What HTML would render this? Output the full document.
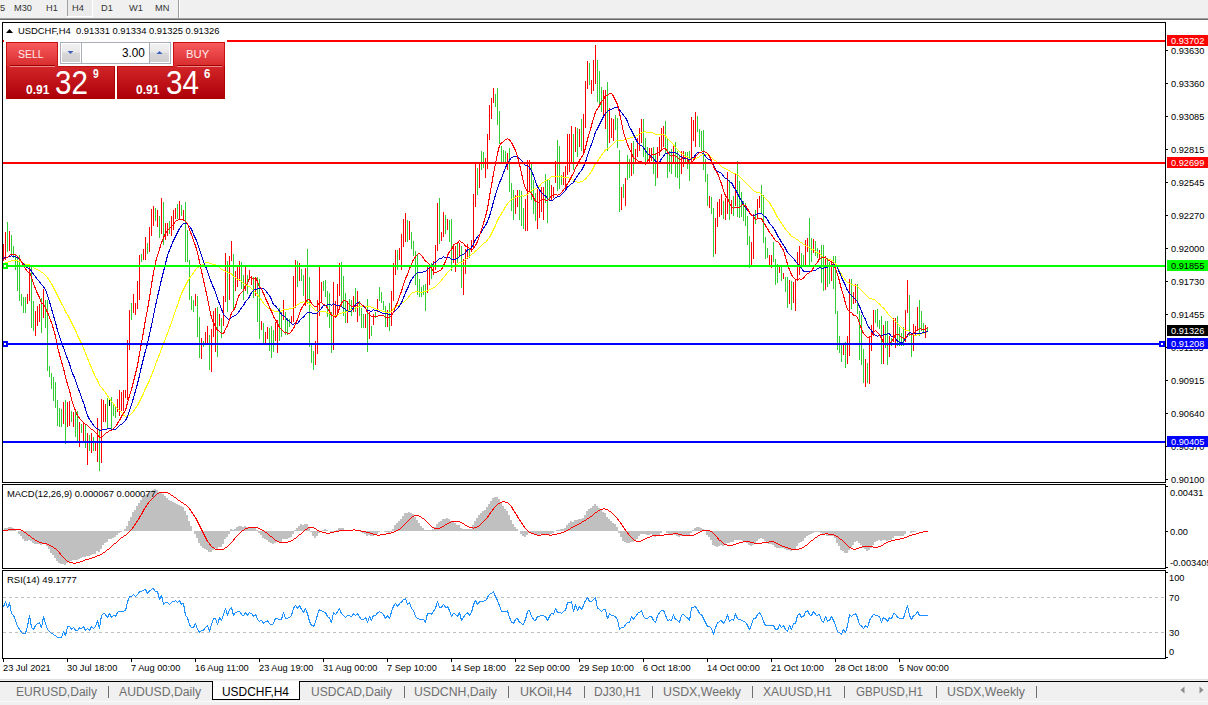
<!DOCTYPE html><html><head><meta charset="utf-8"><style>
html,body{margin:0;padding:0;width:1208px;height:705px;overflow:hidden;background:#fff;}
body{position:relative;font-family:"Liberation Sans",sans-serif;}
.a{position:absolute;white-space:nowrap;}
svg text{font-family:"Liberation Sans",sans-serif;}
</style></head><body>

<div class="a" style="left:0;top:0;width:1208px;height:18px;background:#f0f0f0"></div>
<div class="a" style="left:0;top:18px;width:1208px;height:1px;background:#a0a0a0"></div>
<div class="a" style="left:0;top:19px;width:1208px;height:1px;background:#696969"></div>
<div class="a" style="left:68px;top:0;width:24px;height:16px;background:#ebebeb"></div>
<div class="a" style="left:92px;top:0;width:1px;height:17px;background:#fff"></div>
<div class="a" style="left:67px;top:16px;width:26px;height:1px;background:#fff"></div>
<div class="a" style="left:67px;top:0;width:1px;height:16px;background:#a0a0a0"></div>
<div class="a" style="left:178px;top:0;width:1px;height:18px;background:#a0a0a0"></div>
<div class="a" style="left:179px;top:0;width:1px;height:18px;background:#fff"></div>
<svg class="a" style="left:0;top:0" width="1208" height="705">
<g transform="translate(0,11) scale(0.974,1)"><text x="0" y="0" font-size="9.5" fill="#333">5</text></g>
<g transform="translate(14,11) scale(0.974,1)"><text x="0" y="0" font-size="9.5" fill="#333">M30</text></g>
<g transform="translate(46,11) scale(0.974,1)"><text x="0" y="0" font-size="9.5" fill="#333">H1</text></g>
<g transform="translate(72,11) scale(0.974,1)"><text x="0" y="0" font-size="9.5" fill="#333">H4</text></g>
<g transform="translate(101,11) scale(0.974,1)"><text x="0" y="0" font-size="9.5" fill="#333">D1</text></g>
<g transform="translate(129,11) scale(0.974,1)"><text x="0" y="0" font-size="9.5" fill="#333">W1</text></g>
<g transform="translate(155,11) scale(0.974,1)"><text x="0" y="0" font-size="9.5" fill="#333">MN</text></g>
<g shape-rendering="crispEdges">
<rect x="3" y="244" width="1" height="17" fill="#ff0000"/>
<rect x="5" y="232" width="1" height="28" fill="#ff0000"/>
<rect x="7" y="222" width="1" height="30" fill="#32cd32"/>
<rect x="9" y="231" width="1" height="20" fill="#ff0000"/>
<rect x="11" y="235" width="1" height="21" fill="#32cd32"/>
<rect x="13" y="246" width="1" height="12" fill="#32cd32"/>
<rect x="15" y="255" width="1" height="15" fill="#32cd32"/>
<rect x="17" y="256" width="1" height="35" fill="#32cd32"/>
<rect x="19" y="255" width="1" height="46" fill="#32cd32"/>
<rect x="21" y="294" width="1" height="12" fill="#32cd32"/>
<rect x="23" y="297" width="1" height="16" fill="#32cd32"/>
<rect x="25" y="297" width="1" height="16" fill="#32cd32"/>
<rect x="27" y="294" width="1" height="10" fill="#ff0000"/>
<rect x="29" y="267" width="1" height="34" fill="#ff0000"/>
<rect x="31" y="267" width="1" height="61" fill="#32cd32"/>
<rect x="33" y="301" width="1" height="30" fill="#32cd32"/>
<rect x="35" y="311" width="1" height="25" fill="#ff0000"/>
<rect x="37" y="306" width="1" height="20" fill="#ff0000"/>
<rect x="39" y="304" width="1" height="18" fill="#ff0000"/>
<rect x="41" y="298" width="1" height="35" fill="#32cd32"/>
<rect x="43" y="289" width="1" height="29" fill="#ff0000"/>
<rect x="45" y="300" width="1" height="28" fill="#32cd32"/>
<rect x="47" y="300" width="1" height="71" fill="#32cd32"/>
<rect x="49" y="366" width="1" height="11" fill="#32cd32"/>
<rect x="51" y="373" width="1" height="16" fill="#32cd32"/>
<rect x="53" y="377" width="1" height="24" fill="#32cd32"/>
<rect x="55" y="382" width="1" height="26" fill="#32cd32"/>
<rect x="57" y="400" width="1" height="26" fill="#32cd32"/>
<rect x="59" y="408" width="1" height="19" fill="#32cd32"/>
<rect x="61" y="409" width="1" height="18" fill="#32cd32"/>
<rect x="63" y="402" width="1" height="22" fill="#ff0000"/>
<rect x="65" y="400" width="1" height="44" fill="#32cd32"/>
<rect x="67" y="402" width="1" height="25" fill="#ff0000"/>
<rect x="69" y="401" width="1" height="25" fill="#ff0000"/>
<rect x="71" y="411" width="1" height="11" fill="#32cd32"/>
<rect x="73" y="412" width="1" height="15" fill="#ff0000"/>
<rect x="75" y="411" width="1" height="26" fill="#32cd32"/>
<rect x="77" y="411" width="1" height="32" fill="#32cd32"/>
<rect x="79" y="422" width="1" height="25" fill="#ff0000"/>
<rect x="81" y="424" width="1" height="9" fill="#32cd32"/>
<rect x="83" y="422" width="1" height="19" fill="#ff0000"/>
<rect x="85" y="425" width="1" height="23" fill="#32cd32"/>
<rect x="87" y="433" width="1" height="32" fill="#ff0000"/>
<rect x="89" y="435" width="1" height="16" fill="#32cd32"/>
<rect x="91" y="433" width="1" height="20" fill="#ff0000"/>
<rect x="93" y="437" width="1" height="14" fill="#32cd32"/>
<rect x="95" y="441" width="1" height="10" fill="#ff0000"/>
<rect x="97" y="418" width="1" height="44" fill="#ff0000"/>
<rect x="99" y="429" width="1" height="42" fill="#32cd32"/>
<rect x="101" y="399" width="1" height="64" fill="#ff0000"/>
<rect x="103" y="400" width="1" height="22" fill="#ff0000"/>
<rect x="105" y="404" width="1" height="18" fill="#ff0000"/>
<rect x="107" y="398" width="1" height="31" fill="#32cd32"/>
<rect x="109" y="399" width="1" height="7" fill="#000"/>
<rect x="111" y="397" width="1" height="32" fill="#32cd32"/>
<rect x="113" y="403" width="1" height="13" fill="#32cd32"/>
<rect x="115" y="406" width="1" height="12" fill="#32cd32"/>
<rect x="117" y="399" width="1" height="13" fill="#ff0000"/>
<rect x="119" y="390" width="1" height="26" fill="#ff0000"/>
<rect x="121" y="392" width="1" height="19" fill="#ff0000"/>
<rect x="123" y="390" width="1" height="21" fill="#ff0000"/>
<rect x="125" y="390" width="1" height="8" fill="#ff0000"/>
<rect x="127" y="340" width="1" height="60" fill="#ff0000"/>
<rect x="129" y="310" width="1" height="40" fill="#ff0000"/>
<rect x="131" y="303" width="1" height="17" fill="#32cd32"/>
<rect x="133" y="294" width="1" height="19" fill="#ff0000"/>
<rect x="135" y="303" width="1" height="12" fill="#ff0000"/>
<rect x="137" y="281" width="1" height="28" fill="#ff0000"/>
<rect x="139" y="255" width="1" height="45" fill="#ff0000"/>
<rect x="141" y="254" width="1" height="8" fill="#32cd32"/>
<rect x="143" y="249" width="1" height="11" fill="#ff0000"/>
<rect x="145" y="237" width="1" height="23" fill="#ff0000"/>
<rect x="147" y="243" width="1" height="11" fill="#32cd32"/>
<rect x="149" y="227" width="1" height="25" fill="#ff0000"/>
<rect x="151" y="209" width="1" height="27" fill="#ff0000"/>
<rect x="153" y="206" width="1" height="20" fill="#ff0000"/>
<rect x="155" y="208" width="1" height="13" fill="#32cd32"/>
<rect x="157" y="210" width="1" height="17" fill="#ff0000"/>
<rect x="159" y="216" width="1" height="22" fill="#32cd32"/>
<rect x="161" y="198" width="1" height="36" fill="#ff0000"/>
<rect x="163" y="202" width="1" height="43" fill="#32cd32"/>
<rect x="165" y="223" width="1" height="17" fill="#ff0000"/>
<rect x="167" y="223" width="1" height="13" fill="#ff0000"/>
<rect x="169" y="221" width="1" height="13" fill="#32cd32"/>
<rect x="171" y="216" width="1" height="20" fill="#ff0000"/>
<rect x="173" y="210" width="1" height="20" fill="#ff0000"/>
<rect x="175" y="208" width="1" height="11" fill="#ff0000"/>
<rect x="177" y="204" width="1" height="15" fill="#32cd32"/>
<rect x="179" y="201" width="1" height="18" fill="#ff0000"/>
<rect x="181" y="205" width="1" height="11" fill="#32cd32"/>
<rect x="183" y="210" width="1" height="11" fill="#ff0000"/>
<rect x="185" y="202" width="1" height="60" fill="#32cd32"/>
<rect x="187" y="230" width="1" height="32" fill="#32cd32"/>
<rect x="189" y="260" width="1" height="40" fill="#32cd32"/>
<rect x="191" y="296" width="1" height="14" fill="#32cd32"/>
<rect x="193" y="300" width="1" height="12" fill="#32cd32"/>
<rect x="195" y="294" width="1" height="12" fill="#ff0000"/>
<rect x="197" y="296" width="1" height="41" fill="#32cd32"/>
<rect x="199" y="317" width="1" height="41" fill="#32cd32"/>
<rect x="201" y="338" width="1" height="21" fill="#ff0000"/>
<rect x="203" y="341" width="1" height="6" fill="#32cd32"/>
<rect x="205" y="332" width="1" height="13" fill="#ff0000"/>
<rect x="207" y="326" width="1" height="17" fill="#ff0000"/>
<rect x="209" y="335" width="1" height="35" fill="#32cd32"/>
<rect x="211" y="329" width="1" height="43" fill="#ff0000"/>
<rect x="213" y="311" width="1" height="26" fill="#ff0000"/>
<rect x="215" y="308" width="1" height="44" fill="#ff0000"/>
<rect x="217" y="307" width="1" height="50" fill="#32cd32"/>
<rect x="219" y="314" width="1" height="12" fill="#ff0000"/>
<rect x="221" y="318" width="1" height="20" fill="#32cd32"/>
<rect x="223" y="296" width="1" height="30" fill="#ff0000"/>
<rect x="225" y="253" width="1" height="49" fill="#ff0000"/>
<rect x="227" y="261" width="1" height="51" fill="#32cd32"/>
<rect x="229" y="256" width="1" height="44" fill="#ff0000"/>
<rect x="231" y="241" width="1" height="20" fill="#ff0000"/>
<rect x="233" y="254" width="1" height="56" fill="#32cd32"/>
<rect x="235" y="271" width="1" height="20" fill="#ff0000"/>
<rect x="237" y="265" width="1" height="22" fill="#ff0000"/>
<rect x="239" y="261" width="1" height="20" fill="#ff0000"/>
<rect x="241" y="262" width="1" height="27" fill="#32cd32"/>
<rect x="243" y="275" width="1" height="25" fill="#32cd32"/>
<rect x="245" y="266" width="1" height="25" fill="#ff0000"/>
<rect x="247" y="275" width="1" height="19" fill="#32cd32"/>
<rect x="249" y="270" width="1" height="9" fill="#ff0000"/>
<rect x="251" y="276" width="1" height="9" fill="#ff0000"/>
<rect x="253" y="277" width="1" height="21" fill="#32cd32"/>
<rect x="255" y="278" width="1" height="18" fill="#ff0000"/>
<rect x="257" y="277" width="1" height="45" fill="#32cd32"/>
<rect x="259" y="279" width="1" height="60" fill="#32cd32"/>
<rect x="261" y="321" width="1" height="9" fill="#ff0000"/>
<rect x="263" y="323" width="1" height="22" fill="#32cd32"/>
<rect x="265" y="332" width="1" height="13" fill="#ff0000"/>
<rect x="267" y="327" width="1" height="12" fill="#ff0000"/>
<rect x="269" y="328" width="1" height="23" fill="#32cd32"/>
<rect x="271" y="326" width="1" height="32" fill="#32cd32"/>
<rect x="273" y="330" width="1" height="22" fill="#32cd32"/>
<rect x="275" y="322" width="1" height="19" fill="#ff0000"/>
<rect x="277" y="320" width="1" height="33" fill="#ff0000"/>
<rect x="279" y="308" width="1" height="33" fill="#32cd32"/>
<rect x="281" y="312" width="1" height="25" fill="#32cd32"/>
<rect x="283" y="300" width="1" height="20" fill="#ff0000"/>
<rect x="285" y="312" width="1" height="23" fill="#32cd32"/>
<rect x="287" y="318" width="1" height="17" fill="#32cd32"/>
<rect x="289" y="319" width="1" height="8" fill="#32cd32"/>
<rect x="291" y="316" width="1" height="8" fill="#ff0000"/>
<rect x="293" y="276" width="1" height="46" fill="#ff0000"/>
<rect x="295" y="260" width="1" height="48" fill="#ff0000"/>
<rect x="297" y="261" width="1" height="26" fill="#32cd32"/>
<rect x="299" y="263" width="1" height="18" fill="#ff0000"/>
<rect x="301" y="269" width="1" height="12" fill="#32cd32"/>
<rect x="303" y="275" width="1" height="21" fill="#32cd32"/>
<rect x="305" y="268" width="1" height="38" fill="#ff0000"/>
<rect x="307" y="249" width="1" height="55" fill="#32cd32"/>
<rect x="309" y="277" width="1" height="70" fill="#32cd32"/>
<rect x="311" y="343" width="1" height="20" fill="#32cd32"/>
<rect x="313" y="351" width="1" height="19" fill="#32cd32"/>
<rect x="315" y="341" width="1" height="24" fill="#ff0000"/>
<rect x="317" y="300" width="1" height="54" fill="#ff0000"/>
<rect x="319" y="267" width="1" height="49" fill="#ff0000"/>
<rect x="321" y="282" width="1" height="20" fill="#ff0000"/>
<rect x="323" y="281" width="1" height="10" fill="#32cd32"/>
<rect x="325" y="280" width="1" height="17" fill="#32cd32"/>
<rect x="327" y="291" width="1" height="26" fill="#32cd32"/>
<rect x="329" y="293" width="1" height="35" fill="#32cd32"/>
<rect x="331" y="312" width="1" height="41" fill="#32cd32"/>
<rect x="333" y="282" width="1" height="68" fill="#ff0000"/>
<rect x="335" y="301" width="1" height="17" fill="#ff0000"/>
<rect x="337" y="284" width="1" height="29" fill="#ff0000"/>
<rect x="339" y="263" width="1" height="33" fill="#ff0000"/>
<rect x="341" y="262" width="1" height="44" fill="#32cd32"/>
<rect x="343" y="276" width="1" height="40" fill="#32cd32"/>
<rect x="345" y="293" width="1" height="30" fill="#32cd32"/>
<rect x="347" y="301" width="1" height="22" fill="#ff0000"/>
<rect x="349" y="299" width="1" height="13" fill="#32cd32"/>
<rect x="351" y="300" width="1" height="16" fill="#32cd32"/>
<rect x="353" y="296" width="1" height="16" fill="#ff0000"/>
<rect x="355" y="288" width="1" height="24" fill="#32cd32"/>
<rect x="357" y="291" width="1" height="31" fill="#ff0000"/>
<rect x="359" y="301" width="1" height="15" fill="#32cd32"/>
<rect x="361" y="308" width="1" height="20" fill="#32cd32"/>
<rect x="363" y="314" width="1" height="14" fill="#32cd32"/>
<rect x="365" y="314" width="1" height="14" fill="#ff0000"/>
<rect x="367" y="299" width="1" height="53" fill="#32cd32"/>
<rect x="369" y="312" width="1" height="27" fill="#ff0000"/>
<rect x="371" y="326" width="1" height="10" fill="#32cd32"/>
<rect x="373" y="314" width="1" height="11" fill="#ff0000"/>
<rect x="375" y="312" width="1" height="6" fill="#32cd32"/>
<rect x="377" y="299" width="1" height="13" fill="#ff0000"/>
<rect x="379" y="287" width="1" height="14" fill="#32cd32"/>
<rect x="381" y="292" width="1" height="11" fill="#32cd32"/>
<rect x="383" y="301" width="1" height="9" fill="#32cd32"/>
<rect x="385" y="306" width="1" height="21" fill="#32cd32"/>
<rect x="387" y="310" width="1" height="17" fill="#ff0000"/>
<rect x="389" y="303" width="1" height="28" fill="#32cd32"/>
<rect x="391" y="291" width="1" height="35" fill="#ff0000"/>
<rect x="393" y="263" width="1" height="38" fill="#ff0000"/>
<rect x="395" y="250" width="1" height="25" fill="#ff0000"/>
<rect x="397" y="250" width="1" height="20" fill="#32cd32"/>
<rect x="399" y="248" width="1" height="12" fill="#ff0000"/>
<rect x="401" y="234" width="1" height="36" fill="#ff0000"/>
<rect x="403" y="219" width="1" height="28" fill="#ff0000"/>
<rect x="405" y="213" width="1" height="29" fill="#ff0000"/>
<rect x="407" y="220" width="1" height="22" fill="#32cd32"/>
<rect x="409" y="221" width="1" height="19" fill="#ff0000"/>
<rect x="411" y="232" width="1" height="17" fill="#32cd32"/>
<rect x="413" y="241" width="1" height="15" fill="#32cd32"/>
<rect x="415" y="251" width="1" height="34" fill="#32cd32"/>
<rect x="417" y="254" width="1" height="41" fill="#32cd32"/>
<rect x="419" y="279" width="1" height="18" fill="#32cd32"/>
<rect x="421" y="287" width="1" height="10" fill="#32cd32"/>
<rect x="423" y="285" width="1" height="10" fill="#32cd32"/>
<rect x="425" y="284" width="1" height="27" fill="#32cd32"/>
<rect x="427" y="266" width="1" height="27" fill="#ff0000"/>
<rect x="429" y="267" width="1" height="18" fill="#ff0000"/>
<rect x="431" y="263" width="1" height="16" fill="#32cd32"/>
<rect x="433" y="261" width="1" height="14" fill="#ff0000"/>
<rect x="435" y="245" width="1" height="25" fill="#ff0000"/>
<rect x="437" y="203" width="1" height="48" fill="#ff0000"/>
<rect x="439" y="198" width="1" height="46" fill="#32cd32"/>
<rect x="441" y="232" width="1" height="9" fill="#ff0000"/>
<rect x="443" y="212" width="1" height="25" fill="#ff0000"/>
<rect x="445" y="215" width="1" height="19" fill="#32cd32"/>
<rect x="447" y="219" width="1" height="11" fill="#ff0000"/>
<rect x="449" y="220" width="1" height="22" fill="#32cd32"/>
<rect x="451" y="219" width="1" height="52" fill="#32cd32"/>
<rect x="453" y="244" width="1" height="19" fill="#ff0000"/>
<rect x="455" y="246" width="1" height="26" fill="#ff0000"/>
<rect x="457" y="243" width="1" height="20" fill="#32cd32"/>
<rect x="459" y="243" width="1" height="14" fill="#ff0000"/>
<rect x="461" y="246" width="1" height="42" fill="#32cd32"/>
<rect x="463" y="259" width="1" height="36" fill="#ff0000"/>
<rect x="465" y="249" width="1" height="25" fill="#ff0000"/>
<rect x="467" y="244" width="1" height="15" fill="#ff0000"/>
<rect x="469" y="248" width="1" height="10" fill="#32cd32"/>
<rect x="471" y="240" width="1" height="12" fill="#ff0000"/>
<rect x="473" y="194" width="1" height="55" fill="#ff0000"/>
<rect x="475" y="163" width="1" height="44" fill="#ff0000"/>
<rect x="477" y="168" width="1" height="27" fill="#32cd32"/>
<rect x="479" y="163" width="1" height="25" fill="#ff0000"/>
<rect x="481" y="151" width="1" height="19" fill="#32cd32"/>
<rect x="483" y="152" width="1" height="16" fill="#32cd32"/>
<rect x="485" y="158" width="1" height="20" fill="#ff0000"/>
<rect x="487" y="134" width="1" height="35" fill="#ff0000"/>
<rect x="489" y="105" width="1" height="35" fill="#ff0000"/>
<rect x="491" y="98" width="1" height="21" fill="#ff0000"/>
<rect x="493" y="88" width="1" height="15" fill="#ff0000"/>
<rect x="495" y="94" width="1" height="13" fill="#32cd32"/>
<rect x="497" y="88" width="1" height="37" fill="#32cd32"/>
<rect x="499" y="111" width="1" height="33" fill="#32cd32"/>
<rect x="501" y="146" width="1" height="16" fill="#32cd32"/>
<rect x="503" y="150" width="1" height="13" fill="#32cd32"/>
<rect x="505" y="151" width="1" height="11" fill="#32cd32"/>
<rect x="507" y="153" width="1" height="17" fill="#ff0000"/>
<rect x="509" y="148" width="1" height="44" fill="#32cd32"/>
<rect x="511" y="183" width="1" height="28" fill="#32cd32"/>
<rect x="513" y="190" width="1" height="30" fill="#32cd32"/>
<rect x="515" y="195" width="1" height="19" fill="#ff0000"/>
<rect x="517" y="190" width="1" height="17" fill="#ff0000"/>
<rect x="519" y="190" width="1" height="30" fill="#32cd32"/>
<rect x="521" y="191" width="1" height="35" fill="#32cd32"/>
<rect x="523" y="208" width="1" height="21" fill="#32cd32"/>
<rect x="525" y="199" width="1" height="32" fill="#ff0000"/>
<rect x="527" y="160" width="1" height="71" fill="#ff0000"/>
<rect x="529" y="160" width="1" height="32" fill="#ff0000"/>
<rect x="531" y="164" width="1" height="36" fill="#32cd32"/>
<rect x="533" y="180" width="1" height="34" fill="#32cd32"/>
<rect x="535" y="193" width="1" height="28" fill="#32cd32"/>
<rect x="537" y="189" width="1" height="40" fill="#ff0000"/>
<rect x="539" y="190" width="1" height="28" fill="#ff0000"/>
<rect x="541" y="187" width="1" height="25" fill="#ff0000"/>
<rect x="543" y="187" width="1" height="33" fill="#ff0000"/>
<rect x="545" y="174" width="1" height="29" fill="#32cd32"/>
<rect x="547" y="179" width="1" height="44" fill="#32cd32"/>
<rect x="549" y="180" width="1" height="21" fill="#32cd32"/>
<rect x="551" y="185" width="1" height="15" fill="#ff0000"/>
<rect x="553" y="187" width="1" height="11" fill="#ff0000"/>
<rect x="555" y="161" width="1" height="22" fill="#ff0000"/>
<rect x="557" y="140" width="1" height="51" fill="#32cd32"/>
<rect x="559" y="146" width="1" height="43" fill="#32cd32"/>
<rect x="561" y="175" width="1" height="10" fill="#32cd32"/>
<rect x="563" y="172" width="1" height="13" fill="#ff0000"/>
<rect x="565" y="166" width="1" height="25" fill="#ff0000"/>
<rect x="567" y="134" width="1" height="41" fill="#ff0000"/>
<rect x="569" y="134" width="1" height="38" fill="#ff0000"/>
<rect x="571" y="126" width="1" height="37" fill="#ff0000"/>
<rect x="573" y="134" width="1" height="36" fill="#32cd32"/>
<rect x="575" y="127" width="1" height="25" fill="#ff0000"/>
<rect x="577" y="128" width="1" height="29" fill="#32cd32"/>
<rect x="579" y="129" width="1" height="18" fill="#ff0000"/>
<rect x="581" y="119" width="1" height="32" fill="#32cd32"/>
<rect x="583" y="114" width="1" height="39" fill="#ff0000"/>
<rect x="585" y="81" width="1" height="47" fill="#ff0000"/>
<rect x="587" y="61" width="1" height="28" fill="#ff0000"/>
<rect x="589" y="63" width="1" height="22" fill="#32cd32"/>
<rect x="591" y="80" width="1" height="14" fill="#ff0000"/>
<rect x="593" y="60" width="1" height="31" fill="#ff0000"/>
<rect x="595" y="45" width="1" height="39" fill="#ff0000"/>
<rect x="597" y="60" width="1" height="42" fill="#32cd32"/>
<rect x="599" y="71" width="1" height="33" fill="#32cd32"/>
<rect x="601" y="87" width="1" height="25" fill="#32cd32"/>
<rect x="603" y="90" width="1" height="27" fill="#ff0000"/>
<rect x="605" y="90" width="1" height="39" fill="#ff0000"/>
<rect x="607" y="82" width="1" height="69" fill="#32cd32"/>
<rect x="609" y="108" width="1" height="35" fill="#ff0000"/>
<rect x="611" y="118" width="1" height="20" fill="#ff0000"/>
<rect x="613" y="119" width="1" height="22" fill="#ff0000"/>
<rect x="615" y="115" width="1" height="15" fill="#32cd32"/>
<rect x="617" y="118" width="1" height="30" fill="#32cd32"/>
<rect x="619" y="150" width="1" height="62" fill="#32cd32"/>
<rect x="621" y="187" width="1" height="23" fill="#ff0000"/>
<rect x="623" y="184" width="1" height="14" fill="#32cd32"/>
<rect x="625" y="178" width="1" height="28" fill="#ff0000"/>
<rect x="627" y="155" width="1" height="25" fill="#32cd32"/>
<rect x="629" y="159" width="1" height="19" fill="#32cd32"/>
<rect x="631" y="143" width="1" height="33" fill="#ff0000"/>
<rect x="633" y="141" width="1" height="33" fill="#32cd32"/>
<rect x="635" y="149" width="1" height="15" fill="#ff0000"/>
<rect x="637" y="138" width="1" height="19" fill="#ff0000"/>
<rect x="639" y="128" width="1" height="23" fill="#ff0000"/>
<rect x="641" y="119" width="1" height="24" fill="#ff0000"/>
<rect x="643" y="119" width="1" height="38" fill="#32cd32"/>
<rect x="645" y="138" width="1" height="25" fill="#32cd32"/>
<rect x="647" y="147" width="1" height="15" fill="#32cd32"/>
<rect x="649" y="148" width="1" height="15" fill="#ff0000"/>
<rect x="651" y="148" width="1" height="13" fill="#ff0000"/>
<rect x="653" y="147" width="1" height="27" fill="#32cd32"/>
<rect x="655" y="153" width="1" height="33" fill="#32cd32"/>
<rect x="657" y="147" width="1" height="31" fill="#ff0000"/>
<rect x="659" y="137" width="1" height="19" fill="#ff0000"/>
<rect x="661" y="128" width="1" height="21" fill="#ff0000"/>
<rect x="663" y="126" width="1" height="21" fill="#ff0000"/>
<rect x="665" y="121" width="1" height="33" fill="#32cd32"/>
<rect x="667" y="138" width="1" height="40" fill="#32cd32"/>
<rect x="669" y="151" width="1" height="21" fill="#32cd32"/>
<rect x="671" y="149" width="1" height="25" fill="#32cd32"/>
<rect x="673" y="146" width="1" height="17" fill="#ff0000"/>
<rect x="675" y="142" width="1" height="35" fill="#32cd32"/>
<rect x="677" y="151" width="1" height="27" fill="#32cd32"/>
<rect x="679" y="155" width="1" height="34" fill="#32cd32"/>
<rect x="681" y="151" width="1" height="23" fill="#ff0000"/>
<rect x="683" y="151" width="1" height="16" fill="#ff0000"/>
<rect x="685" y="152" width="1" height="10" fill="#32cd32"/>
<rect x="687" y="152" width="1" height="17" fill="#32cd32"/>
<rect x="689" y="151" width="1" height="30" fill="#32cd32"/>
<rect x="691" y="117" width="1" height="46" fill="#ff0000"/>
<rect x="693" y="120" width="1" height="21" fill="#ff0000"/>
<rect x="695" y="112" width="1" height="35" fill="#ff0000"/>
<rect x="697" y="116" width="1" height="16" fill="#32cd32"/>
<rect x="699" y="129" width="1" height="18" fill="#32cd32"/>
<rect x="701" y="131" width="1" height="20" fill="#32cd32"/>
<rect x="703" y="130" width="1" height="40" fill="#32cd32"/>
<rect x="705" y="159" width="1" height="23" fill="#32cd32"/>
<rect x="707" y="174" width="1" height="32" fill="#32cd32"/>
<rect x="709" y="196" width="1" height="12" fill="#ff0000"/>
<rect x="711" y="197" width="1" height="17" fill="#32cd32"/>
<rect x="713" y="208" width="1" height="49" fill="#32cd32"/>
<rect x="715" y="218" width="1" height="36" fill="#ff0000"/>
<rect x="717" y="202" width="1" height="25" fill="#ff0000"/>
<rect x="719" y="199" width="1" height="18" fill="#ff0000"/>
<rect x="721" y="194" width="1" height="21" fill="#ff0000"/>
<rect x="723" y="201" width="1" height="18" fill="#32cd32"/>
<rect x="725" y="198" width="1" height="22" fill="#ff0000"/>
<rect x="727" y="172" width="1" height="42" fill="#ff0000"/>
<rect x="729" y="180" width="1" height="40" fill="#32cd32"/>
<rect x="731" y="200" width="1" height="14" fill="#ff0000"/>
<rect x="733" y="196" width="1" height="20" fill="#32cd32"/>
<rect x="735" y="174" width="1" height="32" fill="#ff0000"/>
<rect x="737" y="161" width="1" height="56" fill="#32cd32"/>
<rect x="739" y="181" width="1" height="37" fill="#32cd32"/>
<rect x="741" y="192" width="1" height="25" fill="#32cd32"/>
<rect x="743" y="201" width="1" height="20" fill="#32cd32"/>
<rect x="745" y="203" width="1" height="23" fill="#32cd32"/>
<rect x="747" y="216" width="1" height="29" fill="#32cd32"/>
<rect x="749" y="236" width="1" height="32" fill="#32cd32"/>
<rect x="751" y="242" width="1" height="25" fill="#ff0000"/>
<rect x="753" y="214" width="1" height="45" fill="#ff0000"/>
<rect x="755" y="210" width="1" height="14" fill="#32cd32"/>
<rect x="757" y="199" width="1" height="20" fill="#ff0000"/>
<rect x="759" y="196" width="1" height="12" fill="#ff0000"/>
<rect x="761" y="185" width="1" height="29" fill="#32cd32"/>
<rect x="763" y="195" width="1" height="48" fill="#32cd32"/>
<rect x="765" y="237" width="1" height="22" fill="#32cd32"/>
<rect x="767" y="248" width="1" height="10" fill="#32cd32"/>
<rect x="769" y="255" width="1" height="12" fill="#ff0000"/>
<rect x="771" y="255" width="1" height="13" fill="#ff0000"/>
<rect x="773" y="242" width="1" height="20" fill="#32cd32"/>
<rect x="775" y="259" width="1" height="26" fill="#32cd32"/>
<rect x="777" y="264" width="1" height="19" fill="#32cd32"/>
<rect x="779" y="265" width="1" height="8" fill="#ff0000"/>
<rect x="781" y="267" width="1" height="14" fill="#32cd32"/>
<rect x="783" y="273" width="1" height="6" fill="#ff0000"/>
<rect x="785" y="277" width="1" height="15" fill="#32cd32"/>
<rect x="787" y="277" width="1" height="31" fill="#32cd32"/>
<rect x="789" y="280" width="1" height="24" fill="#ff0000"/>
<rect x="791" y="281" width="1" height="29" fill="#32cd32"/>
<rect x="793" y="282" width="1" height="21" fill="#ff0000"/>
<rect x="795" y="279" width="1" height="32" fill="#ff0000"/>
<rect x="797" y="252" width="1" height="29" fill="#ff0000"/>
<rect x="799" y="246" width="1" height="29" fill="#ff0000"/>
<rect x="801" y="253" width="1" height="16" fill="#32cd32"/>
<rect x="803" y="255" width="1" height="10" fill="#32cd32"/>
<rect x="805" y="240" width="1" height="25" fill="#ff0000"/>
<rect x="807" y="238" width="1" height="14" fill="#ff0000"/>
<rect x="809" y="218" width="1" height="47" fill="#32cd32"/>
<rect x="811" y="238" width="1" height="24" fill="#32cd32"/>
<rect x="813" y="239" width="1" height="14" fill="#ff0000"/>
<rect x="815" y="241" width="1" height="15" fill="#32cd32"/>
<rect x="817" y="248" width="1" height="10" fill="#32cd32"/>
<rect x="819" y="250" width="1" height="10" fill="#ff0000"/>
<rect x="821" y="245" width="1" height="38" fill="#32cd32"/>
<rect x="823" y="245" width="1" height="46" fill="#32cd32"/>
<rect x="825" y="256" width="1" height="34" fill="#ff0000"/>
<rect x="827" y="258" width="1" height="29" fill="#32cd32"/>
<rect x="829" y="262" width="1" height="22" fill="#32cd32"/>
<rect x="831" y="262" width="1" height="19" fill="#ff0000"/>
<rect x="833" y="256" width="1" height="33" fill="#32cd32"/>
<rect x="835" y="256" width="1" height="58" fill="#32cd32"/>
<rect x="837" y="311" width="1" height="39" fill="#32cd32"/>
<rect x="839" y="336" width="1" height="17" fill="#32cd32"/>
<rect x="841" y="344" width="1" height="18" fill="#32cd32"/>
<rect x="843" y="343" width="1" height="12" fill="#ff0000"/>
<rect x="845" y="342" width="1" height="26" fill="#32cd32"/>
<rect x="847" y="336" width="1" height="28" fill="#ff0000"/>
<rect x="849" y="279" width="1" height="77" fill="#ff0000"/>
<rect x="851" y="279" width="1" height="30" fill="#32cd32"/>
<rect x="853" y="292" width="1" height="12" fill="#ff0000"/>
<rect x="855" y="284" width="1" height="19" fill="#ff0000"/>
<rect x="857" y="284" width="1" height="30" fill="#32cd32"/>
<rect x="859" y="311" width="1" height="49" fill="#32cd32"/>
<rect x="861" y="315" width="1" height="50" fill="#32cd32"/>
<rect x="863" y="349" width="1" height="34" fill="#32cd32"/>
<rect x="865" y="359" width="1" height="28" fill="#ff0000"/>
<rect x="867" y="363" width="1" height="20" fill="#32cd32"/>
<rect x="869" y="336" width="1" height="48" fill="#ff0000"/>
<rect x="871" y="325" width="1" height="26" fill="#ff0000"/>
<rect x="873" y="310" width="1" height="26" fill="#ff0000"/>
<rect x="875" y="310" width="1" height="13" fill="#32cd32"/>
<rect x="877" y="309" width="1" height="18" fill="#32cd32"/>
<rect x="879" y="320" width="1" height="9" fill="#32cd32"/>
<rect x="881" y="316" width="1" height="48" fill="#32cd32"/>
<rect x="883" y="325" width="1" height="39" fill="#ff0000"/>
<rect x="885" y="321" width="1" height="27" fill="#32cd32"/>
<rect x="887" y="321" width="1" height="44" fill="#32cd32"/>
<rect x="889" y="336" width="1" height="21" fill="#ff0000"/>
<rect x="891" y="338" width="1" height="8" fill="#32cd32"/>
<rect x="893" y="318" width="1" height="24" fill="#ff0000"/>
<rect x="895" y="318" width="1" height="30" fill="#ff0000"/>
<rect x="897" y="316" width="1" height="30" fill="#32cd32"/>
<rect x="899" y="327" width="1" height="19" fill="#32cd32"/>
<rect x="901" y="333" width="1" height="13" fill="#32cd32"/>
<rect x="903" y="327" width="1" height="19" fill="#32cd32"/>
<rect x="905" y="310" width="1" height="32" fill="#ff0000"/>
<rect x="907" y="280" width="1" height="33" fill="#ff0000"/>
<rect x="909" y="295" width="1" height="41" fill="#32cd32"/>
<rect x="911" y="334" width="1" height="23" fill="#32cd32"/>
<rect x="913" y="324" width="1" height="27" fill="#ff0000"/>
<rect x="915" y="326" width="1" height="10" fill="#ff0000"/>
<rect x="917" y="307" width="1" height="24" fill="#ff0000"/>
<rect x="919" y="300" width="1" height="36" fill="#32cd32"/>
<rect x="921" y="311" width="1" height="20" fill="#32cd32"/>
<rect x="923" y="323" width="1" height="10" fill="#32cd32"/>
<rect x="925" y="325" width="1" height="13" fill="#ff0000"/>
<rect x="927" y="328" width="1" height="3" fill="#32cd32"/>
</g>
<path d="M3 263h1v1h-1zM4 263h1v1h-1zM5 262h1v1h-1zM6 262h1v1h-1zM7 262h1v1h-1zM8 261h1v1h-1zM9 261h1v1h-1zM10 261h1v1h-1zM11 260h1v1h-1zM12 260h1v1h-1zM13 260h1v1h-1zM14 260h1v1h-1zM15 260h1v1h-1zM16 260h1v1h-1zM17 260h1v1h-1zM18 261h1v1h-1zM19 261h1v1h-1zM20 261h1v1h-1zM21 262h1v1h-1zM22 262h1v1h-1zM23 263h1v1h-1zM24 263h1v1h-1zM25 264h1v1h-1zM26 264h1v1h-1zM27 264h1v1h-1zM28 264h1v1h-1zM29 264h1v1h-1zM30 265h1v1h-1zM31 266h1v1h-1zM32 266h1v1h-1zM33 267h1v1h-1zM34 268h1v1h-1zM35 268h1v1h-1zM36 269h1v1h-1zM37 269h1v1h-1zM38 270h1v1h-1zM39 270h1v1h-1zM40 271h1v1h-1zM41 272h1v1h-1zM42 272h1v1h-1zM43 273h1v1h-1zM44 274h1v1h-1zM45 275h1v1h-1zM46 276h1v1h-1zM47 277h1v2h-1zM48 278h1v2h-1zM49 280h1v2h-1zM50 281h1v2h-1zM51 283h1v2h-1zM52 284h1v3h-1zM53 286h1v3h-1zM54 288h1v3h-1zM55 290h1v3h-1zM56 292h1v3h-1zM57 294h1v3h-1zM58 296h1v3h-1zM59 298h1v3h-1zM60 300h1v3h-1zM61 302h1v3h-1zM62 304h1v2h-1zM63 306h1v2h-1zM64 308h1v3h-1zM65 310h1v3h-1zM66 312h1v2h-1zM67 314h1v2h-1zM68 315h1v3h-1zM69 317h1v3h-1zM70 319h1v3h-1zM71 321h1v3h-1zM72 323h1v3h-1zM73 325h1v3h-1zM74 327h1v3h-1zM75 329h1v3h-1zM76 331h1v3h-1zM77 334h1v3h-1zM78 336h1v3h-1zM79 338h1v3h-1zM80 340h1v3h-1zM81 342h1v3h-1zM82 344h1v3h-1zM83 347h1v3h-1zM84 349h1v3h-1zM85 352h1v3h-1zM86 354h1v3h-1zM87 357h1v3h-1zM88 359h1v3h-1zM89 362h1v3h-1zM90 364h1v3h-1zM91 366h1v3h-1zM92 369h1v3h-1zM93 371h1v3h-1zM94 373h1v3h-1zM95 376h1v2h-1zM96 378h1v2h-1zM97 379h1v3h-1zM98 381h1v3h-1zM99 384h1v2h-1zM100 386h1v1h-1zM101 387h1v1h-1zM102 388h1v2h-1zM103 389h1v2h-1zM104 391h1v1h-1zM105 392h1v2h-1zM106 393h1v2h-1zM107 395h1v2h-1zM108 396h1v2h-1zM109 398h1v2h-1zM110 399h1v2h-1zM111 401h1v1h-1zM112 402h1v1h-1zM113 403h1v2h-1zM114 404h1v2h-1zM115 406h1v1h-1zM116 407h1v1h-1zM117 408h1v1h-1zM118 409h1v1h-1zM119 410h1v1h-1zM120 411h1v1h-1zM121 412h1v1h-1zM122 413h1v2h-1zM123 414h1v2h-1zM124 415h1v1h-1zM125 416h1v1h-1zM126 416h1v1h-1zM127 416h1v1h-1zM128 415h1v1h-1zM129 415h1v1h-1zM130 414h1v1h-1zM131 413h1v1h-1zM132 412h1v1h-1zM133 410h1v2h-1zM134 409h1v2h-1zM135 407h1v2h-1zM136 406h1v2h-1zM137 404h1v2h-1zM138 402h1v3h-1zM139 400h1v3h-1zM140 398h1v3h-1zM141 396h1v3h-1zM142 394h1v3h-1zM143 392h1v3h-1zM144 389h1v3h-1zM145 387h1v3h-1zM146 385h1v3h-1zM147 383h1v3h-1zM148 381h1v3h-1zM149 379h1v3h-1zM150 376h1v3h-1zM151 374h1v3h-1zM152 371h1v3h-1zM153 369h1v3h-1zM154 366h1v3h-1zM155 363h1v3h-1zM156 360h1v3h-1zM157 358h1v3h-1zM158 355h1v3h-1zM159 353h1v3h-1zM160 350h1v3h-1zM161 347h1v3h-1zM162 345h1v3h-1zM163 342h1v3h-1zM164 340h1v3h-1zM165 337h1v3h-1zM166 334h1v3h-1zM167 332h1v3h-1zM168 329h1v3h-1zM169 326h1v3h-1zM170 324h1v3h-1zM171 321h1v3h-1zM172 318h1v3h-1zM173 315h1v3h-1zM174 312h1v3h-1zM175 309h1v3h-1zM176 306h1v3h-1zM177 304h1v3h-1zM178 300h1v4h-1zM179 297h1v4h-1zM180 295h1v3h-1zM181 292h1v3h-1zM182 290h1v3h-1zM183 288h1v3h-1zM184 286h1v3h-1zM185 284h1v3h-1zM186 282h1v3h-1zM187 280h1v3h-1zM188 279h1v2h-1zM189 277h1v2h-1zM190 276h1v2h-1zM191 275h1v1h-1zM192 273h1v2h-1zM193 272h1v2h-1zM194 270h1v2h-1zM195 269h1v2h-1zM196 268h1v1h-1zM197 267h1v1h-1zM198 267h1v1h-1zM199 266h1v1h-1zM200 266h1v1h-1zM201 265h1v1h-1zM202 264h1v1h-1zM203 264h1v1h-1zM204 263h1v1h-1zM205 262h1v1h-1zM206 262h1v1h-1zM207 262h1v1h-1zM208 262h1v1h-1zM209 263h1v1h-1zM210 263h1v1h-1zM211 263h1v1h-1zM212 264h1v1h-1zM213 264h1v1h-1zM214 264h1v1h-1zM215 264h1v1h-1zM216 265h1v1h-1zM217 266h1v1h-1zM218 266h1v1h-1zM219 267h1v1h-1zM220 268h1v1h-1zM221 269h1v1h-1zM222 269h1v1h-1zM223 270h1v1h-1zM224 270h1v1h-1zM225 271h1v1h-1zM226 271h1v1h-1zM227 272h1v1h-1zM228 272h1v1h-1zM229 273h1v1h-1zM230 273h1v1h-1zM231 273h1v2h-1zM232 274h1v2h-1zM233 276h1v1h-1zM234 276h1v1h-1zM235 277h1v1h-1zM236 278h1v1h-1zM237 279h1v1h-1zM238 279h1v1h-1zM239 279h1v1h-1zM240 280h1v1h-1zM241 281h1v1h-1zM242 282h1v1h-1zM243 283h1v1h-1zM244 283h1v1h-1zM245 284h1v1h-1zM246 285h1v1h-1zM247 285h1v1h-1zM248 286h1v1h-1zM249 286h1v1h-1zM250 287h1v1h-1zM251 288h1v1h-1zM252 289h1v1h-1zM253 290h1v1h-1zM254 291h1v1h-1zM255 292h1v1h-1zM256 293h1v1h-1zM257 294h1v2h-1zM258 295h1v2h-1zM259 297h1v1h-1zM260 298h1v2h-1zM261 299h1v2h-1zM262 301h1v2h-1zM263 302h1v2h-1zM264 304h1v1h-1zM265 305h1v1h-1zM266 306h1v1h-1zM267 307h1v1h-1zM268 308h1v1h-1zM269 308h1v1h-1zM270 309h1v1h-1zM271 309h1v1h-1zM272 310h1v1h-1zM273 310h1v1h-1zM274 311h1v1h-1zM275 311h1v1h-1zM276 311h1v1h-1zM277 311h1v1h-1zM278 311h1v1h-1zM279 311h1v1h-1zM280 311h1v1h-1zM281 310h1v1h-1zM282 310h1v1h-1zM283 309h1v1h-1zM284 309h1v1h-1zM285 309h1v1h-1zM286 309h1v1h-1zM287 309h1v1h-1zM288 309h1v1h-1zM289 308h1v1h-1zM290 308h1v1h-1zM291 308h1v1h-1zM292 308h1v1h-1zM293 307h1v1h-1zM294 307h1v1h-1zM295 306h1v1h-1zM296 305h1v1h-1zM297 304h1v1h-1zM298 304h1v1h-1zM299 303h1v1h-1zM300 302h1v1h-1zM301 302h1v1h-1zM302 302h1v1h-1zM303 301h1v1h-1zM304 302h1v1h-1zM305 302h1v1h-1zM306 302h1v1h-1zM307 302h1v1h-1zM308 302h1v1h-1zM309 303h1v2h-1zM310 304h1v2h-1zM311 306h1v1h-1zM312 307h1v1h-1zM313 308h1v1h-1zM314 309h1v1h-1zM315 310h1v1h-1zM316 310h1v1h-1zM317 311h1v1h-1zM318 311h1v1h-1zM319 311h1v1h-1zM320 311h1v1h-1zM321 311h1v1h-1zM322 311h1v1h-1zM323 311h1v1h-1zM324 311h1v1h-1zM325 311h1v1h-1zM326 312h1v1h-1zM327 312h1v1h-1zM328 313h1v1h-1zM329 313h1v1h-1zM330 314h1v1h-1zM331 315h1v1h-1zM332 315h1v1h-1zM333 315h1v1h-1zM334 315h1v1h-1zM335 315h1v1h-1zM336 315h1v1h-1zM337 315h1v1h-1zM338 314h1v1h-1zM339 313h1v1h-1zM340 313h1v1h-1zM341 313h1v1h-1zM342 312h1v1h-1zM343 312h1v1h-1zM344 312h1v1h-1zM345 312h1v1h-1zM346 311h1v1h-1zM347 311h1v1h-1zM348 310h1v1h-1zM349 310h1v1h-1zM350 309h1v1h-1zM351 309h1v1h-1zM352 308h1v1h-1zM353 308h1v1h-1zM354 308h1v1h-1zM355 307h1v1h-1zM356 307h1v1h-1zM357 307h1v1h-1zM358 306h1v1h-1zM359 306h1v1h-1zM360 306h1v1h-1zM361 306h1v1h-1zM362 306h1v1h-1zM363 306h1v1h-1zM364 306h1v1h-1zM365 306h1v1h-1zM366 306h1v1h-1zM367 306h1v1h-1zM368 306h1v1h-1zM369 306h1v1h-1zM370 306h1v1h-1zM371 307h1v1h-1zM372 307h1v1h-1zM373 307h1v1h-1zM374 308h1v1h-1zM375 308h1v1h-1zM376 309h1v1h-1zM377 309h1v1h-1zM378 309h1v1h-1zM379 310h1v1h-1zM380 310h1v1h-1zM381 310h1v1h-1zM382 311h1v1h-1zM383 311h1v1h-1zM384 311h1v1h-1zM385 312h1v1h-1zM386 312h1v1h-1zM387 312h1v1h-1zM388 312h1v1h-1zM389 312h1v1h-1zM390 311h1v1h-1zM391 311h1v1h-1zM392 309h1v2h-1zM393 308h1v2h-1zM394 307h1v1h-1zM395 306h1v1h-1zM396 306h1v1h-1zM397 305h1v1h-1zM398 305h1v1h-1zM399 304h1v1h-1zM400 304h1v1h-1zM401 303h1v1h-1zM402 302h1v1h-1zM403 302h1v1h-1zM404 301h1v1h-1zM405 300h1v1h-1zM406 299h1v1h-1zM407 298h1v1h-1zM408 296h1v2h-1zM409 295h1v2h-1zM410 294h1v1h-1zM411 293h1v1h-1zM412 292h1v1h-1zM413 292h1v1h-1zM414 292h1v1h-1zM415 291h1v1h-1zM416 291h1v1h-1zM417 291h1v1h-1zM418 291h1v1h-1zM419 292h1v1h-1zM420 292h1v1h-1zM421 292h1v1h-1zM422 292h1v1h-1zM423 291h1v1h-1zM424 291h1v1h-1zM425 291h1v1h-1zM426 291h1v1h-1zM427 290h1v1h-1zM428 290h1v1h-1zM429 289h1v1h-1zM430 289h1v1h-1zM431 288h1v1h-1zM432 288h1v1h-1zM433 287h1v1h-1zM434 287h1v1h-1zM435 286h1v1h-1zM436 285h1v1h-1zM437 284h1v1h-1zM438 283h1v1h-1zM439 282h1v1h-1zM440 281h1v1h-1zM441 279h1v2h-1zM442 278h1v2h-1zM443 277h1v1h-1zM444 276h1v1h-1zM445 274h1v2h-1zM446 273h1v2h-1zM447 272h1v1h-1zM448 271h1v1h-1zM449 270h1v1h-1zM450 269h1v1h-1zM451 268h1v1h-1zM452 267h1v1h-1zM453 266h1v1h-1zM454 265h1v1h-1zM455 265h1v1h-1zM456 264h1v1h-1zM457 264h1v1h-1zM458 263h1v1h-1zM459 262h1v1h-1zM460 262h1v1h-1zM461 262h1v1h-1zM462 261h1v1h-1zM463 261h1v1h-1zM464 260h1v1h-1zM465 259h1v1h-1zM466 258h1v1h-1zM467 257h1v1h-1zM468 256h1v1h-1zM469 256h1v1h-1zM470 255h1v1h-1zM471 254h1v1h-1zM472 253h1v1h-1zM473 253h1v1h-1zM474 251h1v2h-1zM475 250h1v2h-1zM476 250h1v1h-1zM477 249h1v1h-1zM478 248h1v1h-1zM479 247h1v1h-1zM480 246h1v1h-1zM481 245h1v1h-1zM482 244h1v1h-1zM483 243h1v1h-1zM484 242h1v1h-1zM485 242h1v1h-1zM486 240h1v2h-1zM487 239h1v2h-1zM488 238h1v1h-1zM489 236h1v2h-1zM490 234h1v3h-1zM491 232h1v3h-1zM492 230h1v3h-1zM493 228h1v3h-1zM494 226h1v3h-1zM495 224h1v3h-1zM496 221h1v3h-1zM497 219h1v3h-1zM498 217h1v3h-1zM499 216h1v2h-1zM500 214h1v2h-1zM501 212h1v3h-1zM502 211h1v2h-1zM503 209h1v2h-1zM504 207h1v3h-1zM505 206h1v2h-1zM506 204h1v2h-1zM507 203h1v2h-1zM508 202h1v1h-1zM509 201h1v1h-1zM510 200h1v1h-1zM511 199h1v1h-1zM512 199h1v1h-1zM513 198h1v1h-1zM514 197h1v1h-1zM515 197h1v1h-1zM516 196h1v1h-1zM517 196h1v1h-1zM518 196h1v1h-1zM519 196h1v1h-1zM520 196h1v1h-1zM521 195h1v1h-1zM522 195h1v1h-1zM523 196h1v1h-1zM524 195h1v1h-1zM525 195h1v1h-1zM526 194h1v1h-1zM527 194h1v1h-1zM528 193h1v1h-1zM529 192h1v1h-1zM530 191h1v1h-1zM531 190h1v1h-1zM532 190h1v1h-1zM533 189h1v1h-1zM534 189h1v1h-1zM535 188h1v1h-1zM536 188h1v1h-1zM537 187h1v1h-1zM538 186h1v1h-1zM539 185h1v2h-1zM540 184h1v2h-1zM541 183h1v1h-1zM542 182h1v1h-1zM543 182h1v1h-1zM544 181h1v1h-1zM545 180h1v1h-1zM546 180h1v1h-1zM547 179h1v1h-1zM548 179h1v1h-1zM549 178h1v1h-1zM550 177h1v1h-1zM551 176h1v1h-1zM552 176h1v1h-1zM553 176h1v1h-1zM554 176h1v1h-1zM555 176h1v1h-1zM556 176h1v1h-1zM557 176h1v1h-1zM558 176h1v1h-1zM559 176h1v1h-1zM560 176h1v1h-1zM561 176h1v1h-1zM562 176h1v1h-1zM563 177h1v1h-1zM564 177h1v1h-1zM565 177h1v1h-1zM566 177h1v1h-1zM567 177h1v1h-1zM568 177h1v1h-1zM569 178h1v1h-1zM570 178h1v1h-1zM571 178h1v1h-1zM572 179h1v1h-1zM573 180h1v1h-1zM574 181h1v1h-1zM575 181h1v1h-1zM576 181h1v1h-1zM577 182h1v1h-1zM578 182h1v1h-1zM579 182h1v1h-1zM580 181h1v1h-1zM581 181h1v1h-1zM582 181h1v1h-1zM583 180h1v1h-1zM584 179h1v1h-1zM585 178h1v2h-1zM586 177h1v2h-1zM587 176h1v1h-1zM588 175h1v1h-1zM589 173h1v2h-1zM590 172h1v2h-1zM591 170h1v2h-1zM592 168h1v3h-1zM593 166h1v3h-1zM594 164h1v3h-1zM595 163h1v2h-1zM596 162h1v1h-1zM597 160h1v2h-1zM598 159h1v2h-1zM599 157h1v2h-1zM600 156h1v2h-1zM601 154h1v2h-1zM602 153h1v2h-1zM603 152h1v1h-1zM604 150h1v2h-1zM605 149h1v2h-1zM606 149h1v1h-1zM607 148h1v1h-1zM608 148h1v1h-1zM609 147h1v1h-1zM610 146h1v1h-1zM611 145h1v1h-1zM612 144h1v1h-1zM613 143h1v1h-1zM614 142h1v1h-1zM615 141h1v1h-1zM616 140h1v1h-1zM617 140h1v1h-1zM618 140h1v1h-1zM619 140h1v1h-1zM620 140h1v1h-1zM621 140h1v1h-1zM622 140h1v1h-1zM623 140h1v1h-1zM624 139h1v1h-1zM625 139h1v1h-1zM626 139h1v1h-1zM627 138h1v1h-1zM628 138h1v1h-1zM629 138h1v1h-1zM630 137h1v1h-1zM631 137h1v1h-1zM632 137h1v1h-1zM633 136h1v1h-1zM634 136h1v1h-1zM635 136h1v1h-1zM636 135h1v1h-1zM637 135h1v1h-1zM638 134h1v1h-1zM639 134h1v1h-1zM640 133h1v1h-1zM641 132h1v1h-1zM642 132h1v1h-1zM643 132h1v1h-1zM644 131h1v1h-1zM645 131h1v1h-1zM646 132h1v1h-1zM647 132h1v1h-1zM648 132h1v1h-1zM649 132h1v1h-1zM650 132h1v1h-1zM651 132h1v1h-1zM652 132h1v1h-1zM653 133h1v1h-1zM654 133h1v1h-1zM655 134h1v1h-1zM656 134h1v1h-1zM657 134h1v1h-1zM658 134h1v1h-1zM659 134h1v1h-1zM660 134h1v1h-1zM661 134h1v1h-1zM662 134h1v1h-1zM663 134h1v1h-1zM664 135h1v1h-1zM665 135h1v2h-1zM666 136h1v2h-1zM667 138h1v1h-1zM668 139h1v1h-1zM669 140h1v1h-1zM670 141h1v1h-1zM671 142h1v1h-1zM672 143h1v1h-1zM673 144h1v2h-1zM674 145h1v2h-1zM675 147h1v1h-1zM676 148h1v1h-1zM677 149h1v1h-1zM678 150h1v1h-1zM679 151h1v1h-1zM680 152h1v1h-1zM681 153h1v1h-1zM682 153h1v1h-1zM683 154h1v1h-1zM684 155h1v1h-1zM685 156h1v1h-1zM686 156h1v1h-1zM687 156h1v1h-1zM688 157h1v1h-1zM689 158h1v1h-1zM690 158h1v1h-1zM691 158h1v1h-1zM692 158h1v1h-1zM693 158h1v1h-1zM694 158h1v1h-1zM695 158h1v1h-1zM696 158h1v1h-1zM697 157h1v1h-1zM698 157h1v1h-1zM699 156h1v1h-1zM700 155h1v1h-1zM701 155h1v1h-1zM702 154h1v1h-1zM703 154h1v1h-1zM704 154h1v1h-1zM705 154h1v1h-1zM706 154h1v1h-1zM707 154h1v1h-1zM708 155h1v1h-1zM709 155h1v1h-1zM710 156h1v1h-1zM711 157h1v1h-1zM712 158h1v1h-1zM713 159h1v1h-1zM714 160h1v1h-1zM715 160h1v1h-1zM716 161h1v1h-1zM717 162h1v1h-1zM718 163h1v1h-1zM719 164h1v1h-1zM720 165h1v1h-1zM721 166h1v1h-1zM722 167h1v1h-1zM723 167h1v1h-1zM724 168h1v1h-1zM725 168h1v1h-1zM726 169h1v1h-1zM727 169h1v1h-1zM728 170h1v1h-1zM729 170h1v1h-1zM730 171h1v1h-1zM731 172h1v1h-1zM732 172h1v1h-1zM733 173h1v1h-1zM734 173h1v1h-1zM735 173h1v1h-1zM736 174h1v1h-1zM737 174h1v1h-1zM738 175h1v1h-1zM739 176h1v1h-1zM740 177h1v1h-1zM741 178h1v1h-1zM742 179h1v1h-1zM743 180h1v1h-1zM744 181h1v1h-1zM745 182h1v1h-1zM746 183h1v1h-1zM747 184h1v1h-1zM748 185h1v1h-1zM749 186h1v1h-1zM750 187h1v1h-1zM751 188h1v1h-1zM752 189h1v1h-1zM753 190h1v1h-1zM754 191h1v1h-1zM755 191h1v1h-1zM756 192h1v1h-1zM757 192h1v1h-1zM758 192h1v1h-1zM759 192h1v1h-1zM760 193h1v1h-1zM761 194h1v1h-1zM762 195h1v1h-1zM763 196h1v1h-1zM764 197h1v1h-1zM765 198h1v1h-1zM766 199h1v1h-1zM767 200h1v1h-1zM768 201h1v1h-1zM769 202h1v2h-1zM770 203h1v3h-1zM771 205h1v2h-1zM772 207h1v2h-1zM773 208h1v3h-1zM774 210h1v3h-1zM775 212h1v3h-1zM776 214h1v3h-1zM777 216h1v2h-1zM778 218h1v2h-1zM779 219h1v2h-1zM780 221h1v2h-1zM781 222h1v2h-1zM782 224h1v2h-1zM783 225h1v2h-1zM784 227h1v2h-1zM785 228h1v2h-1zM786 230h1v1h-1zM787 231h1v1h-1zM788 232h1v1h-1zM789 233h1v2h-1zM790 234h1v2h-1zM791 236h1v1h-1zM792 236h1v1h-1zM793 237h1v1h-1zM794 237h1v1h-1zM795 238h1v1h-1zM796 239h1v1h-1zM797 239h1v1h-1zM798 240h1v1h-1zM799 241h1v1h-1zM800 242h1v1h-1zM801 242h1v1h-1zM802 243h1v1h-1zM803 244h1v1h-1zM804 244h1v1h-1zM805 245h1v1h-1zM806 245h1v1h-1zM807 246h1v1h-1zM808 247h1v1h-1zM809 247h1v1h-1zM810 248h1v1h-1zM811 249h1v1h-1zM812 249h1v1h-1zM813 249h1v1h-1zM814 250h1v1h-1zM815 251h1v1h-1zM816 252h1v1h-1zM817 252h1v1h-1zM818 253h1v1h-1zM819 253h1v1h-1zM820 254h1v1h-1zM821 255h1v1h-1zM822 256h1v1h-1zM823 257h1v1h-1zM824 257h1v1h-1zM825 258h1v1h-1zM826 258h1v1h-1zM827 259h1v1h-1zM828 259h1v1h-1zM829 259h1v1h-1zM830 259h1v1h-1zM831 260h1v1h-1zM832 260h1v1h-1zM833 261h1v1h-1zM834 262h1v1h-1zM835 263h1v2h-1zM836 264h1v3h-1zM837 266h1v3h-1zM838 268h1v3h-1zM839 270h1v2h-1zM840 272h1v2h-1zM841 273h1v3h-1zM842 275h1v2h-1zM843 277h1v1h-1zM844 278h1v2h-1zM845 279h1v2h-1zM846 281h1v1h-1zM847 282h1v1h-1zM848 282h1v1h-1zM849 283h1v1h-1zM850 283h1v1h-1zM851 284h1v1h-1zM852 284h1v1h-1zM853 285h1v1h-1zM854 285h1v1h-1zM855 285h1v1h-1zM856 285h1v1h-1zM857 286h1v1h-1zM858 287h1v1h-1zM859 288h1v1h-1zM860 289h1v1h-1zM861 290h1v1h-1zM862 291h1v1h-1zM863 292h1v1h-1zM864 293h1v1h-1zM865 294h1v1h-1zM866 295h1v1h-1zM867 296h1v1h-1zM868 297h1v1h-1zM869 298h1v1h-1zM870 298h1v1h-1zM871 298h1v1h-1zM872 299h1v1h-1zM873 299h1v1h-1zM874 299h1v1h-1zM875 300h1v1h-1zM876 301h1v1h-1zM877 302h1v1h-1zM878 303h1v1h-1zM879 303h1v2h-1zM880 304h1v2h-1zM881 306h1v1h-1zM882 307h1v1h-1zM883 307h1v2h-1zM884 308h1v2h-1zM885 310h1v1h-1zM886 311h1v2h-1zM887 312h1v2h-1zM888 314h1v1h-1zM889 315h1v1h-1zM890 316h1v1h-1zM891 317h1v1h-1zM892 318h1v1h-1zM893 319h1v1h-1zM894 320h1v1h-1zM895 321h1v1h-1zM896 322h1v1h-1zM897 323h1v1h-1zM898 324h1v1h-1zM899 325h1v1h-1zM900 326h1v1h-1zM901 327h1v1h-1zM902 328h1v1h-1zM903 328h1v1h-1zM904 329h1v1h-1zM905 330h1v1h-1zM906 330h1v1h-1zM907 330h1v1h-1zM908 330h1v1h-1zM909 331h1v1h-1zM910 332h1v1h-1zM911 333h1v1h-1zM912 334h1v1h-1zM913 334h1v1h-1zM914 335h1v1h-1zM915 335h1v1h-1zM916 335h1v1h-1zM917 334h1v1h-1zM918 334h1v1h-1zM919 334h1v1h-1zM920 333h1v1h-1zM921 333h1v1h-1zM922 333h1v1h-1zM923 333h1v1h-1zM924 332h1v1h-1zM925 332h1v1h-1zM926 332h1v1h-1zM927 331h1v1h-1z" fill="#ffff00" shape-rendering="crispEdges"/>
<path d="M3 258h1v1h-1zM4 257h1v1h-1zM5 257h1v1h-1zM6 257h1v1h-1zM7 257h1v1h-1zM8 256h1v1h-1zM9 256h1v1h-1zM10 256h1v1h-1zM11 255h1v1h-1zM12 256h1v1h-1zM13 256h1v1h-1zM14 256h1v1h-1zM15 256h1v1h-1zM16 257h1v1h-1zM17 257h1v1h-1zM18 258h1v1h-1zM19 259h1v1h-1zM20 260h1v1h-1zM21 261h1v1h-1zM22 262h1v1h-1zM23 263h1v1h-1zM24 264h1v2h-1zM25 265h1v2h-1zM26 267h1v1h-1zM27 267h1v1h-1zM28 268h1v1h-1zM29 268h1v1h-1zM30 269h1v2h-1zM31 270h1v2h-1zM32 272h1v2h-1zM33 273h1v2h-1zM34 275h1v1h-1zM35 276h1v2h-1zM36 277h1v2h-1zM37 279h1v1h-1zM38 280h1v1h-1zM39 281h1v2h-1zM40 282h1v2h-1zM41 284h1v1h-1zM42 285h1v1h-1zM43 286h1v2h-1zM44 287h1v2h-1zM45 289h1v2h-1zM46 291h1v3h-1zM47 294h1v3h-1zM48 297h1v3h-1zM49 300h1v4h-1zM50 303h1v4h-1zM51 307h1v4h-1zM52 310h1v4h-1zM53 314h1v4h-1zM54 317h1v4h-1zM55 321h1v4h-1zM56 324h1v5h-1zM57 328h1v4h-1zM58 332h1v3h-1zM59 335h1v3h-1zM60 338h1v3h-1zM61 341h1v3h-1zM62 344h1v3h-1zM63 346h1v3h-1zM64 349h1v3h-1zM65 352h1v3h-1zM66 355h1v3h-1zM67 357h1v3h-1zM68 360h1v3h-1zM69 362h1v4h-1zM70 365h1v4h-1zM71 369h1v3h-1zM72 372h1v3h-1zM73 374h1v3h-1zM74 376h1v3h-1zM75 379h1v3h-1zM76 382h1v3h-1zM77 385h1v3h-1zM78 388h1v3h-1zM79 390h1v3h-1zM80 393h1v3h-1zM81 396h1v3h-1zM82 399h1v3h-1zM83 401h1v3h-1zM84 404h1v4h-1zM85 407h1v4h-1zM86 411h1v3h-1zM87 414h1v3h-1zM88 416h1v3h-1zM89 418h1v2h-1zM90 420h1v2h-1zM91 421h1v2h-1zM92 423h1v2h-1zM93 424h1v2h-1zM94 426h1v1h-1zM95 427h1v1h-1zM96 428h1v1h-1zM97 428h1v1h-1zM98 429h1v1h-1zM99 430h1v1h-1zM100 430h1v1h-1zM101 430h1v1h-1zM102 429h1v1h-1zM103 429h1v1h-1zM104 429h1v1h-1zM105 429h1v1h-1zM106 429h1v1h-1zM107 428h1v1h-1zM108 428h1v1h-1zM109 428h1v1h-1zM110 428h1v1h-1zM111 429h1v1h-1zM112 429h1v1h-1zM113 429h1v1h-1zM114 429h1v1h-1zM115 429h1v1h-1zM116 428h1v1h-1zM117 427h1v1h-1zM118 426h1v1h-1zM119 425h1v1h-1zM120 424h1v1h-1zM121 424h1v1h-1zM122 423h1v1h-1zM123 422h1v1h-1zM124 421h1v1h-1zM125 419h1v2h-1zM126 417h1v3h-1zM127 415h1v3h-1zM128 412h1v3h-1zM129 409h1v3h-1zM130 406h1v3h-1zM131 403h1v3h-1zM132 399h1v4h-1zM133 396h1v4h-1zM134 392h1v4h-1zM135 389h1v4h-1zM136 385h1v4h-1zM137 381h1v5h-1zM138 377h1v5h-1zM139 373h1v5h-1zM140 368h1v5h-1zM141 364h1v5h-1zM142 360h1v5h-1zM143 356h1v5h-1zM144 352h1v5h-1zM145 349h1v4h-1zM146 345h1v4h-1zM147 341h1v5h-1zM148 336h1v5h-1zM149 332h1v5h-1zM150 327h1v5h-1zM151 323h1v5h-1zM152 318h1v5h-1zM153 313h1v5h-1zM154 308h1v5h-1zM155 303h1v5h-1zM156 299h1v5h-1zM157 294h1v5h-1zM158 290h1v5h-1zM159 286h1v5h-1zM160 281h1v5h-1zM161 277h1v5h-1zM162 273h1v5h-1zM163 269h1v5h-1zM164 265h1v5h-1zM165 261h1v5h-1zM166 257h1v5h-1zM167 254h1v4h-1zM168 251h1v3h-1zM169 249h1v3h-1zM170 246h1v3h-1zM171 244h1v3h-1zM172 241h1v3h-1zM173 239h1v3h-1zM174 237h1v3h-1zM175 235h1v3h-1zM176 233h1v3h-1zM177 231h1v3h-1zM178 229h1v3h-1zM179 228h1v2h-1zM180 226h1v2h-1zM181 225h1v2h-1zM182 224h1v1h-1zM183 223h1v1h-1zM184 223h1v1h-1zM185 223h1v1h-1zM186 223h1v1h-1zM187 224h1v1h-1zM188 225h1v1h-1zM189 226h1v1h-1zM190 227h1v2h-1zM191 228h1v3h-1zM192 230h1v3h-1zM193 233h1v3h-1zM194 235h1v3h-1zM195 237h1v3h-1zM196 239h1v3h-1zM197 242h1v3h-1zM198 245h1v3h-1zM199 248h1v3h-1zM200 251h1v3h-1zM201 254h1v3h-1zM202 257h1v3h-1zM203 260h1v3h-1zM204 263h1v3h-1zM205 265h1v3h-1zM206 267h1v3h-1zM207 270h1v3h-1zM208 273h1v3h-1zM209 276h1v3h-1zM210 279h1v3h-1zM211 281h1v3h-1zM212 284h1v3h-1zM213 286h1v3h-1zM214 288h1v3h-1zM215 291h1v3h-1zM216 294h1v3h-1zM217 297h1v3h-1zM218 300h1v3h-1zM219 302h1v3h-1zM220 305h1v3h-1zM221 308h1v3h-1zM222 310h1v3h-1zM223 313h1v2h-1zM224 315h1v1h-1zM225 316h1v1h-1zM226 317h1v1h-1zM227 318h1v1h-1zM228 319h1v1h-1zM229 319h1v1h-1zM230 318h1v1h-1zM231 317h1v1h-1zM232 316h1v1h-1zM233 316h1v1h-1zM234 315h1v1h-1zM235 315h1v1h-1zM236 314h1v1h-1zM237 313h1v1h-1zM238 311h1v2h-1zM239 310h1v2h-1zM240 308h1v2h-1zM241 307h1v2h-1zM242 306h1v1h-1zM243 304h1v2h-1zM244 302h1v3h-1zM245 301h1v2h-1zM246 300h1v1h-1zM247 299h1v1h-1zM248 297h1v2h-1zM249 295h1v3h-1zM250 293h1v3h-1zM251 292h1v2h-1zM252 291h1v1h-1zM253 290h1v1h-1zM254 289h1v1h-1zM255 289h1v1h-1zM256 289h1v1h-1zM257 288h1v1h-1zM258 288h1v1h-1zM259 288h1v1h-1zM260 288h1v1h-1zM261 288h1v1h-1zM262 288h1v1h-1zM263 288h1v1h-1zM264 289h1v1h-1zM265 290h1v1h-1zM266 291h1v2h-1zM267 292h1v2h-1zM268 294h1v1h-1zM269 295h1v2h-1zM270 296h1v3h-1zM271 298h1v3h-1zM272 301h1v3h-1zM273 303h1v2h-1zM274 305h1v1h-1zM275 305h1v2h-1zM276 306h1v2h-1zM277 308h1v1h-1zM278 309h1v2h-1zM279 310h1v2h-1zM280 312h1v2h-1zM281 313h1v2h-1zM282 315h1v1h-1zM283 315h1v1h-1zM284 316h1v1h-1zM285 317h1v1h-1zM286 318h1v2h-1zM287 319h1v2h-1zM288 320h1v1h-1zM289 321h1v1h-1zM290 322h1v1h-1zM291 323h1v1h-1zM292 324h1v1h-1zM293 324h1v1h-1zM294 323h1v1h-1zM295 323h1v1h-1zM296 323h1v1h-1zM297 323h1v1h-1zM298 321h1v2h-1zM299 320h1v2h-1zM300 319h1v1h-1zM301 318h1v1h-1zM302 317h1v1h-1zM303 316h1v2h-1zM304 315h1v2h-1zM305 314h1v1h-1zM306 313h1v1h-1zM307 312h1v1h-1zM308 312h1v1h-1zM309 312h1v1h-1zM310 312h1v1h-1zM311 312h1v1h-1zM312 313h1v1h-1zM313 313h1v1h-1zM314 313h1v1h-1zM315 313h1v1h-1zM316 313h1v1h-1zM317 312h1v1h-1zM318 311h1v1h-1zM319 310h1v1h-1zM320 309h1v1h-1zM321 307h1v2h-1zM322 306h1v2h-1zM323 305h1v1h-1zM324 305h1v1h-1zM325 305h1v1h-1zM326 305h1v1h-1zM327 304h1v1h-1zM328 304h1v1h-1zM329 304h1v1h-1zM330 304h1v1h-1zM331 305h1v1h-1zM332 304h1v1h-1zM333 303h1v1h-1zM334 304h1v1h-1zM335 304h1v1h-1zM336 305h1v1h-1zM337 305h1v1h-1zM338 305h1v1h-1zM339 305h1v1h-1zM340 306h1v1h-1zM341 306h1v1h-1zM342 307h1v1h-1zM343 308h1v1h-1zM344 308h1v1h-1zM345 309h1v1h-1zM346 310h1v1h-1zM347 310h1v1h-1zM348 311h1v1h-1zM349 311h1v1h-1zM350 311h1v1h-1zM351 310h1v1h-1zM352 308h1v2h-1zM353 307h1v2h-1zM354 305h1v2h-1zM355 304h1v2h-1zM356 303h1v1h-1zM357 302h1v1h-1zM358 302h1v1h-1zM359 302h1v1h-1zM360 303h1v1h-1zM361 304h1v1h-1zM362 305h1v1h-1zM363 306h1v1h-1zM364 307h1v1h-1zM365 308h1v1h-1zM366 309h1v1h-1zM367 310h1v1h-1zM368 310h1v1h-1zM369 310h1v1h-1zM370 311h1v1h-1zM371 311h1v1h-1zM372 310h1v1h-1zM373 309h1v1h-1zM374 310h1v1h-1zM375 310h1v1h-1zM376 310h1v1h-1zM377 310h1v1h-1zM378 311h1v1h-1zM379 311h1v1h-1zM380 312h1v1h-1zM381 312h1v1h-1zM382 313h1v1h-1zM383 313h1v1h-1zM384 313h1v1h-1zM385 313h1v1h-1zM386 313h1v1h-1zM387 313h1v1h-1zM388 314h1v1h-1zM389 314h1v1h-1zM390 314h1v1h-1zM391 314h1v1h-1zM392 313h1v1h-1zM393 312h1v1h-1zM394 311h1v1h-1zM395 310h1v1h-1zM396 309h1v1h-1zM397 308h1v1h-1zM398 306h1v2h-1zM399 305h1v2h-1zM400 303h1v2h-1zM401 301h1v3h-1zM402 299h1v3h-1zM403 296h1v3h-1zM404 294h1v3h-1zM405 291h1v3h-1zM406 289h1v3h-1zM407 287h1v3h-1zM408 285h1v3h-1zM409 282h1v3h-1zM410 280h1v3h-1zM411 279h1v2h-1zM412 277h1v2h-1zM413 276h1v2h-1zM414 275h1v1h-1zM415 274h1v1h-1zM416 273h1v1h-1zM417 272h1v1h-1zM418 272h1v1h-1zM419 272h1v1h-1zM420 272h1v1h-1zM421 272h1v1h-1zM422 272h1v1h-1zM423 271h1v1h-1zM424 271h1v1h-1zM425 271h1v1h-1zM426 270h1v1h-1zM427 269h1v1h-1zM428 268h1v1h-1zM429 267h1v1h-1zM430 266h1v1h-1zM431 265h1v1h-1zM432 264h1v1h-1zM433 263h1v1h-1zM434 262h1v1h-1zM435 262h1v1h-1zM436 261h1v1h-1zM437 260h1v1h-1zM438 259h1v1h-1zM439 258h1v1h-1zM440 258h1v1h-1zM441 258h1v1h-1zM442 257h1v1h-1zM443 256h1v1h-1zM444 257h1v1h-1zM445 257h1v1h-1zM446 257h1v1h-1zM447 257h1v1h-1zM448 257h1v1h-1zM449 257h1v1h-1zM450 258h1v1h-1zM451 259h1v1h-1zM452 259h1v1h-1zM453 259h1v1h-1zM454 259h1v1h-1zM455 259h1v1h-1zM456 258h1v1h-1zM457 258h1v1h-1zM458 257h1v1h-1zM459 256h1v1h-1zM460 255h1v1h-1zM461 255h1v1h-1zM462 254h1v1h-1zM463 254h1v1h-1zM464 253h1v1h-1zM465 252h1v1h-1zM466 250h1v2h-1zM467 249h1v2h-1zM468 249h1v1h-1zM469 248h1v1h-1zM470 248h1v1h-1zM471 246h1v2h-1zM472 245h1v2h-1zM473 243h1v2h-1zM474 240h1v3h-1zM475 239h1v2h-1zM476 237h1v2h-1zM477 236h1v2h-1zM478 235h1v1h-1zM479 234h1v1h-1zM480 232h1v2h-1zM481 230h1v3h-1zM482 229h1v2h-1zM483 227h1v2h-1zM484 226h1v2h-1zM485 224h1v2h-1zM486 222h1v3h-1zM487 220h1v3h-1zM488 217h1v3h-1zM489 214h1v4h-1zM490 211h1v4h-1zM491 207h1v4h-1zM492 203h1v5h-1zM493 200h1v4h-1zM494 196h1v4h-1zM495 193h1v4h-1zM496 190h1v3h-1zM497 187h1v3h-1zM498 184h1v3h-1zM499 181h1v3h-1zM500 179h1v3h-1zM501 177h1v3h-1zM502 174h1v3h-1zM503 171h1v3h-1zM504 169h1v3h-1zM505 166h1v3h-1zM506 164h1v3h-1zM507 162h1v3h-1zM508 161h1v2h-1zM509 159h1v2h-1zM510 158h1v2h-1zM511 157h1v1h-1zM512 157h1v1h-1zM513 156h1v1h-1zM514 156h1v1h-1zM515 156h1v1h-1zM516 156h1v1h-1zM517 157h1v1h-1zM518 157h1v1h-1zM519 158h1v1h-1zM520 159h1v1h-1zM521 160h1v1h-1zM522 161h1v2h-1zM523 162h1v2h-1zM524 164h1v1h-1zM525 165h1v1h-1zM526 165h1v1h-1zM527 165h1v1h-1zM528 166h1v1h-1zM529 167h1v2h-1zM530 168h1v2h-1zM531 170h1v2h-1zM532 172h1v3h-1zM533 174h1v3h-1zM534 177h1v3h-1zM535 180h1v3h-1zM536 183h1v3h-1zM537 185h1v3h-1zM538 187h1v2h-1zM539 189h1v2h-1zM540 190h1v2h-1zM541 192h1v1h-1zM542 193h1v1h-1zM543 194h1v1h-1zM544 195h1v1h-1zM545 195h1v2h-1zM546 196h1v2h-1zM547 198h1v1h-1zM548 199h1v1h-1zM549 200h1v1h-1zM550 200h1v1h-1zM551 200h1v1h-1zM552 200h1v1h-1zM553 199h1v1h-1zM554 198h1v1h-1zM555 197h1v1h-1zM556 197h1v1h-1zM557 196h1v1h-1zM558 196h1v1h-1zM559 196h1v1h-1zM560 195h1v1h-1zM561 194h1v1h-1zM562 193h1v1h-1zM563 192h1v1h-1zM564 191h1v1h-1zM565 189h1v2h-1zM566 187h1v3h-1zM567 186h1v2h-1zM568 186h1v1h-1zM569 185h1v1h-1zM570 184h1v1h-1zM571 183h1v1h-1zM572 183h1v1h-1zM573 181h1v2h-1zM574 179h1v3h-1zM575 178h1v2h-1zM576 176h1v2h-1zM577 175h1v2h-1zM578 173h1v2h-1zM579 172h1v2h-1zM580 171h1v1h-1zM581 169h1v2h-1zM582 167h1v3h-1zM583 165h1v3h-1zM584 163h1v3h-1zM585 160h1v4h-1zM586 157h1v4h-1zM587 154h1v3h-1zM588 151h1v3h-1zM589 148h1v3h-1zM590 145h1v3h-1zM591 143h1v3h-1zM592 140h1v3h-1zM593 137h1v3h-1zM594 133h1v4h-1zM595 131h1v3h-1zM596 129h1v2h-1zM597 127h1v3h-1zM598 125h1v3h-1zM599 123h1v3h-1zM600 121h1v3h-1zM601 119h1v3h-1zM602 117h1v3h-1zM603 115h1v3h-1zM604 114h1v2h-1zM605 113h1v1h-1zM606 112h1v1h-1zM607 111h1v1h-1zM608 110h1v1h-1zM609 110h1v1h-1zM610 109h1v1h-1zM611 109h1v1h-1zM612 108h1v1h-1zM613 108h1v1h-1zM614 107h1v1h-1zM615 107h1v1h-1zM616 107h1v1h-1zM617 107h1v1h-1zM618 108h1v1h-1zM619 109h1v2h-1zM620 110h1v2h-1zM621 112h1v1h-1zM622 113h1v2h-1zM623 114h1v2h-1zM624 116h1v1h-1zM625 117h1v2h-1zM626 118h1v3h-1zM627 120h1v3h-1zM628 123h1v3h-1zM629 126h1v2h-1zM630 128h1v2h-1zM631 129h1v3h-1zM632 131h1v3h-1zM633 133h1v3h-1zM634 135h1v3h-1zM635 137h1v3h-1zM636 139h1v3h-1zM637 141h1v2h-1zM638 143h1v1h-1zM639 144h1v1h-1zM640 145h1v1h-1zM641 145h1v1h-1zM642 146h1v1h-1zM643 147h1v2h-1zM644 148h1v2h-1zM645 150h1v2h-1zM646 151h1v2h-1zM647 153h1v1h-1zM648 154h1v1h-1zM649 154h1v1h-1zM650 155h1v1h-1zM651 156h1v1h-1zM652 157h1v1h-1zM653 158h1v1h-1zM654 159h1v2h-1zM655 160h1v2h-1zM656 161h1v1h-1zM657 162h1v1h-1zM658 162h1v1h-1zM659 161h1v2h-1zM660 159h1v3h-1zM661 158h1v2h-1zM662 157h1v1h-1zM663 155h1v2h-1zM664 154h1v2h-1zM665 153h1v1h-1zM666 153h1v1h-1zM667 153h1v1h-1zM668 152h1v1h-1zM669 152h1v1h-1zM670 152h1v1h-1zM671 152h1v1h-1zM672 152h1v1h-1zM673 152h1v1h-1zM674 152h1v1h-1zM675 152h1v1h-1zM676 153h1v1h-1zM677 153h1v1h-1zM678 154h1v1h-1zM679 155h1v1h-1zM680 156h1v1h-1zM681 156h1v1h-1zM682 157h1v1h-1zM683 158h1v1h-1zM684 158h1v1h-1zM685 158h1v1h-1zM686 158h1v1h-1zM687 158h1v1h-1zM688 159h1v1h-1zM689 159h1v1h-1zM690 159h1v1h-1zM691 158h1v1h-1zM692 157h1v1h-1zM693 157h1v1h-1zM694 155h1v2h-1zM695 154h1v2h-1zM696 153h1v1h-1zM697 152h1v1h-1zM698 152h1v1h-1zM699 152h1v1h-1zM700 152h1v1h-1zM701 152h1v1h-1zM702 153h1v1h-1zM703 153h1v1h-1zM704 154h1v2h-1zM705 155h1v2h-1zM706 157h1v1h-1zM707 158h1v1h-1zM708 159h1v1h-1zM709 159h1v1h-1zM710 160h1v1h-1zM711 161h1v2h-1zM712 162h1v3h-1zM713 164h1v3h-1zM714 166h1v3h-1zM715 168h1v2h-1zM716 170h1v1h-1zM717 171h1v1h-1zM718 171h1v1h-1zM719 172h1v1h-1zM720 172h1v1h-1zM721 173h1v1h-1zM722 174h1v2h-1zM723 175h1v2h-1zM724 177h1v1h-1zM725 178h1v1h-1zM726 178h1v1h-1zM727 179h1v1h-1zM728 180h1v1h-1zM729 181h1v1h-1zM730 182h1v1h-1zM731 182h1v2h-1zM732 183h1v3h-1zM733 185h1v3h-1zM734 187h1v2h-1zM735 189h1v2h-1zM736 190h1v3h-1zM737 192h1v3h-1zM738 194h1v3h-1zM739 196h1v3h-1zM740 198h1v2h-1zM741 200h1v2h-1zM742 201h1v3h-1zM743 203h1v2h-1zM744 205h1v2h-1zM745 206h1v2h-1zM746 208h1v2h-1zM747 209h1v2h-1zM748 211h1v1h-1zM749 212h1v2h-1zM750 213h1v2h-1zM751 215h1v1h-1zM752 215h1v1h-1zM753 215h1v1h-1zM754 215h1v1h-1zM755 214h1v1h-1zM756 214h1v1h-1zM757 213h1v1h-1zM758 213h1v1h-1zM759 213h1v1h-1zM760 213h1v1h-1zM761 213h1v1h-1zM762 214h1v1h-1zM763 215h1v1h-1zM764 216h1v1h-1zM765 216h1v2h-1zM766 217h1v2h-1zM767 219h1v2h-1zM768 220h1v3h-1zM769 222h1v2h-1zM770 224h1v1h-1zM771 225h1v1h-1zM772 226h1v2h-1zM773 227h1v2h-1zM774 229h1v2h-1zM775 230h1v3h-1zM776 232h1v3h-1zM777 234h1v3h-1zM778 236h1v2h-1zM779 238h1v2h-1zM780 239h1v3h-1zM781 241h1v2h-1zM782 243h1v2h-1zM783 244h1v2h-1zM784 246h1v2h-1zM785 247h1v3h-1zM786 249h1v3h-1zM787 251h1v2h-1zM788 253h1v1h-1zM789 254h1v1h-1zM790 255h1v1h-1zM791 256h1v1h-1zM792 257h1v1h-1zM793 258h1v1h-1zM794 259h1v2h-1zM795 260h1v2h-1zM796 262h1v1h-1zM797 263h1v1h-1zM798 264h1v1h-1zM799 265h1v2h-1zM800 266h1v2h-1zM801 268h1v1h-1zM802 269h1v2h-1zM803 270h1v2h-1zM804 271h1v1h-1zM805 271h1v1h-1zM806 271h1v1h-1zM807 271h1v1h-1zM808 271h1v1h-1zM809 271h1v1h-1zM810 271h1v1h-1zM811 271h1v1h-1zM812 270h1v1h-1zM813 270h1v1h-1zM814 270h1v1h-1zM815 270h1v1h-1zM816 269h1v1h-1zM817 268h1v1h-1zM818 268h1v1h-1zM819 267h1v1h-1zM820 267h1v1h-1zM821 268h1v1h-1zM822 268h1v1h-1zM823 268h1v1h-1zM824 267h1v1h-1zM825 267h1v1h-1zM826 267h1v1h-1zM827 267h1v1h-1zM828 266h1v1h-1zM829 266h1v1h-1zM830 265h1v1h-1zM831 265h1v1h-1zM832 264h1v1h-1zM833 264h1v1h-1zM834 264h1v1h-1zM835 265h1v1h-1zM836 266h1v1h-1zM837 267h1v2h-1zM838 269h1v3h-1zM839 271h1v3h-1zM840 273h1v3h-1zM841 276h1v3h-1zM842 278h1v3h-1zM843 280h1v3h-1zM844 282h1v3h-1zM845 284h1v3h-1zM846 287h1v3h-1zM847 289h1v2h-1zM848 291h1v2h-1zM849 292h1v2h-1zM850 294h1v1h-1zM851 295h1v1h-1zM852 296h1v1h-1zM853 297h1v1h-1zM854 298h1v1h-1zM855 299h1v1h-1zM856 300h1v1h-1zM857 301h1v2h-1zM858 303h1v3h-1zM859 305h1v3h-1zM860 307h1v3h-1zM861 310h1v3h-1zM862 312h1v3h-1zM863 315h1v2h-1zM864 317h1v2h-1zM865 318h1v3h-1zM866 321h1v3h-1zM867 324h1v2h-1zM868 326h1v2h-1zM869 327h1v2h-1zM870 329h1v1h-1zM871 330h1v2h-1zM872 331h1v2h-1zM873 333h1v1h-1zM874 334h1v1h-1zM875 335h1v1h-1zM876 335h1v1h-1zM877 336h1v1h-1zM878 335h1v1h-1zM879 335h1v1h-1zM880 335h1v1h-1zM881 335h1v1h-1zM882 335h1v1h-1zM883 334h1v1h-1zM884 334h1v1h-1zM885 334h1v1h-1zM886 334h1v1h-1zM887 333h1v1h-1zM888 333h1v1h-1zM889 333h1v2h-1zM890 334h1v2h-1zM891 336h1v1h-1zM892 336h1v1h-1zM893 337h1v1h-1zM894 337h1v1h-1zM895 338h1v1h-1zM896 339h1v2h-1zM897 340h1v2h-1zM898 341h1v1h-1zM899 342h1v1h-1zM900 342h1v1h-1zM901 342h1v1h-1zM902 342h1v1h-1zM903 341h1v1h-1zM904 339h1v2h-1zM905 338h1v2h-1zM906 336h1v2h-1zM907 334h1v3h-1zM908 333h1v2h-1zM909 332h1v1h-1zM910 332h1v1h-1zM911 333h1v1h-1zM912 333h1v1h-1zM913 333h1v1h-1zM914 333h1v1h-1zM915 333h1v1h-1zM916 333h1v1h-1zM917 333h1v1h-1zM918 333h1v1h-1zM919 333h1v1h-1zM920 333h1v1h-1zM921 333h1v1h-1zM922 332h1v1h-1zM923 332h1v1h-1zM924 332h1v1h-1zM925 332h1v1h-1zM926 331h1v1h-1zM927 331h1v1h-1z" fill="#0000cd" shape-rendering="crispEdges"/>
<path d="M3 259h1v1h-1zM4 258h1v1h-1zM5 258h1v1h-1zM6 257h1v1h-1zM7 257h1v1h-1zM8 256h1v1h-1zM9 255h1v1h-1zM10 254h1v1h-1zM11 254h1v1h-1zM12 254h1v1h-1zM13 254h1v1h-1zM14 254h1v1h-1zM15 254h1v1h-1zM16 255h1v1h-1zM17 256h1v1h-1zM18 257h1v1h-1zM19 258h1v2h-1zM20 259h1v2h-1zM21 261h1v2h-1zM22 262h1v3h-1zM23 264h1v3h-1zM24 266h1v2h-1zM25 268h1v2h-1zM26 269h1v2h-1zM27 271h1v1h-1zM28 272h1v1h-1zM29 272h1v2h-1zM30 273h1v3h-1zM31 276h1v3h-1zM32 279h1v3h-1zM33 282h1v3h-1zM34 285h1v3h-1zM35 287h1v3h-1zM36 290h1v3h-1zM37 292h1v3h-1zM38 294h1v3h-1zM39 296h1v3h-1zM40 299h1v3h-1zM41 302h1v2h-1zM42 303h1v1h-1zM43 304h1v2h-1zM44 305h1v2h-1zM45 307h1v2h-1zM46 309h1v3h-1zM47 311h1v3h-1zM48 313h1v3h-1zM49 316h1v3h-1zM50 319h1v3h-1zM51 321h1v3h-1zM52 324h1v4h-1zM53 327h1v4h-1zM54 331h1v4h-1zM55 334h1v5h-1zM56 339h1v6h-1zM57 344h1v5h-1zM58 349h1v4h-1zM59 352h1v5h-1zM60 356h1v4h-1zM61 360h1v4h-1zM62 363h1v4h-1zM63 367h1v4h-1zM64 370h1v5h-1zM65 375h1v4h-1zM66 379h1v4h-1zM67 382h1v4h-1zM68 386h1v3h-1zM69 389h1v4h-1zM70 392h1v5h-1zM71 397h1v4h-1zM72 401h1v3h-1zM73 404h1v3h-1zM74 407h1v3h-1zM75 409h1v3h-1zM76 412h1v3h-1zM77 414h1v2h-1zM78 416h1v2h-1zM79 417h1v2h-1zM80 419h1v1h-1zM81 420h1v1h-1zM82 421h1v1h-1zM83 422h1v1h-1zM84 423h1v1h-1zM85 424h1v1h-1zM86 424h1v1h-1zM87 425h1v1h-1zM88 426h1v1h-1zM89 427h1v1h-1zM90 428h1v1h-1zM91 429h1v1h-1zM92 429h1v1h-1zM93 430h1v1h-1zM94 431h1v1h-1zM95 432h1v1h-1zM96 433h1v1h-1zM97 434h1v1h-1zM98 435h1v2h-1zM99 436h1v2h-1zM100 437h1v1h-1zM101 437h1v1h-1zM102 436h1v1h-1zM103 435h1v1h-1zM104 434h1v1h-1zM105 433h1v1h-1zM106 432h1v1h-1zM107 432h1v1h-1zM108 431h1v1h-1zM109 430h1v1h-1zM110 430h1v1h-1zM111 430h1v1h-1zM112 429h1v1h-1zM113 428h1v1h-1zM114 427h1v1h-1zM115 426h1v1h-1zM116 424h1v2h-1zM117 422h1v3h-1zM118 421h1v2h-1zM119 419h1v2h-1zM120 417h1v3h-1zM121 415h1v3h-1zM122 414h1v2h-1zM123 412h1v2h-1zM124 411h1v2h-1zM125 408h1v3h-1zM126 404h1v5h-1zM127 401h1v4h-1zM128 397h1v4h-1zM129 394h1v4h-1zM130 391h1v3h-1zM131 387h1v4h-1zM132 383h1v5h-1zM133 379h1v5h-1zM134 375h1v5h-1zM135 371h1v5h-1zM136 367h1v5h-1zM137 362h1v6h-1zM138 356h1v7h-1zM139 351h1v6h-1zM140 345h1v6h-1zM141 340h1v6h-1zM142 334h1v6h-1zM143 328h1v7h-1zM144 322h1v7h-1zM145 317h1v6h-1zM146 312h1v5h-1zM147 306h1v6h-1zM148 300h1v7h-1zM149 294h1v7h-1zM150 288h1v7h-1zM151 281h1v7h-1zM152 275h1v7h-1zM153 270h1v6h-1zM154 265h1v5h-1zM155 260h1v5h-1zM156 257h1v4h-1zM157 254h1v3h-1zM158 251h1v3h-1zM159 247h1v4h-1zM160 244h1v4h-1zM161 241h1v3h-1zM162 239h1v3h-1zM163 236h1v3h-1zM164 234h1v3h-1zM165 233h1v2h-1zM166 231h1v2h-1zM167 230h1v2h-1zM168 229h1v1h-1zM169 228h1v1h-1zM170 227h1v1h-1zM171 226h1v1h-1zM172 225h1v1h-1zM173 223h1v2h-1zM174 222h1v2h-1zM175 221h1v1h-1zM176 220h1v1h-1zM177 220h1v1h-1zM178 219h1v1h-1zM179 219h1v1h-1zM180 219h1v1h-1zM181 219h1v1h-1zM182 219h1v1h-1zM183 219h1v1h-1zM184 220h1v1h-1zM185 221h1v1h-1zM186 222h1v1h-1zM187 223h1v2h-1zM188 225h1v3h-1zM189 228h1v3h-1zM190 231h1v3h-1zM191 233h1v3h-1zM192 236h1v3h-1zM193 239h1v3h-1zM194 242h1v3h-1zM195 244h1v4h-1zM196 247h1v4h-1zM197 251h1v4h-1zM198 255h1v5h-1zM199 259h1v5h-1zM200 264h1v5h-1zM201 269h1v5h-1zM202 273h1v5h-1zM203 278h1v5h-1zM204 282h1v5h-1zM205 287h1v5h-1zM206 291h1v5h-1zM207 296h1v5h-1zM208 301h1v5h-1zM209 306h1v5h-1zM210 311h1v5h-1zM211 315h1v4h-1zM212 319h1v3h-1zM213 321h1v3h-1zM214 323h1v3h-1zM215 325h1v3h-1zM216 327h1v3h-1zM217 329h1v2h-1zM218 330h1v1h-1zM219 331h1v1h-1zM220 332h1v1h-1zM221 333h1v1h-1zM222 333h1v1h-1zM223 332h1v2h-1zM224 330h1v3h-1zM225 328h1v2h-1zM226 326h1v2h-1zM227 324h1v3h-1zM228 321h1v3h-1zM229 318h1v3h-1zM230 314h1v4h-1zM231 312h1v3h-1zM232 311h1v1h-1zM233 309h1v2h-1zM234 307h1v3h-1zM235 304h1v4h-1zM236 301h1v4h-1zM237 298h1v3h-1zM238 295h1v3h-1zM239 294h1v2h-1zM240 293h1v1h-1zM241 292h1v1h-1zM242 291h1v1h-1zM243 289h1v2h-1zM244 286h1v3h-1zM245 285h1v2h-1zM246 284h1v1h-1zM247 282h1v2h-1zM248 279h1v3h-1zM249 278h1v2h-1zM250 277h1v1h-1zM251 277h1v1h-1zM252 278h1v1h-1zM253 279h1v1h-1zM254 278h1v1h-1zM255 277h1v2h-1zM256 278h1v3h-1zM257 280h1v3h-1zM258 283h1v3h-1zM259 286h1v2h-1zM260 287h1v1h-1zM261 288h1v2h-1zM262 290h1v3h-1zM263 292h1v3h-1zM264 294h1v3h-1zM265 297h1v3h-1zM266 299h1v3h-1zM267 301h1v3h-1zM268 303h1v3h-1zM269 306h1v3h-1zM270 308h1v3h-1zM271 310h1v3h-1zM272 312h1v3h-1zM273 315h1v3h-1zM274 317h1v2h-1zM275 319h1v2h-1zM276 320h1v3h-1zM277 322h1v3h-1zM278 324h1v3h-1zM279 326h1v2h-1zM280 328h1v1h-1zM281 329h1v1h-1zM282 330h1v1h-1zM283 331h1v1h-1zM284 332h1v1h-1zM285 332h1v1h-1zM286 332h1v1h-1zM287 333h1v1h-1zM288 333h1v1h-1zM289 333h1v1h-1zM290 332h1v1h-1zM291 330h1v2h-1zM292 329h1v2h-1zM293 327h1v2h-1zM294 325h1v3h-1zM295 322h1v3h-1zM296 320h1v3h-1zM297 318h1v3h-1zM298 315h1v3h-1zM299 312h1v3h-1zM300 309h1v3h-1zM301 307h1v3h-1zM302 306h1v2h-1zM303 304h1v2h-1zM304 303h1v2h-1zM305 301h1v2h-1zM306 300h1v2h-1zM307 299h1v1h-1zM308 299h1v1h-1zM309 299h1v2h-1zM310 300h1v3h-1zM311 302h1v2h-1zM312 304h1v1h-1zM313 305h1v1h-1zM314 306h1v1h-1zM315 306h1v1h-1zM316 306h1v1h-1zM317 305h1v1h-1zM318 303h1v2h-1zM319 302h1v2h-1zM320 302h1v1h-1zM321 302h1v1h-1zM322 303h1v1h-1zM323 304h1v1h-1zM324 304h1v1h-1zM325 305h1v1h-1zM326 306h1v2h-1zM327 307h1v2h-1zM328 309h1v2h-1zM329 310h1v3h-1zM330 312h1v3h-1zM331 314h1v2h-1zM332 315h1v1h-1zM333 316h1v1h-1zM334 316h1v1h-1zM335 316h1v2h-1zM336 315h1v2h-1zM337 313h1v2h-1zM338 309h1v4h-1zM339 306h1v4h-1zM340 304h1v3h-1zM341 302h1v3h-1zM342 301h1v2h-1zM343 300h1v1h-1zM344 300h1v1h-1zM345 300h1v1h-1zM346 301h1v1h-1zM347 302h1v1h-1zM348 303h1v1h-1zM349 304h1v1h-1zM350 305h1v1h-1zM351 306h1v1h-1zM352 306h1v1h-1zM353 306h1v1h-1zM354 306h1v1h-1zM355 306h1v1h-1zM356 305h1v1h-1zM357 304h1v1h-1zM358 303h1v1h-1zM359 302h1v1h-1zM360 303h1v1h-1zM361 304h1v1h-1zM362 305h1v1h-1zM363 305h1v1h-1zM364 306h1v1h-1zM365 307h1v2h-1zM366 309h1v3h-1zM367 311h1v2h-1zM368 313h1v1h-1zM369 314h1v1h-1zM370 315h1v1h-1zM371 316h1v1h-1zM372 316h1v1h-1zM373 316h1v1h-1zM374 316h1v1h-1zM375 316h1v1h-1zM376 316h1v1h-1zM377 316h1v1h-1zM378 315h1v1h-1zM379 315h1v1h-1zM380 315h1v1h-1zM381 315h1v1h-1zM382 315h1v1h-1zM383 315h1v1h-1zM384 316h1v1h-1zM385 317h1v1h-1zM386 317h1v1h-1zM387 317h1v1h-1zM388 317h1v1h-1zM389 317h1v1h-1zM390 316h1v1h-1zM391 314h1v2h-1zM392 313h1v2h-1zM393 311h1v2h-1zM394 308h1v3h-1zM395 305h1v3h-1zM396 303h1v3h-1zM397 301h1v3h-1zM398 298h1v3h-1zM399 295h1v3h-1zM400 292h1v3h-1zM401 289h1v4h-1zM402 286h1v4h-1zM403 283h1v3h-1zM404 280h1v3h-1zM405 277h1v3h-1zM406 275h1v3h-1zM407 273h1v3h-1zM408 270h1v3h-1zM409 267h1v3h-1zM410 265h1v3h-1zM411 263h1v3h-1zM412 260h1v3h-1zM413 259h1v2h-1zM414 257h1v2h-1zM415 256h1v2h-1zM416 255h1v1h-1zM417 254h1v1h-1zM418 253h1v1h-1zM419 253h1v1h-1zM420 254h1v1h-1zM421 255h1v1h-1zM422 256h1v2h-1zM423 257h1v2h-1zM424 259h1v2h-1zM425 260h1v2h-1zM426 261h1v1h-1zM427 262h1v1h-1zM428 263h1v1h-1zM429 264h1v2h-1zM430 265h1v3h-1zM431 267h1v2h-1zM432 269h1v2h-1zM433 270h1v2h-1zM434 272h1v1h-1zM435 272h1v1h-1zM436 272h1v1h-1zM437 271h1v1h-1zM438 271h1v1h-1zM439 270h1v1h-1zM440 270h1v1h-1zM441 268h1v2h-1zM442 266h1v3h-1zM443 264h1v3h-1zM444 262h1v3h-1zM445 260h1v3h-1zM446 257h1v3h-1zM447 254h1v3h-1zM448 252h1v3h-1zM449 251h1v2h-1zM450 250h1v1h-1zM451 248h1v2h-1zM452 246h1v3h-1zM453 245h1v2h-1zM454 244h1v1h-1zM455 243h1v1h-1zM456 243h1v1h-1zM457 242h1v2h-1zM458 241h1v2h-1zM459 240h1v1h-1zM460 241h1v1h-1zM461 242h1v1h-1zM462 242h1v1h-1zM463 243h1v1h-1zM464 244h1v2h-1zM465 245h1v2h-1zM466 246h1v1h-1zM467 247h1v1h-1zM468 247h1v1h-1zM469 248h1v1h-1zM470 249h1v1h-1zM471 250h1v1h-1zM472 249h1v1h-1zM473 247h1v2h-1zM474 246h1v2h-1zM475 244h1v2h-1zM476 242h1v3h-1zM477 240h1v3h-1zM478 237h1v3h-1zM479 234h1v3h-1zM480 231h1v3h-1zM481 228h1v3h-1zM482 225h1v3h-1zM483 221h1v4h-1zM484 218h1v4h-1zM485 214h1v4h-1zM486 210h1v5h-1zM487 205h1v6h-1zM488 199h1v7h-1zM489 193h1v7h-1zM490 188h1v6h-1zM491 182h1v6h-1zM492 176h1v7h-1zM493 171h1v6h-1zM494 166h1v5h-1zM495 161h1v5h-1zM496 156h1v5h-1zM497 151h1v5h-1zM498 147h1v5h-1zM499 145h1v3h-1zM500 143h1v2h-1zM501 142h1v2h-1zM502 142h1v1h-1zM503 141h1v1h-1zM504 140h1v1h-1zM505 139h1v1h-1zM506 139h1v1h-1zM507 138h1v1h-1zM508 139h1v1h-1zM509 139h1v2h-1zM510 140h1v2h-1zM511 142h1v2h-1zM512 143h1v3h-1zM513 145h1v3h-1zM514 147h1v3h-1zM515 149h1v3h-1zM516 152h1v3h-1zM517 155h1v4h-1zM518 158h1v5h-1zM519 162h1v5h-1zM520 166h1v5h-1zM521 171h1v5h-1zM522 175h1v5h-1zM523 180h1v4h-1zM524 184h1v3h-1zM525 187h1v2h-1zM526 189h1v2h-1zM527 190h1v2h-1zM528 191h1v1h-1zM529 191h1v1h-1zM530 192h1v1h-1zM531 193h1v2h-1zM532 194h1v3h-1zM533 196h1v3h-1zM534 198h1v3h-1zM535 200h1v2h-1zM536 201h1v1h-1zM537 202h1v1h-1zM538 202h1v1h-1zM539 201h1v1h-1zM540 200h1v1h-1zM541 200h1v1h-1zM542 199h1v1h-1zM543 199h1v1h-1zM544 199h1v1h-1zM545 200h1v1h-1zM546 200h1v1h-1zM547 200h1v1h-1zM548 199h1v1h-1zM549 198h1v1h-1zM550 196h1v2h-1zM551 195h1v2h-1zM552 195h1v1h-1zM553 194h1v1h-1zM554 194h1v1h-1zM555 194h1v1h-1zM556 194h1v1h-1zM557 195h1v1h-1zM558 194h1v1h-1zM559 194h1v1h-1zM560 193h1v1h-1zM561 192h1v1h-1zM562 190h1v2h-1zM563 189h1v2h-1zM564 188h1v1h-1zM565 186h1v2h-1zM566 184h1v3h-1zM567 183h1v2h-1zM568 181h1v2h-1zM569 179h1v3h-1zM570 177h1v3h-1zM571 175h1v3h-1zM572 174h1v2h-1zM573 172h1v2h-1zM574 169h1v3h-1zM575 167h1v2h-1zM576 165h1v2h-1zM577 163h1v3h-1zM578 161h1v3h-1zM579 159h1v3h-1zM580 158h1v2h-1zM581 156h1v2h-1zM582 155h1v2h-1zM583 153h1v2h-1zM584 149h1v4h-1zM585 145h1v5h-1zM586 141h1v5h-1zM587 137h1v5h-1zM588 134h1v4h-1zM589 131h1v3h-1zM590 127h1v4h-1zM591 123h1v5h-1zM592 120h1v4h-1zM593 117h1v3h-1zM594 113h1v4h-1zM595 111h1v3h-1zM596 109h1v2h-1zM597 108h1v2h-1zM598 106h1v2h-1zM599 104h1v3h-1zM600 102h1v3h-1zM601 101h1v2h-1zM602 100h1v1h-1zM603 98h1v2h-1zM604 96h1v3h-1zM605 95h1v2h-1zM606 95h1v1h-1zM607 95h1v1h-1zM608 94h1v1h-1zM609 93h1v1h-1zM610 93h1v1h-1zM611 93h1v1h-1zM612 94h1v2h-1zM613 95h1v3h-1zM614 97h1v3h-1zM615 99h1v3h-1zM616 101h1v3h-1zM617 103h1v4h-1zM618 106h1v5h-1zM619 111h1v5h-1zM620 115h1v5h-1zM621 120h1v5h-1zM622 125h1v5h-1zM623 130h1v4h-1zM624 134h1v3h-1zM625 137h1v3h-1zM626 140h1v3h-1zM627 143h1v3h-1zM628 145h1v3h-1zM629 148h1v2h-1zM630 150h1v2h-1zM631 151h1v3h-1zM632 154h1v3h-1zM633 156h1v2h-1zM634 158h1v1h-1zM635 158h1v1h-1zM636 159h1v1h-1zM637 160h1v1h-1zM638 161h1v1h-1zM639 161h1v1h-1zM640 161h1v1h-1zM641 161h1v1h-1zM642 162h1v1h-1zM643 163h1v1h-1zM644 163h1v1h-1zM645 163h1v2h-1zM646 162h1v2h-1zM647 160h1v2h-1zM648 159h1v2h-1zM649 157h1v2h-1zM650 156h1v2h-1zM651 155h1v1h-1zM652 154h1v1h-1zM653 154h1v1h-1zM654 154h1v1h-1zM655 154h1v1h-1zM656 153h1v1h-1zM657 153h1v1h-1zM658 152h1v1h-1zM659 152h1v1h-1zM660 150h1v2h-1zM661 149h1v2h-1zM662 149h1v1h-1zM663 148h1v1h-1zM664 148h1v1h-1zM665 148h1v2h-1zM666 149h1v2h-1zM667 151h1v2h-1zM668 152h1v2h-1zM669 154h1v1h-1zM670 155h1v1h-1zM671 156h1v1h-1zM672 155h1v1h-1zM673 155h1v1h-1zM674 155h1v1h-1zM675 156h1v1h-1zM676 156h1v1h-1zM677 157h1v1h-1zM678 158h1v1h-1zM679 159h1v1h-1zM680 159h1v1h-1zM681 159h1v1h-1zM682 158h1v1h-1zM683 157h1v1h-1zM684 157h1v1h-1zM685 157h1v1h-1zM686 158h1v1h-1zM687 159h1v2h-1zM688 160h1v2h-1zM689 162h1v1h-1zM690 162h1v1h-1zM691 162h1v1h-1zM692 161h1v1h-1zM693 159h1v2h-1zM694 157h1v3h-1zM695 156h1v2h-1zM696 155h1v1h-1zM697 154h1v1h-1zM698 153h1v1h-1zM699 152h1v1h-1zM700 152h1v1h-1zM701 152h1v1h-1zM702 151h1v1h-1zM703 151h1v1h-1zM704 151h1v1h-1zM705 152h1v1h-1zM706 152h1v1h-1zM707 153h1v1h-1zM708 154h1v2h-1zM709 155h1v3h-1zM710 157h1v3h-1zM711 159h1v3h-1zM712 162h1v3h-1zM713 165h1v3h-1zM714 167h1v3h-1zM715 169h1v2h-1zM716 171h1v2h-1zM717 172h1v3h-1zM718 174h1v3h-1zM719 177h1v3h-1zM720 180h1v3h-1zM721 182h1v4h-1zM722 185h1v4h-1zM723 189h1v3h-1zM724 192h1v3h-1zM725 194h1v3h-1zM726 196h1v2h-1zM727 198h1v2h-1zM728 199h1v3h-1zM729 202h1v2h-1zM730 204h1v2h-1zM731 205h1v2h-1zM732 207h1v1h-1zM733 208h1v1h-1zM734 207h1v1h-1zM735 207h1v1h-1zM736 207h1v1h-1zM737 207h1v1h-1zM738 207h1v1h-1zM739 207h1v1h-1zM740 206h1v1h-1zM741 205h1v1h-1zM742 204h1v1h-1zM743 204h1v1h-1zM744 205h1v1h-1zM745 205h1v2h-1zM746 206h1v2h-1zM747 208h1v2h-1zM748 209h1v3h-1zM749 211h1v2h-1zM750 213h1v2h-1zM751 214h1v2h-1zM752 215h1v1h-1zM753 216h1v2h-1zM754 217h1v2h-1zM755 219h1v1h-1zM756 219h1v1h-1zM757 218h1v1h-1zM758 218h1v1h-1zM759 218h1v1h-1zM760 218h1v1h-1zM761 218h1v2h-1zM762 219h1v3h-1zM763 221h1v2h-1zM764 223h1v2h-1zM765 224h1v3h-1zM766 226h1v2h-1zM767 228h1v2h-1zM768 229h1v3h-1zM769 231h1v2h-1zM770 233h1v1h-1zM771 234h1v2h-1zM772 235h1v2h-1zM773 237h1v2h-1zM774 238h1v2h-1zM775 240h1v1h-1zM776 241h1v1h-1zM777 241h1v1h-1zM778 242h1v1h-1zM779 243h1v2h-1zM780 244h1v3h-1zM781 246h1v2h-1zM782 248h1v2h-1zM783 249h1v3h-1zM784 252h1v4h-1zM785 255h1v4h-1zM786 259h1v4h-1zM787 262h1v4h-1zM788 266h1v3h-1zM789 268h1v3h-1zM790 271h1v3h-1zM791 273h1v3h-1zM792 275h1v2h-1zM793 277h1v1h-1zM794 278h1v1h-1zM795 279h1v1h-1zM796 279h1v1h-1zM797 279h1v1h-1zM798 279h1v1h-1zM799 278h1v1h-1zM800 279h1v1h-1zM801 279h1v1h-1zM802 278h1v1h-1zM803 277h1v2h-1zM804 276h1v2h-1zM805 275h1v1h-1zM806 274h1v1h-1zM807 273h1v1h-1zM808 273h1v1h-1zM809 272h1v1h-1zM810 271h1v1h-1zM811 270h1v2h-1zM812 268h1v3h-1zM813 266h1v3h-1zM814 265h1v2h-1zM815 264h1v1h-1zM816 263h1v1h-1zM817 261h1v2h-1zM818 259h1v3h-1zM819 258h1v2h-1zM820 258h1v1h-1zM821 257h1v1h-1zM822 257h1v1h-1zM823 257h1v1h-1zM824 257h1v1h-1zM825 257h1v1h-1zM826 258h1v1h-1zM827 259h1v1h-1zM828 260h1v1h-1zM829 260h1v1h-1zM830 261h1v1h-1zM831 261h1v1h-1zM832 262h1v1h-1zM833 263h1v2h-1zM834 265h1v3h-1zM835 267h1v3h-1zM836 270h1v3h-1zM837 273h1v3h-1zM838 276h1v4h-1zM839 279h1v5h-1zM840 283h1v5h-1zM841 287h1v4h-1zM842 291h1v3h-1zM843 294h1v4h-1zM844 297h1v5h-1zM845 301h1v4h-1zM846 305h1v3h-1zM847 308h1v2h-1zM848 310h1v1h-1zM849 311h1v1h-1zM850 312h1v1h-1zM851 312h1v1h-1zM852 313h1v2h-1zM853 314h1v2h-1zM854 315h1v1h-1zM855 315h1v1h-1zM856 316h1v1h-1zM857 317h1v2h-1zM858 319h1v3h-1zM859 322h1v3h-1zM860 325h1v3h-1zM861 327h1v3h-1zM862 330h1v3h-1zM863 332h1v2h-1zM864 334h1v1h-1zM865 335h1v1h-1zM866 336h1v1h-1zM867 337h1v1h-1zM868 337h1v1h-1zM869 336h1v1h-1zM870 336h1v1h-1zM871 334h1v2h-1zM872 333h1v2h-1zM873 332h1v1h-1zM874 331h1v1h-1zM875 330h1v1h-1zM876 331h1v1h-1zM877 332h1v1h-1zM878 333h1v1h-1zM879 334h1v2h-1zM880 335h1v3h-1zM881 337h1v3h-1zM882 339h1v3h-1zM883 341h1v2h-1zM884 343h1v1h-1zM885 344h1v1h-1zM886 344h1v1h-1zM887 345h1v1h-1zM888 344h1v1h-1zM889 343h1v1h-1zM890 342h1v1h-1zM891 341h1v1h-1zM892 339h1v2h-1zM893 337h1v3h-1zM894 335h1v3h-1zM895 334h1v2h-1zM896 334h1v1h-1zM897 334h1v1h-1zM898 334h1v1h-1zM899 335h1v1h-1zM900 336h1v1h-1zM901 337h1v1h-1zM902 337h1v1h-1zM903 338h1v1h-1zM904 338h1v1h-1zM905 337h1v2h-1zM906 336h1v2h-1zM907 335h1v1h-1zM908 334h1v1h-1zM909 333h1v1h-1zM910 334h1v1h-1zM911 334h1v1h-1zM912 334h1v1h-1zM913 333h1v1h-1zM914 332h1v1h-1zM915 331h1v1h-1zM916 330h1v1h-1zM917 329h1v1h-1zM918 329h1v1h-1zM919 328h1v1h-1zM920 328h1v1h-1zM921 329h1v1h-1zM922 329h1v1h-1zM923 329h1v1h-1zM924 329h1v1h-1zM925 328h1v1h-1zM926 328h1v1h-1zM927 327h1v1h-1z" fill="#ff0000" shape-rendering="crispEdges"/>
<g shape-rendering="crispEdges">
<rect x="2" y="530" width="2" height="1" fill="#c0c0c0"/>
<rect x="4" y="528" width="2" height="3" fill="#c0c0c0"/>
<rect x="6" y="528" width="2" height="3" fill="#c0c0c0"/>
<rect x="8" y="527" width="2" height="4" fill="#c0c0c0"/>
<rect x="10" y="527" width="2" height="4" fill="#c0c0c0"/>
<rect x="12" y="528" width="2" height="3" fill="#c0c0c0"/>
<rect x="14" y="529" width="2" height="2" fill="#c0c0c0"/>
<rect x="16" y="531" width="2" height="0" fill="#c0c0c0"/>
<rect x="18" y="531" width="2" height="3" fill="#c0c0c0"/>
<rect x="20" y="531" width="2" height="5" fill="#c0c0c0"/>
<rect x="22" y="531" width="2" height="8" fill="#c0c0c0"/>
<rect x="24" y="531" width="2" height="10" fill="#c0c0c0"/>
<rect x="26" y="531" width="2" height="10" fill="#c0c0c0"/>
<rect x="28" y="531" width="2" height="9" fill="#c0c0c0"/>
<rect x="30" y="531" width="2" height="10" fill="#c0c0c0"/>
<rect x="32" y="531" width="2" height="12" fill="#c0c0c0"/>
<rect x="34" y="531" width="2" height="13" fill="#c0c0c0"/>
<rect x="36" y="531" width="2" height="13" fill="#c0c0c0"/>
<rect x="38" y="531" width="2" height="13" fill="#c0c0c0"/>
<rect x="40" y="531" width="2" height="14" fill="#c0c0c0"/>
<rect x="42" y="531" width="2" height="12" fill="#c0c0c0"/>
<rect x="44" y="531" width="2" height="13" fill="#c0c0c0"/>
<rect x="46" y="531" width="2" height="15" fill="#c0c0c0"/>
<rect x="48" y="531" width="2" height="18" fill="#c0c0c0"/>
<rect x="50" y="531" width="2" height="22" fill="#c0c0c0"/>
<rect x="52" y="531" width="2" height="24" fill="#c0c0c0"/>
<rect x="54" y="531" width="2" height="27" fill="#c0c0c0"/>
<rect x="56" y="531" width="2" height="30" fill="#c0c0c0"/>
<rect x="58" y="531" width="2" height="32" fill="#c0c0c0"/>
<rect x="60" y="531" width="2" height="33" fill="#c0c0c0"/>
<rect x="62" y="531" width="2" height="33" fill="#c0c0c0"/>
<rect x="64" y="531" width="2" height="34" fill="#c0c0c0"/>
<rect x="66" y="531" width="2" height="32" fill="#c0c0c0"/>
<rect x="68" y="531" width="2" height="31" fill="#c0c0c0"/>
<rect x="70" y="531" width="2" height="30" fill="#c0c0c0"/>
<rect x="72" y="531" width="2" height="29" fill="#c0c0c0"/>
<rect x="74" y="531" width="2" height="29" fill="#c0c0c0"/>
<rect x="76" y="531" width="2" height="29" fill="#c0c0c0"/>
<rect x="78" y="531" width="2" height="28" fill="#c0c0c0"/>
<rect x="80" y="531" width="2" height="27" fill="#c0c0c0"/>
<rect x="82" y="531" width="2" height="26" fill="#c0c0c0"/>
<rect x="84" y="531" width="2" height="26" fill="#c0c0c0"/>
<rect x="86" y="531" width="2" height="25" fill="#c0c0c0"/>
<rect x="88" y="531" width="2" height="25" fill="#c0c0c0"/>
<rect x="90" y="531" width="2" height="24" fill="#c0c0c0"/>
<rect x="92" y="531" width="2" height="23" fill="#c0c0c0"/>
<rect x="94" y="531" width="2" height="23" fill="#c0c0c0"/>
<rect x="96" y="531" width="2" height="20" fill="#c0c0c0"/>
<rect x="98" y="531" width="2" height="21" fill="#c0c0c0"/>
<rect x="100" y="531" width="2" height="18" fill="#c0c0c0"/>
<rect x="102" y="531" width="2" height="14" fill="#c0c0c0"/>
<rect x="104" y="531" width="2" height="12" fill="#c0c0c0"/>
<rect x="106" y="531" width="2" height="11" fill="#c0c0c0"/>
<rect x="108" y="531" width="2" height="8" fill="#c0c0c0"/>
<rect x="110" y="531" width="2" height="8" fill="#c0c0c0"/>
<rect x="112" y="531" width="2" height="7" fill="#c0c0c0"/>
<rect x="114" y="531" width="2" height="6" fill="#c0c0c0"/>
<rect x="116" y="531" width="2" height="4" fill="#c0c0c0"/>
<rect x="118" y="531" width="2" height="2" fill="#c0c0c0"/>
<rect x="120" y="531" width="2" height="1" fill="#c0c0c0"/>
<rect x="122" y="531" width="2" height="0" fill="#c0c0c0"/>
<rect x="124" y="529" width="2" height="2" fill="#c0c0c0"/>
<rect x="126" y="526" width="2" height="5" fill="#c0c0c0"/>
<rect x="128" y="521" width="2" height="10" fill="#c0c0c0"/>
<rect x="130" y="517" width="2" height="14" fill="#c0c0c0"/>
<rect x="132" y="512" width="2" height="19" fill="#c0c0c0"/>
<rect x="134" y="510" width="2" height="21" fill="#c0c0c0"/>
<rect x="136" y="506" width="2" height="25" fill="#c0c0c0"/>
<rect x="138" y="503" width="2" height="28" fill="#c0c0c0"/>
<rect x="140" y="500" width="2" height="31" fill="#c0c0c0"/>
<rect x="142" y="497" width="2" height="34" fill="#c0c0c0"/>
<rect x="144" y="495" width="2" height="36" fill="#c0c0c0"/>
<rect x="146" y="494" width="2" height="37" fill="#c0c0c0"/>
<rect x="148" y="493" width="2" height="38" fill="#c0c0c0"/>
<rect x="150" y="491" width="2" height="40" fill="#c0c0c0"/>
<rect x="152" y="490" width="2" height="41" fill="#c0c0c0"/>
<rect x="154" y="489" width="2" height="42" fill="#c0c0c0"/>
<rect x="156" y="490" width="2" height="41" fill="#c0c0c0"/>
<rect x="158" y="492" width="2" height="39" fill="#c0c0c0"/>
<rect x="160" y="492" width="2" height="39" fill="#c0c0c0"/>
<rect x="162" y="494" width="2" height="37" fill="#c0c0c0"/>
<rect x="164" y="496" width="2" height="35" fill="#c0c0c0"/>
<rect x="166" y="498" width="2" height="33" fill="#c0c0c0"/>
<rect x="168" y="500" width="2" height="31" fill="#c0c0c0"/>
<rect x="170" y="501" width="2" height="30" fill="#c0c0c0"/>
<rect x="172" y="502" width="2" height="29" fill="#c0c0c0"/>
<rect x="174" y="503" width="2" height="28" fill="#c0c0c0"/>
<rect x="176" y="504" width="2" height="27" fill="#c0c0c0"/>
<rect x="178" y="505" width="2" height="26" fill="#c0c0c0"/>
<rect x="180" y="506" width="2" height="25" fill="#c0c0c0"/>
<rect x="182" y="507" width="2" height="24" fill="#c0c0c0"/>
<rect x="184" y="511" width="2" height="20" fill="#c0c0c0"/>
<rect x="186" y="515" width="2" height="16" fill="#c0c0c0"/>
<rect x="188" y="521" width="2" height="10" fill="#c0c0c0"/>
<rect x="190" y="526" width="2" height="5" fill="#c0c0c0"/>
<rect x="192" y="531" width="2" height="0" fill="#c0c0c0"/>
<rect x="194" y="531" width="2" height="3" fill="#c0c0c0"/>
<rect x="196" y="531" width="2" height="7" fill="#c0c0c0"/>
<rect x="198" y="531" width="2" height="12" fill="#c0c0c0"/>
<rect x="200" y="531" width="2" height="15" fill="#c0c0c0"/>
<rect x="202" y="531" width="2" height="17" fill="#c0c0c0"/>
<rect x="204" y="531" width="2" height="18" fill="#c0c0c0"/>
<rect x="206" y="531" width="2" height="19" fill="#c0c0c0"/>
<rect x="208" y="531" width="2" height="21" fill="#c0c0c0"/>
<rect x="210" y="531" width="2" height="21" fill="#c0c0c0"/>
<rect x="212" y="531" width="2" height="19" fill="#c0c0c0"/>
<rect x="214" y="531" width="2" height="17" fill="#c0c0c0"/>
<rect x="216" y="531" width="2" height="18" fill="#c0c0c0"/>
<rect x="218" y="531" width="2" height="16" fill="#c0c0c0"/>
<rect x="220" y="531" width="2" height="16" fill="#c0c0c0"/>
<rect x="222" y="531" width="2" height="13" fill="#c0c0c0"/>
<rect x="224" y="531" width="2" height="8" fill="#c0c0c0"/>
<rect x="226" y="531" width="2" height="6" fill="#c0c0c0"/>
<rect x="228" y="531" width="2" height="3" fill="#c0c0c0"/>
<rect x="230" y="529" width="2" height="2" fill="#c0c0c0"/>
<rect x="232" y="530" width="2" height="1" fill="#c0c0c0"/>
<rect x="234" y="529" width="2" height="2" fill="#c0c0c0"/>
<rect x="236" y="527" width="2" height="4" fill="#c0c0c0"/>
<rect x="238" y="526" width="2" height="5" fill="#c0c0c0"/>
<rect x="240" y="526" width="2" height="5" fill="#c0c0c0"/>
<rect x="242" y="527" width="2" height="4" fill="#c0c0c0"/>
<rect x="244" y="526" width="2" height="5" fill="#c0c0c0"/>
<rect x="246" y="527" width="2" height="4" fill="#c0c0c0"/>
<rect x="248" y="527" width="2" height="4" fill="#c0c0c0"/>
<rect x="250" y="527" width="2" height="4" fill="#c0c0c0"/>
<rect x="252" y="528" width="2" height="3" fill="#c0c0c0"/>
<rect x="254" y="528" width="2" height="3" fill="#c0c0c0"/>
<rect x="256" y="530" width="2" height="1" fill="#c0c0c0"/>
<rect x="258" y="531" width="2" height="2" fill="#c0c0c0"/>
<rect x="260" y="531" width="2" height="4" fill="#c0c0c0"/>
<rect x="262" y="531" width="2" height="7" fill="#c0c0c0"/>
<rect x="264" y="531" width="2" height="8" fill="#c0c0c0"/>
<rect x="266" y="531" width="2" height="9" fill="#c0c0c0"/>
<rect x="268" y="531" width="2" height="11" fill="#c0c0c0"/>
<rect x="270" y="531" width="2" height="12" fill="#c0c0c0"/>
<rect x="272" y="531" width="2" height="13" fill="#c0c0c0"/>
<rect x="274" y="531" width="2" height="12" fill="#c0c0c0"/>
<rect x="276" y="531" width="2" height="11" fill="#c0c0c0"/>
<rect x="278" y="531" width="2" height="11" fill="#c0c0c0"/>
<rect x="280" y="531" width="2" height="11" fill="#c0c0c0"/>
<rect x="282" y="531" width="2" height="8" fill="#c0c0c0"/>
<rect x="284" y="531" width="2" height="8" fill="#c0c0c0"/>
<rect x="286" y="531" width="2" height="8" fill="#c0c0c0"/>
<rect x="288" y="531" width="2" height="7" fill="#c0c0c0"/>
<rect x="290" y="531" width="2" height="6" fill="#c0c0c0"/>
<rect x="292" y="531" width="2" height="3" fill="#c0c0c0"/>
<rect x="294" y="530" width="2" height="1" fill="#c0c0c0"/>
<rect x="296" y="528" width="2" height="3" fill="#c0c0c0"/>
<rect x="298" y="526" width="2" height="5" fill="#c0c0c0"/>
<rect x="300" y="524" width="2" height="7" fill="#c0c0c0"/>
<rect x="302" y="525" width="2" height="6" fill="#c0c0c0"/>
<rect x="304" y="524" width="2" height="7" fill="#c0c0c0"/>
<rect x="306" y="524" width="2" height="7" fill="#c0c0c0"/>
<rect x="308" y="527" width="2" height="4" fill="#c0c0c0"/>
<rect x="310" y="531" width="2" height="1" fill="#c0c0c0"/>
<rect x="312" y="531" width="2" height="5" fill="#c0c0c0"/>
<rect x="314" y="531" width="2" height="7" fill="#c0c0c0"/>
<rect x="316" y="531" width="2" height="5" fill="#c0c0c0"/>
<rect x="318" y="531" width="2" height="2" fill="#c0c0c0"/>
<rect x="320" y="531" width="2" height="0" fill="#c0c0c0"/>
<rect x="322" y="530" width="2" height="1" fill="#c0c0c0"/>
<rect x="324" y="529" width="2" height="2" fill="#c0c0c0"/>
<rect x="326" y="530" width="2" height="1" fill="#c0c0c0"/>
<rect x="328" y="531" width="2" height="0" fill="#c0c0c0"/>
<rect x="330" y="531" width="2" height="2" fill="#c0c0c0"/>
<rect x="332" y="531" width="2" height="1" fill="#c0c0c0"/>
<rect x="334" y="531" width="2" height="1" fill="#c0c0c0"/>
<rect x="336" y="530" width="2" height="1" fill="#c0c0c0"/>
<rect x="338" y="528" width="2" height="3" fill="#c0c0c0"/>
<rect x="340" y="528" width="2" height="3" fill="#c0c0c0"/>
<rect x="342" y="528" width="2" height="3" fill="#c0c0c0"/>
<rect x="344" y="530" width="2" height="1" fill="#c0c0c0"/>
<rect x="346" y="530" width="2" height="1" fill="#c0c0c0"/>
<rect x="348" y="530" width="2" height="1" fill="#c0c0c0"/>
<rect x="350" y="531" width="2" height="0" fill="#c0c0c0"/>
<rect x="352" y="531" width="2" height="0" fill="#c0c0c0"/>
<rect x="354" y="531" width="2" height="0" fill="#c0c0c0"/>
<rect x="356" y="530" width="2" height="1" fill="#c0c0c0"/>
<rect x="358" y="531" width="2" height="0" fill="#c0c0c0"/>
<rect x="360" y="531" width="2" height="1" fill="#c0c0c0"/>
<rect x="362" y="531" width="2" height="2" fill="#c0c0c0"/>
<rect x="364" y="531" width="2" height="3" fill="#c0c0c0"/>
<rect x="366" y="531" width="2" height="5" fill="#c0c0c0"/>
<rect x="368" y="531" width="2" height="4" fill="#c0c0c0"/>
<rect x="370" y="531" width="2" height="5" fill="#c0c0c0"/>
<rect x="372" y="531" width="2" height="5" fill="#c0c0c0"/>
<rect x="374" y="531" width="2" height="4" fill="#c0c0c0"/>
<rect x="376" y="531" width="2" height="3" fill="#c0c0c0"/>
<rect x="378" y="531" width="2" height="1" fill="#c0c0c0"/>
<rect x="380" y="531" width="2" height="0" fill="#c0c0c0"/>
<rect x="382" y="531" width="2" height="0" fill="#c0c0c0"/>
<rect x="384" y="531" width="2" height="1" fill="#c0c0c0"/>
<rect x="386" y="531" width="2" height="1" fill="#c0c0c0"/>
<rect x="388" y="531" width="2" height="2" fill="#c0c0c0"/>
<rect x="390" y="531" width="2" height="1" fill="#c0c0c0"/>
<rect x="392" y="529" width="2" height="2" fill="#c0c0c0"/>
<rect x="394" y="525" width="2" height="6" fill="#c0c0c0"/>
<rect x="396" y="523" width="2" height="8" fill="#c0c0c0"/>
<rect x="398" y="521" width="2" height="10" fill="#c0c0c0"/>
<rect x="400" y="519" width="2" height="12" fill="#c0c0c0"/>
<rect x="402" y="516" width="2" height="15" fill="#c0c0c0"/>
<rect x="404" y="513" width="2" height="18" fill="#c0c0c0"/>
<rect x="406" y="513" width="2" height="18" fill="#c0c0c0"/>
<rect x="408" y="512" width="2" height="19" fill="#c0c0c0"/>
<rect x="410" y="513" width="2" height="18" fill="#c0c0c0"/>
<rect x="412" y="514" width="2" height="17" fill="#c0c0c0"/>
<rect x="414" y="517" width="2" height="14" fill="#c0c0c0"/>
<rect x="416" y="520" width="2" height="11" fill="#c0c0c0"/>
<rect x="418" y="523" width="2" height="8" fill="#c0c0c0"/>
<rect x="420" y="526" width="2" height="5" fill="#c0c0c0"/>
<rect x="422" y="528" width="2" height="3" fill="#c0c0c0"/>
<rect x="424" y="530" width="2" height="1" fill="#c0c0c0"/>
<rect x="426" y="530" width="2" height="1" fill="#c0c0c0"/>
<rect x="428" y="530" width="2" height="1" fill="#c0c0c0"/>
<rect x="430" y="530" width="2" height="1" fill="#c0c0c0"/>
<rect x="432" y="529" width="2" height="2" fill="#c0c0c0"/>
<rect x="434" y="527" width="2" height="4" fill="#c0c0c0"/>
<rect x="436" y="524" width="2" height="7" fill="#c0c0c0"/>
<rect x="438" y="522" width="2" height="9" fill="#c0c0c0"/>
<rect x="440" y="521" width="2" height="10" fill="#c0c0c0"/>
<rect x="442" y="519" width="2" height="12" fill="#c0c0c0"/>
<rect x="444" y="519" width="2" height="12" fill="#c0c0c0"/>
<rect x="446" y="518" width="2" height="13" fill="#c0c0c0"/>
<rect x="448" y="519" width="2" height="12" fill="#c0c0c0"/>
<rect x="450" y="521" width="2" height="10" fill="#c0c0c0"/>
<rect x="452" y="522" width="2" height="9" fill="#c0c0c0"/>
<rect x="454" y="523" width="2" height="8" fill="#c0c0c0"/>
<rect x="456" y="525" width="2" height="6" fill="#c0c0c0"/>
<rect x="458" y="525" width="2" height="6" fill="#c0c0c0"/>
<rect x="460" y="528" width="2" height="3" fill="#c0c0c0"/>
<rect x="462" y="529" width="2" height="2" fill="#c0c0c0"/>
<rect x="464" y="529" width="2" height="2" fill="#c0c0c0"/>
<rect x="466" y="529" width="2" height="2" fill="#c0c0c0"/>
<rect x="468" y="529" width="2" height="2" fill="#c0c0c0"/>
<rect x="470" y="529" width="2" height="2" fill="#c0c0c0"/>
<rect x="472" y="525" width="2" height="6" fill="#c0c0c0"/>
<rect x="474" y="521" width="2" height="10" fill="#c0c0c0"/>
<rect x="476" y="518" width="2" height="13" fill="#c0c0c0"/>
<rect x="478" y="515" width="2" height="16" fill="#c0c0c0"/>
<rect x="480" y="513" width="2" height="18" fill="#c0c0c0"/>
<rect x="482" y="511" width="2" height="20" fill="#c0c0c0"/>
<rect x="484" y="510" width="2" height="21" fill="#c0c0c0"/>
<rect x="486" y="507" width="2" height="24" fill="#c0c0c0"/>
<rect x="488" y="504" width="2" height="27" fill="#c0c0c0"/>
<rect x="490" y="501" width="2" height="30" fill="#c0c0c0"/>
<rect x="492" y="498" width="2" height="33" fill="#c0c0c0"/>
<rect x="494" y="497" width="2" height="34" fill="#c0c0c0"/>
<rect x="496" y="497" width="2" height="34" fill="#c0c0c0"/>
<rect x="498" y="499" width="2" height="32" fill="#c0c0c0"/>
<rect x="500" y="503" width="2" height="28" fill="#c0c0c0"/>
<rect x="502" y="506" width="2" height="25" fill="#c0c0c0"/>
<rect x="504" y="509" width="2" height="22" fill="#c0c0c0"/>
<rect x="506" y="511" width="2" height="20" fill="#c0c0c0"/>
<rect x="508" y="515" width="2" height="16" fill="#c0c0c0"/>
<rect x="510" y="520" width="2" height="11" fill="#c0c0c0"/>
<rect x="512" y="524" width="2" height="7" fill="#c0c0c0"/>
<rect x="514" y="527" width="2" height="4" fill="#c0c0c0"/>
<rect x="516" y="529" width="2" height="2" fill="#c0c0c0"/>
<rect x="518" y="531" width="2" height="0" fill="#c0c0c0"/>
<rect x="520" y="531" width="2" height="3" fill="#c0c0c0"/>
<rect x="522" y="531" width="2" height="5" fill="#c0c0c0"/>
<rect x="524" y="531" width="2" height="6" fill="#c0c0c0"/>
<rect x="526" y="531" width="2" height="4" fill="#c0c0c0"/>
<rect x="528" y="531" width="2" height="2" fill="#c0c0c0"/>
<rect x="530" y="531" width="2" height="2" fill="#c0c0c0"/>
<rect x="532" y="531" width="2" height="3" fill="#c0c0c0"/>
<rect x="534" y="531" width="2" height="4" fill="#c0c0c0"/>
<rect x="536" y="531" width="2" height="4" fill="#c0c0c0"/>
<rect x="538" y="531" width="2" height="4" fill="#c0c0c0"/>
<rect x="540" y="531" width="2" height="3" fill="#c0c0c0"/>
<rect x="542" y="531" width="2" height="3" fill="#c0c0c0"/>
<rect x="544" y="531" width="2" height="3" fill="#c0c0c0"/>
<rect x="546" y="531" width="2" height="4" fill="#c0c0c0"/>
<rect x="548" y="531" width="2" height="4" fill="#c0c0c0"/>
<rect x="550" y="531" width="2" height="3" fill="#c0c0c0"/>
<rect x="552" y="531" width="2" height="2" fill="#c0c0c0"/>
<rect x="554" y="531" width="2" height="0" fill="#c0c0c0"/>
<rect x="556" y="530" width="2" height="1" fill="#c0c0c0"/>
<rect x="558" y="530" width="2" height="1" fill="#c0c0c0"/>
<rect x="560" y="529" width="2" height="2" fill="#c0c0c0"/>
<rect x="562" y="529" width="2" height="2" fill="#c0c0c0"/>
<rect x="564" y="528" width="2" height="3" fill="#c0c0c0"/>
<rect x="566" y="525" width="2" height="6" fill="#c0c0c0"/>
<rect x="568" y="523" width="2" height="8" fill="#c0c0c0"/>
<rect x="570" y="521" width="2" height="10" fill="#c0c0c0"/>
<rect x="572" y="522" width="2" height="9" fill="#c0c0c0"/>
<rect x="574" y="520" width="2" height="11" fill="#c0c0c0"/>
<rect x="576" y="520" width="2" height="11" fill="#c0c0c0"/>
<rect x="578" y="519" width="2" height="12" fill="#c0c0c0"/>
<rect x="580" y="519" width="2" height="12" fill="#c0c0c0"/>
<rect x="582" y="518" width="2" height="13" fill="#c0c0c0"/>
<rect x="584" y="515" width="2" height="16" fill="#c0c0c0"/>
<rect x="586" y="511" width="2" height="20" fill="#c0c0c0"/>
<rect x="588" y="509" width="2" height="22" fill="#c0c0c0"/>
<rect x="590" y="508" width="2" height="23" fill="#c0c0c0"/>
<rect x="592" y="506" width="2" height="25" fill="#c0c0c0"/>
<rect x="594" y="504" width="2" height="27" fill="#c0c0c0"/>
<rect x="596" y="506" width="2" height="25" fill="#c0c0c0"/>
<rect x="598" y="508" width="2" height="23" fill="#c0c0c0"/>
<rect x="600" y="510" width="2" height="21" fill="#c0c0c0"/>
<rect x="602" y="512" width="2" height="19" fill="#c0c0c0"/>
<rect x="604" y="513" width="2" height="18" fill="#c0c0c0"/>
<rect x="606" y="517" width="2" height="14" fill="#c0c0c0"/>
<rect x="608" y="519" width="2" height="12" fill="#c0c0c0"/>
<rect x="610" y="521" width="2" height="10" fill="#c0c0c0"/>
<rect x="612" y="523" width="2" height="8" fill="#c0c0c0"/>
<rect x="614" y="524" width="2" height="7" fill="#c0c0c0"/>
<rect x="616" y="527" width="2" height="4" fill="#c0c0c0"/>
<rect x="618" y="531" width="2" height="2" fill="#c0c0c0"/>
<rect x="620" y="531" width="2" height="6" fill="#c0c0c0"/>
<rect x="622" y="531" width="2" height="10" fill="#c0c0c0"/>
<rect x="624" y="531" width="2" height="11" fill="#c0c0c0"/>
<rect x="626" y="531" width="2" height="12" fill="#c0c0c0"/>
<rect x="628" y="531" width="2" height="12" fill="#c0c0c0"/>
<rect x="630" y="531" width="2" height="11" fill="#c0c0c0"/>
<rect x="632" y="531" width="2" height="11" fill="#c0c0c0"/>
<rect x="634" y="531" width="2" height="9" fill="#c0c0c0"/>
<rect x="636" y="531" width="2" height="8" fill="#c0c0c0"/>
<rect x="638" y="531" width="2" height="5" fill="#c0c0c0"/>
<rect x="640" y="531" width="2" height="3" fill="#c0c0c0"/>
<rect x="642" y="531" width="2" height="3" fill="#c0c0c0"/>
<rect x="644" y="531" width="2" height="3" fill="#c0c0c0"/>
<rect x="646" y="531" width="2" height="4" fill="#c0c0c0"/>
<rect x="648" y="531" width="2" height="4" fill="#c0c0c0"/>
<rect x="650" y="531" width="2" height="3" fill="#c0c0c0"/>
<rect x="652" y="531" width="2" height="4" fill="#c0c0c0"/>
<rect x="654" y="531" width="2" height="6" fill="#c0c0c0"/>
<rect x="656" y="531" width="2" height="5" fill="#c0c0c0"/>
<rect x="658" y="531" width="2" height="4" fill="#c0c0c0"/>
<rect x="660" y="531" width="2" height="2" fill="#c0c0c0"/>
<rect x="662" y="531" width="2" height="0" fill="#c0c0c0"/>
<rect x="664" y="531" width="2" height="0" fill="#c0c0c0"/>
<rect x="666" y="531" width="2" height="2" fill="#c0c0c0"/>
<rect x="668" y="531" width="2" height="3" fill="#c0c0c0"/>
<rect x="670" y="531" width="2" height="4" fill="#c0c0c0"/>
<rect x="672" y="531" width="2" height="3" fill="#c0c0c0"/>
<rect x="674" y="531" width="2" height="4" fill="#c0c0c0"/>
<rect x="676" y="531" width="2" height="5" fill="#c0c0c0"/>
<rect x="678" y="531" width="2" height="6" fill="#c0c0c0"/>
<rect x="680" y="531" width="2" height="5" fill="#c0c0c0"/>
<rect x="682" y="531" width="2" height="4" fill="#c0c0c0"/>
<rect x="684" y="531" width="2" height="4" fill="#c0c0c0"/>
<rect x="686" y="531" width="2" height="4" fill="#c0c0c0"/>
<rect x="688" y="531" width="2" height="5" fill="#c0c0c0"/>
<rect x="690" y="531" width="2" height="2" fill="#c0c0c0"/>
<rect x="692" y="530" width="2" height="1" fill="#c0c0c0"/>
<rect x="694" y="528" width="2" height="3" fill="#c0c0c0"/>
<rect x="696" y="527" width="2" height="4" fill="#c0c0c0"/>
<rect x="698" y="527" width="2" height="4" fill="#c0c0c0"/>
<rect x="700" y="528" width="2" height="3" fill="#c0c0c0"/>
<rect x="702" y="529" width="2" height="2" fill="#c0c0c0"/>
<rect x="704" y="531" width="2" height="0" fill="#c0c0c0"/>
<rect x="706" y="531" width="2" height="4" fill="#c0c0c0"/>
<rect x="708" y="531" width="2" height="6" fill="#c0c0c0"/>
<rect x="710" y="531" width="2" height="9" fill="#c0c0c0"/>
<rect x="712" y="531" width="2" height="14" fill="#c0c0c0"/>
<rect x="714" y="531" width="2" height="15" fill="#c0c0c0"/>
<rect x="716" y="531" width="2" height="16" fill="#c0c0c0"/>
<rect x="718" y="531" width="2" height="15" fill="#c0c0c0"/>
<rect x="720" y="531" width="2" height="14" fill="#c0c0c0"/>
<rect x="722" y="531" width="2" height="15" fill="#c0c0c0"/>
<rect x="724" y="531" width="2" height="14" fill="#c0c0c0"/>
<rect x="726" y="531" width="2" height="12" fill="#c0c0c0"/>
<rect x="728" y="531" width="2" height="12" fill="#c0c0c0"/>
<rect x="730" y="531" width="2" height="11" fill="#c0c0c0"/>
<rect x="732" y="531" width="2" height="11" fill="#c0c0c0"/>
<rect x="734" y="531" width="2" height="9" fill="#c0c0c0"/>
<rect x="736" y="531" width="2" height="9" fill="#c0c0c0"/>
<rect x="738" y="531" width="2" height="9" fill="#c0c0c0"/>
<rect x="740" y="531" width="2" height="9" fill="#c0c0c0"/>
<rect x="742" y="531" width="2" height="10" fill="#c0c0c0"/>
<rect x="744" y="531" width="2" height="10" fill="#c0c0c0"/>
<rect x="746" y="531" width="2" height="12" fill="#c0c0c0"/>
<rect x="748" y="531" width="2" height="14" fill="#c0c0c0"/>
<rect x="750" y="531" width="2" height="15" fill="#c0c0c0"/>
<rect x="752" y="531" width="2" height="14" fill="#c0c0c0"/>
<rect x="754" y="531" width="2" height="13" fill="#c0c0c0"/>
<rect x="756" y="531" width="2" height="10" fill="#c0c0c0"/>
<rect x="758" y="531" width="2" height="8" fill="#c0c0c0"/>
<rect x="760" y="531" width="2" height="7" fill="#c0c0c0"/>
<rect x="762" y="531" width="2" height="8" fill="#c0c0c0"/>
<rect x="764" y="531" width="2" height="10" fill="#c0c0c0"/>
<rect x="766" y="531" width="2" height="11" fill="#c0c0c0"/>
<rect x="768" y="531" width="2" height="13" fill="#c0c0c0"/>
<rect x="770" y="531" width="2" height="13" fill="#c0c0c0"/>
<rect x="772" y="531" width="2" height="14" fill="#c0c0c0"/>
<rect x="774" y="531" width="2" height="16" fill="#c0c0c0"/>
<rect x="776" y="531" width="2" height="17" fill="#c0c0c0"/>
<rect x="778" y="531" width="2" height="17" fill="#c0c0c0"/>
<rect x="780" y="531" width="2" height="17" fill="#c0c0c0"/>
<rect x="782" y="531" width="2" height="17" fill="#c0c0c0"/>
<rect x="784" y="531" width="2" height="18" fill="#c0c0c0"/>
<rect x="786" y="531" width="2" height="19" fill="#c0c0c0"/>
<rect x="788" y="531" width="2" height="19" fill="#c0c0c0"/>
<rect x="790" y="531" width="2" height="20" fill="#c0c0c0"/>
<rect x="792" y="531" width="2" height="19" fill="#c0c0c0"/>
<rect x="794" y="531" width="2" height="18" fill="#c0c0c0"/>
<rect x="796" y="531" width="2" height="15" fill="#c0c0c0"/>
<rect x="798" y="531" width="2" height="12" fill="#c0c0c0"/>
<rect x="800" y="531" width="2" height="11" fill="#c0c0c0"/>
<rect x="802" y="531" width="2" height="10" fill="#c0c0c0"/>
<rect x="804" y="531" width="2" height="7" fill="#c0c0c0"/>
<rect x="806" y="531" width="2" height="5" fill="#c0c0c0"/>
<rect x="808" y="531" width="2" height="4" fill="#c0c0c0"/>
<rect x="810" y="531" width="2" height="3" fill="#c0c0c0"/>
<rect x="812" y="531" width="2" height="2" fill="#c0c0c0"/>
<rect x="814" y="531" width="2" height="1" fill="#c0c0c0"/>
<rect x="816" y="531" width="2" height="1" fill="#c0c0c0"/>
<rect x="818" y="531" width="2" height="1" fill="#c0c0c0"/>
<rect x="820" y="531" width="2" height="2" fill="#c0c0c0"/>
<rect x="822" y="531" width="2" height="4" fill="#c0c0c0"/>
<rect x="824" y="531" width="2" height="3" fill="#c0c0c0"/>
<rect x="826" y="531" width="2" height="5" fill="#c0c0c0"/>
<rect x="828" y="531" width="2" height="5" fill="#c0c0c0"/>
<rect x="830" y="531" width="2" height="5" fill="#c0c0c0"/>
<rect x="832" y="531" width="2" height="5" fill="#c0c0c0"/>
<rect x="834" y="531" width="2" height="7" fill="#c0c0c0"/>
<rect x="836" y="531" width="2" height="12" fill="#c0c0c0"/>
<rect x="838" y="531" width="2" height="15" fill="#c0c0c0"/>
<rect x="840" y="531" width="2" height="19" fill="#c0c0c0"/>
<rect x="842" y="531" width="2" height="20" fill="#c0c0c0"/>
<rect x="844" y="531" width="2" height="22" fill="#c0c0c0"/>
<rect x="846" y="531" width="2" height="22" fill="#c0c0c0"/>
<rect x="848" y="531" width="2" height="19" fill="#c0c0c0"/>
<rect x="850" y="531" width="2" height="16" fill="#c0c0c0"/>
<rect x="852" y="531" width="2" height="14" fill="#c0c0c0"/>
<rect x="854" y="531" width="2" height="11" fill="#c0c0c0"/>
<rect x="856" y="531" width="2" height="10" fill="#c0c0c0"/>
<rect x="858" y="531" width="2" height="12" fill="#c0c0c0"/>
<rect x="860" y="531" width="2" height="14" fill="#c0c0c0"/>
<rect x="862" y="531" width="2" height="17" fill="#c0c0c0"/>
<rect x="864" y="531" width="2" height="18" fill="#c0c0c0"/>
<rect x="866" y="531" width="2" height="20" fill="#c0c0c0"/>
<rect x="868" y="531" width="2" height="19" fill="#c0c0c0"/>
<rect x="870" y="531" width="2" height="17" fill="#c0c0c0"/>
<rect x="872" y="531" width="2" height="14" fill="#c0c0c0"/>
<rect x="874" y="531" width="2" height="11" fill="#c0c0c0"/>
<rect x="876" y="531" width="2" height="10" fill="#c0c0c0"/>
<rect x="878" y="531" width="2" height="9" fill="#c0c0c0"/>
<rect x="880" y="531" width="2" height="10" fill="#c0c0c0"/>
<rect x="882" y="531" width="2" height="9" fill="#c0c0c0"/>
<rect x="884" y="531" width="2" height="9" fill="#c0c0c0"/>
<rect x="886" y="531" width="2" height="10" fill="#c0c0c0"/>
<rect x="888" y="531" width="2" height="9" fill="#c0c0c0"/>
<rect x="890" y="531" width="2" height="9" fill="#c0c0c0"/>
<rect x="892" y="531" width="2" height="7" fill="#c0c0c0"/>
<rect x="894" y="531" width="2" height="5" fill="#c0c0c0"/>
<rect x="896" y="531" width="2" height="5" fill="#c0c0c0"/>
<rect x="898" y="531" width="2" height="5" fill="#c0c0c0"/>
<rect x="900" y="531" width="2" height="5" fill="#c0c0c0"/>
<rect x="902" y="531" width="2" height="5" fill="#c0c0c0"/>
<rect x="904" y="531" width="2" height="3" fill="#c0c0c0"/>
<rect x="906" y="531" width="2" height="0" fill="#c0c0c0"/>
<rect x="908" y="531" width="2" height="0" fill="#c0c0c0"/>
<rect x="910" y="531" width="2" height="2" fill="#c0c0c0"/>
<rect x="912" y="531" width="2" height="1" fill="#c0c0c0"/>
<rect x="914" y="531" width="2" height="1" fill="#c0c0c0"/>
<rect x="916" y="531" width="2" height="0" fill="#c0c0c0"/>
<rect x="918" y="531" width="2" height="0" fill="#c0c0c0"/>
<rect x="920" y="531" width="2" height="0" fill="#c0c0c0"/>
<rect x="922" y="531" width="2" height="0" fill="#c0c0c0"/>
<rect x="924" y="531" width="2" height="0" fill="#c0c0c0"/>
<rect x="926" y="531" width="2" height="0" fill="#c0c0c0"/>
</g>
<path d="M3 530h1v1h-1zM4 530h1v1h-1zM5 530h1v1h-1zM6 530h1v1h-1zM7 530h1v1h-1zM8 529h1v1h-1zM9 529h1v1h-1zM10 529h1v1h-1zM11 529h1v1h-1zM12 529h1v1h-1zM13 529h1v1h-1zM14 529h1v1h-1zM15 529h1v1h-1zM16 529h1v1h-1zM17 529h1v1h-1zM18 529h1v1h-1zM19 529h1v1h-1zM20 529h1v1h-1zM21 530h1v1h-1zM22 530h1v1h-1zM23 531h1v1h-1zM24 532h1v1h-1zM25 532h1v1h-1zM26 533h1v1h-1zM27 534h1v1h-1zM28 535h1v1h-1zM29 535h1v1h-1zM30 536h1v1h-1zM31 537h1v1h-1zM32 538h1v1h-1zM33 538h1v1h-1zM34 539h1v1h-1zM35 540h1v1h-1zM36 540h1v1h-1zM37 541h1v1h-1zM38 541h1v1h-1zM39 542h1v1h-1zM40 542h1v1h-1zM41 542h1v1h-1zM42 543h1v1h-1zM43 543h1v1h-1zM44 543h1v1h-1zM45 543h1v1h-1zM46 543h1v1h-1zM47 544h1v1h-1zM48 544h1v1h-1zM49 545h1v1h-1zM50 545h1v1h-1zM51 546h1v1h-1zM52 546h1v1h-1zM53 547h1v1h-1zM54 548h1v1h-1zM55 548h1v1h-1zM56 549h1v1h-1zM57 550h1v1h-1zM58 551h1v1h-1zM59 552h1v2h-1zM60 553h1v2h-1zM61 555h1v1h-1zM62 556h1v1h-1zM63 557h1v1h-1zM64 558h1v1h-1zM65 559h1v1h-1zM66 560h1v1h-1zM67 561h1v1h-1zM68 561h1v1h-1zM69 562h1v1h-1zM70 562h1v1h-1zM71 562h1v1h-1zM72 562h1v1h-1zM73 563h1v1h-1zM74 563h1v1h-1zM75 563h1v1h-1zM76 562h1v1h-1zM77 562h1v1h-1zM78 562h1v1h-1zM79 562h1v1h-1zM80 561h1v1h-1zM81 561h1v1h-1zM82 561h1v1h-1zM83 560h1v1h-1zM84 560h1v1h-1zM85 559h1v1h-1zM86 559h1v1h-1zM87 559h1v1h-1zM88 559h1v1h-1zM89 558h1v1h-1zM90 558h1v1h-1zM91 558h1v1h-1zM92 557h1v1h-1zM93 557h1v1h-1zM94 557h1v1h-1zM95 556h1v1h-1zM96 556h1v1h-1zM97 555h1v1h-1zM98 555h1v1h-1zM99 555h1v1h-1zM100 554h1v1h-1zM101 554h1v1h-1zM102 553h1v1h-1zM103 552h1v1h-1zM104 552h1v1h-1zM105 551h1v1h-1zM106 550h1v1h-1zM107 549h1v1h-1zM108 549h1v1h-1zM109 548h1v1h-1zM110 547h1v1h-1zM111 546h1v1h-1zM112 545h1v1h-1zM113 544h1v1h-1zM114 543h1v1h-1zM115 543h1v1h-1zM116 542h1v1h-1zM117 541h1v1h-1zM118 540h1v1h-1zM119 539h1v1h-1zM120 538h1v1h-1zM121 537h1v1h-1zM122 537h1v1h-1zM123 536h1v1h-1zM124 535h1v1h-1zM125 535h1v1h-1zM126 534h1v1h-1zM127 533h1v1h-1zM128 532h1v1h-1zM129 531h1v1h-1zM130 530h1v1h-1zM131 529h1v1h-1zM132 527h1v2h-1zM133 526h1v2h-1zM134 524h1v2h-1zM135 523h1v2h-1zM136 521h1v2h-1zM137 520h1v2h-1zM138 518h1v2h-1zM139 516h1v3h-1zM140 515h1v2h-1zM141 513h1v2h-1zM142 511h1v3h-1zM143 509h1v3h-1zM144 508h1v2h-1zM145 506h1v2h-1zM146 505h1v2h-1zM147 503h1v2h-1zM148 502h1v2h-1zM149 501h1v1h-1zM150 500h1v1h-1zM151 499h1v1h-1zM152 498h1v1h-1zM153 497h1v1h-1zM154 496h1v1h-1zM155 495h1v1h-1zM156 494h1v1h-1zM157 493h1v1h-1zM158 493h1v1h-1zM159 492h1v1h-1zM160 492h1v1h-1zM161 492h1v1h-1zM162 492h1v1h-1zM163 492h1v1h-1zM164 492h1v1h-1zM165 492h1v1h-1zM166 492h1v1h-1zM167 492h1v1h-1zM168 493h1v1h-1zM169 493h1v1h-1zM170 494h1v1h-1zM171 495h1v1h-1zM172 495h1v1h-1zM173 496h1v1h-1zM174 497h1v1h-1zM175 497h1v1h-1zM176 498h1v1h-1zM177 499h1v1h-1zM178 500h1v1h-1zM179 500h1v1h-1zM180 501h1v1h-1zM181 502h1v1h-1zM182 502h1v1h-1zM183 503h1v1h-1zM184 504h1v1h-1zM185 504h1v1h-1zM186 505h1v1h-1zM187 506h1v1h-1zM188 507h1v1h-1zM189 508h1v2h-1zM190 509h1v2h-1zM191 511h1v2h-1zM192 512h1v2h-1zM193 514h1v2h-1zM194 515h1v2h-1zM195 517h1v2h-1zM196 518h1v3h-1zM197 520h1v3h-1zM198 522h1v3h-1zM199 524h1v3h-1zM200 526h1v3h-1zM201 528h1v3h-1zM202 530h1v3h-1zM203 532h1v3h-1zM204 534h1v3h-1zM205 536h1v3h-1zM206 538h1v3h-1zM207 540h1v2h-1zM208 542h1v1h-1zM209 543h1v2h-1zM210 544h1v2h-1zM211 546h1v1h-1zM212 547h1v1h-1zM213 547h1v1h-1zM214 548h1v1h-1zM215 549h1v1h-1zM216 549h1v1h-1zM217 549h1v1h-1zM218 549h1v1h-1zM219 549h1v1h-1zM220 549h1v1h-1zM221 549h1v1h-1zM222 549h1v1h-1zM223 549h1v1h-1zM224 548h1v1h-1zM225 547h1v1h-1zM226 547h1v1h-1zM227 546h1v1h-1zM228 545h1v1h-1zM229 544h1v1h-1zM230 543h1v1h-1zM231 542h1v1h-1zM232 541h1v1h-1zM233 539h1v2h-1zM234 538h1v2h-1zM235 537h1v1h-1zM236 536h1v1h-1zM237 535h1v1h-1zM238 534h1v1h-1zM239 533h1v1h-1zM240 532h1v1h-1zM241 531h1v1h-1zM242 530h1v1h-1zM243 530h1v1h-1zM244 529h1v1h-1zM245 528h1v1h-1zM246 528h1v1h-1zM247 528h1v1h-1zM248 527h1v1h-1zM249 527h1v1h-1zM250 527h1v1h-1zM251 527h1v1h-1zM252 527h1v1h-1zM253 527h1v1h-1zM254 527h1v1h-1zM255 527h1v1h-1zM256 527h1v1h-1zM257 527h1v1h-1zM258 528h1v1h-1zM259 528h1v1h-1zM260 529h1v1h-1zM261 529h1v1h-1zM262 530h1v1h-1zM263 530h1v1h-1zM264 531h1v1h-1zM265 532h1v1h-1zM266 532h1v1h-1zM267 533h1v1h-1zM268 534h1v1h-1zM269 535h1v1h-1zM270 536h1v1h-1zM271 536h1v1h-1zM272 537h1v1h-1zM273 538h1v1h-1zM274 539h1v1h-1zM275 540h1v1h-1zM276 540h1v1h-1zM277 541h1v1h-1zM278 541h1v1h-1zM279 542h1v1h-1zM280 542h1v1h-1zM281 542h1v1h-1zM282 542h1v1h-1zM283 542h1v1h-1zM284 542h1v1h-1zM285 542h1v1h-1zM286 542h1v1h-1zM287 542h1v1h-1zM288 541h1v1h-1zM289 541h1v1h-1zM290 541h1v1h-1zM291 540h1v1h-1zM292 540h1v1h-1zM293 539h1v1h-1zM294 538h1v1h-1zM295 538h1v1h-1zM296 537h1v1h-1zM297 536h1v1h-1zM298 535h1v1h-1zM299 534h1v1h-1zM300 534h1v1h-1zM301 533h1v1h-1zM302 532h1v1h-1zM303 531h1v1h-1zM304 530h1v1h-1zM305 529h1v1h-1zM306 529h1v1h-1zM307 528h1v1h-1zM308 527h1v1h-1zM309 527h1v1h-1zM310 527h1v1h-1zM311 527h1v1h-1zM312 527h1v1h-1zM313 527h1v1h-1zM314 528h1v1h-1zM315 528h1v1h-1zM316 529h1v1h-1zM317 530h1v1h-1zM318 530h1v1h-1zM319 531h1v1h-1zM320 531h1v1h-1zM321 531h1v1h-1zM322 532h1v1h-1zM323 532h1v1h-1zM324 532h1v1h-1zM325 532h1v1h-1zM326 533h1v1h-1zM327 533h1v1h-1zM328 533h1v1h-1zM329 533h1v1h-1zM330 532h1v1h-1zM331 532h1v1h-1zM332 532h1v1h-1zM333 532h1v1h-1zM334 531h1v1h-1zM335 531h1v1h-1zM336 531h1v1h-1zM337 531h1v1h-1zM338 531h1v1h-1zM339 530h1v1h-1zM340 530h1v1h-1zM341 530h1v1h-1zM342 530h1v1h-1zM343 530h1v1h-1zM344 530h1v1h-1zM345 530h1v1h-1zM346 530h1v1h-1zM347 530h1v1h-1zM348 530h1v1h-1zM349 530h1v1h-1zM350 530h1v1h-1zM351 530h1v1h-1zM352 530h1v1h-1zM353 529h1v1h-1zM354 529h1v1h-1zM355 530h1v1h-1zM356 530h1v1h-1zM357 530h1v1h-1zM358 530h1v1h-1zM359 530h1v1h-1zM360 530h1v1h-1zM361 531h1v1h-1zM362 531h1v1h-1zM363 531h1v1h-1zM364 531h1v1h-1zM365 531h1v1h-1zM366 532h1v1h-1zM367 532h1v1h-1zM368 532h1v1h-1zM369 532h1v1h-1zM370 533h1v1h-1zM371 533h1v1h-1zM372 533h1v1h-1zM373 534h1v1h-1zM374 534h1v1h-1zM375 534h1v1h-1zM376 534h1v1h-1zM377 535h1v1h-1zM378 535h1v1h-1zM379 535h1v1h-1zM380 534h1v1h-1zM381 534h1v1h-1zM382 534h1v1h-1zM383 534h1v1h-1zM384 534h1v1h-1zM385 534h1v1h-1zM386 533h1v1h-1zM387 533h1v1h-1zM388 533h1v1h-1zM389 533h1v1h-1zM390 533h1v1h-1zM391 532h1v1h-1zM392 532h1v1h-1zM393 532h1v1h-1zM394 531h1v1h-1zM395 531h1v1h-1zM396 530h1v1h-1zM397 530h1v1h-1zM398 529h1v1h-1zM399 529h1v1h-1zM400 528h1v1h-1zM401 527h1v1h-1zM402 526h1v1h-1zM403 525h1v1h-1zM404 524h1v1h-1zM405 523h1v1h-1zM406 522h1v1h-1zM407 521h1v1h-1zM408 520h1v1h-1zM409 519h1v1h-1zM410 518h1v1h-1zM411 517h1v1h-1zM412 516h1v1h-1zM413 516h1v1h-1zM414 515h1v1h-1zM415 515h1v1h-1zM416 515h1v1h-1zM417 515h1v1h-1zM418 515h1v1h-1zM419 516h1v1h-1zM420 516h1v1h-1zM421 517h1v1h-1zM422 518h1v1h-1zM423 518h1v1h-1zM424 519h1v1h-1zM425 520h1v1h-1zM426 521h1v1h-1zM427 522h1v1h-1zM428 523h1v1h-1zM429 524h1v1h-1zM430 525h1v1h-1zM431 526h1v1h-1zM432 527h1v1h-1zM433 527h1v1h-1zM434 528h1v1h-1zM435 528h1v1h-1zM436 528h1v1h-1zM437 528h1v1h-1zM438 528h1v1h-1zM439 528h1v1h-1zM440 527h1v1h-1zM441 527h1v1h-1zM442 526h1v1h-1zM443 526h1v1h-1zM444 525h1v1h-1zM445 524h1v1h-1zM446 524h1v1h-1zM447 523h1v1h-1zM448 523h1v1h-1zM449 522h1v1h-1zM450 522h1v1h-1zM451 521h1v1h-1zM452 521h1v1h-1zM453 521h1v1h-1zM454 521h1v1h-1zM455 521h1v1h-1zM456 521h1v1h-1zM457 521h1v1h-1zM458 521h1v1h-1zM459 521h1v1h-1zM460 522h1v1h-1zM461 522h1v1h-1zM462 523h1v1h-1zM463 523h1v1h-1zM464 524h1v1h-1zM465 525h1v1h-1zM466 525h1v1h-1zM467 526h1v1h-1zM468 526h1v1h-1zM469 527h1v1h-1zM470 527h1v1h-1zM471 527h1v1h-1zM472 527h1v1h-1zM473 528h1v1h-1zM474 527h1v1h-1zM475 527h1v1h-1zM476 527h1v1h-1zM477 526h1v1h-1zM478 526h1v1h-1zM479 525h1v1h-1zM480 524h1v1h-1zM481 523h1v1h-1zM482 522h1v1h-1zM483 521h1v1h-1zM484 520h1v1h-1zM485 519h1v1h-1zM486 518h1v1h-1zM487 516h1v2h-1zM488 515h1v2h-1zM489 513h1v2h-1zM490 512h1v2h-1zM491 511h1v1h-1zM492 509h1v2h-1zM493 508h1v2h-1zM494 507h1v1h-1zM495 506h1v1h-1zM496 505h1v1h-1zM497 504h1v1h-1zM498 503h1v1h-1zM499 503h1v1h-1zM500 502h1v1h-1zM501 502h1v1h-1zM502 501h1v1h-1zM503 501h1v1h-1zM504 501h1v1h-1zM505 502h1v1h-1zM506 502h1v1h-1zM507 502h1v1h-1zM508 503h1v1h-1zM509 504h1v1h-1zM510 505h1v1h-1zM511 506h1v2h-1zM512 507h1v3h-1zM513 509h1v2h-1zM514 511h1v2h-1zM515 512h1v2h-1zM516 514h1v2h-1zM517 515h1v3h-1zM518 517h1v2h-1zM519 519h1v2h-1zM520 520h1v2h-1zM521 522h1v2h-1zM522 523h1v2h-1zM523 525h1v2h-1zM524 526h1v2h-1zM525 528h1v1h-1zM526 529h1v1h-1zM527 530h1v1h-1zM528 531h1v1h-1zM529 532h1v1h-1zM530 532h1v1h-1zM531 533h1v1h-1zM532 533h1v1h-1zM533 533h1v1h-1zM534 534h1v1h-1zM535 534h1v1h-1zM536 534h1v1h-1zM537 535h1v1h-1zM538 535h1v1h-1zM539 535h1v1h-1zM540 535h1v1h-1zM541 534h1v1h-1zM542 534h1v1h-1zM543 534h1v1h-1zM544 534h1v1h-1zM545 534h1v1h-1zM546 534h1v1h-1zM547 534h1v1h-1zM548 534h1v1h-1zM549 535h1v1h-1zM550 535h1v1h-1zM551 535h1v1h-1zM552 534h1v1h-1zM553 534h1v1h-1zM554 534h1v1h-1zM555 534h1v1h-1zM556 534h1v1h-1zM557 533h1v1h-1zM558 533h1v1h-1zM559 533h1v1h-1zM560 533h1v1h-1zM561 532h1v1h-1zM562 532h1v1h-1zM563 532h1v1h-1zM564 531h1v1h-1zM565 531h1v1h-1zM566 530h1v1h-1zM567 530h1v1h-1zM568 529h1v1h-1zM569 529h1v1h-1zM570 528h1v1h-1zM571 527h1v1h-1zM572 527h1v1h-1zM573 526h1v1h-1zM574 526h1v1h-1zM575 525h1v1h-1zM576 525h1v1h-1zM577 524h1v1h-1zM578 524h1v1h-1zM579 523h1v1h-1zM580 523h1v1h-1zM581 522h1v1h-1zM582 521h1v1h-1zM583 521h1v1h-1zM584 520h1v1h-1zM585 520h1v1h-1zM586 519h1v1h-1zM587 518h1v1h-1zM588 518h1v1h-1zM589 517h1v1h-1zM590 516h1v1h-1zM591 516h1v1h-1zM592 515h1v1h-1zM593 514h1v1h-1zM594 513h1v1h-1zM595 512h1v1h-1zM596 512h1v1h-1zM597 511h1v1h-1zM598 510h1v1h-1zM599 510h1v1h-1zM600 509h1v1h-1zM601 509h1v1h-1zM602 509h1v1h-1zM603 508h1v1h-1zM604 508h1v1h-1zM605 509h1v1h-1zM606 509h1v1h-1zM607 509h1v1h-1zM608 510h1v1h-1zM609 511h1v1h-1zM610 511h1v1h-1zM611 512h1v1h-1zM612 513h1v1h-1zM613 514h1v1h-1zM614 515h1v1h-1zM615 516h1v1h-1zM616 517h1v1h-1zM617 518h1v2h-1zM618 519h1v2h-1zM619 521h1v1h-1zM620 522h1v2h-1zM621 523h1v2h-1zM622 525h1v2h-1zM623 526h1v2h-1zM624 528h1v2h-1zM625 529h1v2h-1zM626 531h1v1h-1zM627 532h1v2h-1zM628 533h1v2h-1zM629 535h1v1h-1zM630 536h1v1h-1zM631 537h1v1h-1zM632 538h1v1h-1zM633 539h1v1h-1zM634 540h1v1h-1zM635 540h1v1h-1zM636 541h1v1h-1zM637 541h1v1h-1zM638 541h1v1h-1zM639 541h1v1h-1zM640 541h1v1h-1zM641 540h1v1h-1zM642 540h1v1h-1zM643 539h1v1h-1zM644 539h1v1h-1zM645 538h1v1h-1zM646 538h1v1h-1zM647 537h1v1h-1zM648 537h1v1h-1zM649 537h1v1h-1zM650 536h1v1h-1zM651 536h1v1h-1zM652 535h1v1h-1zM653 535h1v1h-1zM654 535h1v1h-1zM655 535h1v1h-1zM656 535h1v1h-1zM657 535h1v1h-1zM658 535h1v1h-1zM659 535h1v1h-1zM660 535h1v1h-1zM661 535h1v1h-1zM662 535h1v1h-1zM663 535h1v1h-1zM664 534h1v1h-1zM665 534h1v1h-1zM666 534h1v1h-1zM667 534h1v1h-1zM668 534h1v1h-1zM669 534h1v1h-1zM670 534h1v1h-1zM671 534h1v1h-1zM672 534h1v1h-1zM673 533h1v1h-1zM674 533h1v1h-1zM675 533h1v1h-1zM676 533h1v1h-1zM677 533h1v1h-1zM678 534h1v1h-1zM679 534h1v1h-1zM680 534h1v1h-1zM681 534h1v1h-1zM682 535h1v1h-1zM683 535h1v1h-1zM684 535h1v1h-1zM685 535h1v1h-1zM686 535h1v1h-1zM687 535h1v1h-1zM688 535h1v1h-1zM689 535h1v1h-1zM690 535h1v1h-1zM691 535h1v1h-1zM692 535h1v1h-1zM693 535h1v1h-1zM694 534h1v1h-1zM695 534h1v1h-1zM696 533h1v1h-1zM697 533h1v1h-1zM698 532h1v1h-1zM699 532h1v1h-1zM700 531h1v1h-1zM701 531h1v1h-1zM702 530h1v1h-1zM703 530h1v1h-1zM704 530h1v1h-1zM705 530h1v1h-1zM706 530h1v1h-1zM707 530h1v1h-1zM708 530h1v1h-1zM709 530h1v1h-1zM710 531h1v1h-1zM711 531h1v1h-1zM712 532h1v1h-1zM713 533h1v1h-1zM714 534h1v1h-1zM715 535h1v1h-1zM716 536h1v1h-1zM717 537h1v2h-1zM718 538h1v2h-1zM719 540h1v1h-1zM720 540h1v1h-1zM721 541h1v1h-1zM722 542h1v1h-1zM723 543h1v1h-1zM724 544h1v1h-1zM725 544h1v1h-1zM726 544h1v1h-1zM727 545h1v1h-1zM728 545h1v1h-1zM729 545h1v1h-1zM730 545h1v1h-1zM731 545h1v1h-1zM732 545h1v1h-1zM733 544h1v1h-1zM734 544h1v1h-1zM735 544h1v1h-1zM736 543h1v1h-1zM737 543h1v1h-1zM738 543h1v1h-1zM739 542h1v1h-1zM740 542h1v1h-1zM741 542h1v1h-1zM742 542h1v1h-1zM743 541h1v1h-1zM744 541h1v1h-1zM745 541h1v1h-1zM746 541h1v1h-1zM747 541h1v1h-1zM748 541h1v1h-1zM749 541h1v1h-1zM750 542h1v1h-1zM751 542h1v1h-1zM752 542h1v1h-1zM753 542h1v1h-1zM754 543h1v1h-1zM755 543h1v1h-1zM756 543h1v1h-1zM757 543h1v1h-1zM758 543h1v1h-1zM759 543h1v1h-1zM760 543h1v1h-1zM761 543h1v1h-1zM762 542h1v1h-1zM763 542h1v1h-1zM764 542h1v1h-1zM765 542h1v1h-1zM766 542h1v1h-1zM767 542h1v1h-1zM768 542h1v1h-1zM769 541h1v1h-1zM770 541h1v1h-1zM771 541h1v1h-1zM772 541h1v1h-1zM773 541h1v1h-1zM774 542h1v1h-1zM775 542h1v1h-1zM776 543h1v1h-1zM777 543h1v1h-1zM778 544h1v1h-1zM779 544h1v1h-1zM780 545h1v1h-1zM781 545h1v1h-1zM782 546h1v1h-1zM783 546h1v1h-1zM784 546h1v1h-1zM785 547h1v1h-1zM786 547h1v1h-1zM787 547h1v1h-1zM788 548h1v1h-1zM789 548h1v1h-1zM790 548h1v1h-1zM791 549h1v1h-1zM792 549h1v1h-1zM793 549h1v1h-1zM794 549h1v1h-1zM795 549h1v1h-1zM796 549h1v1h-1zM797 549h1v1h-1zM798 549h1v1h-1zM799 548h1v1h-1zM800 548h1v1h-1zM801 548h1v1h-1zM802 547h1v1h-1zM803 547h1v1h-1zM804 546h1v1h-1zM805 545h1v1h-1zM806 545h1v1h-1zM807 544h1v1h-1zM808 543h1v1h-1zM809 542h1v1h-1zM810 541h1v1h-1zM811 540h1v1h-1zM812 540h1v1h-1zM813 539h1v1h-1zM814 538h1v1h-1zM815 537h1v1h-1zM816 537h1v1h-1zM817 536h1v1h-1zM818 535h1v1h-1zM819 535h1v1h-1zM820 534h1v1h-1zM821 534h1v1h-1zM822 534h1v1h-1zM823 534h1v1h-1zM824 534h1v1h-1zM825 533h1v1h-1zM826 533h1v1h-1zM827 533h1v1h-1zM828 534h1v1h-1zM829 534h1v1h-1zM830 534h1v1h-1zM831 534h1v1h-1zM832 534h1v1h-1zM833 534h1v1h-1zM834 535h1v1h-1zM835 535h1v1h-1zM836 536h1v1h-1zM837 536h1v1h-1zM838 537h1v1h-1zM839 538h1v1h-1zM840 539h1v1h-1zM841 539h1v1h-1zM842 540h1v1h-1zM843 541h1v1h-1zM844 542h1v1h-1zM845 543h1v1h-1zM846 544h1v1h-1zM847 545h1v1h-1zM848 546h1v1h-1zM849 547h1v1h-1zM850 547h1v1h-1zM851 548h1v1h-1zM852 548h1v1h-1zM853 549h1v1h-1zM854 549h1v1h-1zM855 549h1v1h-1zM856 548h1v1h-1zM857 548h1v1h-1zM858 548h1v1h-1zM859 547h1v1h-1zM860 547h1v1h-1zM861 547h1v1h-1zM862 546h1v1h-1zM863 546h1v1h-1zM864 546h1v1h-1zM865 546h1v1h-1zM866 546h1v1h-1zM867 546h1v1h-1zM868 546h1v1h-1zM869 546h1v1h-1zM870 546h1v1h-1zM871 546h1v1h-1zM872 546h1v1h-1zM873 547h1v1h-1zM874 547h1v1h-1zM875 547h1v1h-1zM876 547h1v1h-1zM877 547h1v1h-1zM878 546h1v1h-1zM879 546h1v1h-1zM880 546h1v1h-1zM881 545h1v1h-1zM882 545h1v1h-1zM883 544h1v1h-1zM884 543h1v1h-1zM885 543h1v1h-1zM886 542h1v1h-1zM887 542h1v1h-1zM888 541h1v1h-1zM889 541h1v1h-1zM890 541h1v1h-1zM891 540h1v1h-1zM892 540h1v1h-1zM893 540h1v1h-1zM894 540h1v1h-1zM895 539h1v1h-1zM896 539h1v1h-1zM897 539h1v1h-1zM898 539h1v1h-1zM899 539h1v1h-1zM900 538h1v1h-1zM901 538h1v1h-1zM902 538h1v1h-1zM903 538h1v1h-1zM904 537h1v1h-1zM905 537h1v1h-1zM906 537h1v1h-1zM907 536h1v1h-1zM908 536h1v1h-1zM909 535h1v1h-1zM910 535h1v1h-1zM911 535h1v1h-1zM912 534h1v1h-1zM913 534h1v1h-1zM914 534h1v1h-1zM915 534h1v1h-1zM916 533h1v1h-1zM917 533h1v1h-1zM918 533h1v1h-1zM919 532h1v1h-1zM920 532h1v1h-1zM921 532h1v1h-1zM922 532h1v1h-1zM923 531h1v1h-1zM924 531h1v1h-1zM925 531h1v1h-1zM926 531h1v1h-1zM927 531h1v1h-1z" fill="#ff0000" shape-rendering="crispEdges"/>
<g shape-rendering="crispEdges">
<line x1="3" y1="597.5" x2="1165" y2="597.5" stroke="#c0c0c0" stroke-dasharray="3,3"/>
<line x1="3" y1="632.5" x2="1165" y2="632.5" stroke="#c0c0c0" stroke-dasharray="3,3"/>
</g>
<path d="M3 605h1v2h-1zM4 603h1v3h-1zM5 601h1v2h-1zM6 603h1v3h-1zM7 606h1v2h-1zM8 604h1v3h-1zM9 602h1v4h-1zM10 605h1v6h-1zM11 611h1v3h-1zM12 614h1v1h-1zM13 615h1v2h-1zM14 616h1v3h-1zM15 619h1v3h-1zM16 622h1v3h-1zM17 625h1v2h-1zM18 627h1v2h-1zM19 628h1v2h-1zM20 630h1v2h-1zM21 631h1v2h-1zM22 633h1v1h-1zM23 633h1v1h-1zM24 633h1v1h-1zM25 631h1v3h-1zM26 628h1v4h-1zM27 623h1v5h-1zM28 618h1v6h-1zM29 615h1v4h-1zM30 618h1v7h-1zM31 624h1v4h-1zM32 628h1v1h-1zM33 628h1v2h-1zM34 626h1v3h-1zM35 625h1v2h-1zM36 624h1v1h-1zM37 623h1v1h-1zM38 623h1v1h-1zM39 622h1v2h-1zM40 624h1v3h-1zM41 625h1v3h-1zM42 619h1v6h-1zM43 616h1v4h-1zM44 618h1v4h-1zM45 622h1v3h-1zM46 625h1v3h-1zM47 628h1v2h-1zM48 630h1v1h-1zM49 631h1v1h-1zM50 632h1v1h-1zM51 633h1v1h-1zM52 633h1v1h-1zM53 634h1v1h-1zM54 635h1v1h-1zM55 635h1v1h-1zM56 636h1v1h-1zM57 637h1v1h-1zM58 637h1v1h-1zM59 637h1v1h-1zM60 637h1v1h-1zM61 636h1v2h-1zM62 633h1v3h-1zM63 631h1v2h-1zM64 632h1v3h-1zM65 633h1v3h-1zM66 629h1v5h-1zM67 626h1v3h-1zM68 626h1v1h-1zM69 626h1v1h-1zM70 627h1v2h-1zM71 628h1v2h-1zM72 628h1v1h-1zM73 627h1v1h-1zM74 628h1v2h-1zM75 629h1v2h-1zM76 630h1v1h-1zM77 630h1v1h-1zM78 628h1v2h-1zM79 627h1v2h-1zM80 628h1v1h-1zM81 628h1v1h-1zM82 627h1v1h-1zM83 626h1v2h-1zM84 627h1v3h-1zM85 629h1v2h-1zM86 629h1v1h-1zM87 628h1v1h-1zM88 629h1v1h-1zM89 629h1v2h-1zM90 627h1v3h-1zM91 626h1v2h-1zM92 627h1v1h-1zM93 628h1v1h-1zM94 627h1v1h-1zM95 625h1v2h-1zM96 622h1v3h-1zM97 620h1v3h-1zM98 622h1v5h-1zM99 625h1v4h-1zM100 618h1v7h-1zM101 615h1v4h-1zM102 614h1v1h-1zM103 613h1v1h-1zM104 613h1v1h-1zM105 614h1v2h-1zM106 615h1v2h-1zM107 616h1v2h-1zM108 614h1v3h-1zM109 613h1v2h-1zM110 614h1v3h-1zM111 616h1v2h-1zM112 616h1v1h-1zM113 615h1v1h-1zM114 615h1v1h-1zM115 615h1v2h-1zM116 613h1v3h-1zM117 612h1v2h-1zM118 611h1v1h-1zM119 611h1v1h-1zM120 611h1v1h-1zM121 611h1v1h-1zM122 611h1v1h-1zM123 611h1v1h-1zM124 610h1v1h-1zM125 608h1v3h-1zM126 604h1v5h-1zM127 600h1v4h-1zM128 598h1v3h-1zM129 596h1v2h-1zM130 596h1v1h-1zM131 596h1v1h-1zM132 595h1v1h-1zM133 594h1v1h-1zM134 595h1v1h-1zM135 596h1v1h-1zM136 595h1v1h-1zM137 594h1v1h-1zM138 592h1v2h-1zM139 591h1v2h-1zM140 591h1v1h-1zM141 591h1v1h-1zM142 590h1v1h-1zM143 590h1v1h-1zM144 589h1v1h-1zM145 589h1v2h-1zM146 590h1v3h-1zM147 592h1v2h-1zM148 591h1v2h-1zM149 590h1v2h-1zM150 590h1v1h-1zM151 589h1v1h-1zM152 588h1v1h-1zM153 588h1v2h-1zM154 589h1v2h-1zM155 591h1v1h-1zM156 591h1v1h-1zM157 591h1v3h-1zM158 593h1v5h-1zM159 597h1v3h-1zM160 596h1v3h-1zM161 595h1v3h-1zM162 597h1v5h-1zM163 602h1v3h-1zM164 603h1v1h-1zM165 602h1v1h-1zM166 602h1v1h-1zM167 602h1v1h-1zM168 603h1v1h-1zM169 604h1v1h-1zM170 603h1v1h-1zM171 602h1v1h-1zM172 601h1v1h-1zM173 601h1v1h-1zM174 601h1v1h-1zM175 600h1v1h-1zM176 601h1v1h-1zM177 602h1v1h-1zM178 601h1v1h-1zM179 600h1v2h-1zM180 601h1v3h-1zM181 603h1v2h-1zM182 603h1v1h-1zM183 603h1v4h-1zM184 606h1v7h-1zM185 612h1v4h-1zM186 616h1v1h-1zM187 617h1v3h-1zM188 619h1v4h-1zM189 623h1v3h-1zM190 625h1v2h-1zM191 627h1v1h-1zM192 627h1v1h-1zM193 626h1v2h-1zM194 624h1v3h-1zM195 623h1v2h-1zM196 625h1v3h-1zM197 628h1v2h-1zM198 630h1v2h-1zM199 631h1v2h-1zM200 631h1v1h-1zM201 630h1v1h-1zM202 630h1v1h-1zM203 629h1v2h-1zM204 628h1v2h-1zM205 627h1v1h-1zM206 626h1v1h-1zM207 625h1v2h-1zM208 627h1v3h-1zM209 629h1v3h-1zM210 626h1v4h-1zM211 623h1v3h-1zM212 620h1v3h-1zM213 618h1v2h-1zM214 618h1v1h-1zM215 618h1v2h-1zM216 620h1v3h-1zM217 623h1v2h-1zM218 619h1v4h-1zM219 617h1v3h-1zM220 618h1v2h-1zM221 619h1v2h-1zM222 616h1v3h-1zM223 613h1v3h-1zM224 610h1v3h-1zM225 608h1v2h-1zM226 610h1v4h-1zM227 613h1v3h-1zM228 611h1v3h-1zM229 609h1v2h-1zM230 608h1v1h-1zM231 607h1v3h-1zM232 609h1v5h-1zM233 613h1v3h-1zM234 613h1v2h-1zM235 612h1v1h-1zM236 612h1v1h-1zM237 611h1v1h-1zM238 611h1v1h-1zM239 611h1v1h-1zM240 612h1v2h-1zM241 613h1v2h-1zM242 615h1v1h-1zM243 615h1v1h-1zM244 613h1v2h-1zM245 612h1v2h-1zM246 613h1v2h-1zM247 614h1v2h-1zM248 613h1v2h-1zM249 612h1v1h-1zM250 613h1v1h-1zM251 613h1v1h-1zM252 614h1v2h-1zM253 615h1v2h-1zM254 615h1v1h-1zM255 614h1v2h-1zM256 615h1v3h-1zM257 618h1v2h-1zM258 620h1v1h-1zM259 621h1v1h-1zM260 620h1v1h-1zM261 620h1v1h-1zM262 621h1v2h-1zM263 622h1v2h-1zM264 622h1v1h-1zM265 621h1v1h-1zM266 621h1v1h-1zM267 620h1v2h-1zM268 621h1v2h-1zM269 623h1v1h-1zM270 624h1v1h-1zM271 624h1v1h-1zM272 624h1v1h-1zM273 622h1v2h-1zM274 619h1v3h-1zM275 618h1v2h-1zM276 618h1v1h-1zM277 618h1v1h-1zM278 619h1v1h-1zM279 619h1v1h-1zM280 619h1v1h-1zM281 617h1v3h-1zM282 614h1v4h-1zM283 612h1v2h-1zM284 614h1v3h-1zM285 617h1v2h-1zM286 618h1v1h-1zM287 618h1v1h-1zM288 617h1v1h-1zM289 617h1v1h-1zM290 616h1v1h-1zM291 613h1v3h-1zM292 610h1v4h-1zM293 607h1v3h-1zM294 606h1v2h-1zM295 605h1v1h-1zM296 606h1v2h-1zM297 607h1v2h-1zM298 606h1v2h-1zM299 605h1v2h-1zM300 606h1v3h-1zM301 608h1v2h-1zM302 610h1v2h-1zM303 611h1v2h-1zM304 609h1v3h-1zM305 608h1v2h-1zM306 610h1v3h-1zM307 612h1v4h-1zM308 615h1v5h-1zM309 619h1v4h-1zM310 622h1v3h-1zM311 624h1v2h-1zM312 625h1v1h-1zM313 625h1v2h-1zM314 623h1v3h-1zM315 620h1v3h-1zM316 616h1v4h-1zM317 613h1v4h-1zM318 610h1v3h-1zM319 609h1v2h-1zM320 610h1v1h-1zM321 610h1v1h-1zM322 611h1v1h-1zM323 611h1v1h-1zM324 612h1v1h-1zM325 612h1v2h-1zM326 613h1v3h-1zM327 615h1v2h-1zM328 617h1v1h-1zM329 617h1v2h-1zM330 619h1v3h-1zM331 620h1v3h-1zM332 615h1v5h-1zM333 612h1v3h-1zM334 613h1v1h-1zM335 614h1v1h-1zM336 612h1v2h-1zM337 611h1v2h-1zM338 609h1v2h-1zM339 608h1v2h-1zM340 610h1v3h-1zM341 612h1v2h-1zM342 614h1v1h-1zM343 615h1v1h-1zM344 616h1v1h-1zM345 617h1v1h-1zM346 616h1v1h-1zM347 615h1v1h-1zM348 615h1v1h-1zM349 615h1v1h-1zM350 616h1v1h-1zM351 616h1v1h-1zM352 614h1v2h-1zM353 613h1v2h-1zM354 614h1v1h-1zM355 615h1v1h-1zM356 614h1v1h-1zM357 613h1v2h-1zM358 614h1v2h-1zM359 616h1v2h-1zM360 617h1v2h-1zM361 619h1v1h-1zM362 619h1v1h-1zM363 619h1v1h-1zM364 618h1v1h-1zM365 617h1v2h-1zM366 618h1v3h-1zM367 621h1v2h-1zM368 618h1v3h-1zM369 616h1v2h-1zM370 617h1v3h-1zM371 619h1v2h-1zM372 616h1v3h-1zM373 615h1v2h-1zM374 615h1v1h-1zM375 615h1v1h-1zM376 613h1v2h-1zM377 612h1v2h-1zM378 612h1v1h-1zM379 611h1v1h-1zM380 612h1v1h-1zM381 612h1v1h-1zM382 613h1v1h-1zM383 614h1v2h-1zM384 615h1v3h-1zM385 617h1v2h-1zM386 616h1v2h-1zM387 615h1v2h-1zM388 616h1v2h-1zM389 617h1v2h-1zM390 613h1v4h-1zM391 610h1v4h-1zM392 607h1v3h-1zM393 605h1v3h-1zM394 604h1v2h-1zM395 603h1v1h-1zM396 604h1v2h-1zM397 605h1v2h-1zM398 604h1v2h-1zM399 603h1v2h-1zM400 602h1v1h-1zM401 601h1v2h-1zM402 600h1v2h-1zM403 599h1v1h-1zM404 599h1v1h-1zM405 598h1v2h-1zM406 600h1v3h-1zM407 603h1v2h-1zM408 603h1v1h-1zM409 602h1v2h-1zM410 604h1v3h-1zM411 607h1v2h-1zM412 609h1v1h-1zM413 610h1v2h-1zM414 612h1v3h-1zM415 615h1v2h-1zM416 617h1v1h-1zM417 618h1v1h-1zM418 618h1v1h-1zM419 619h1v1h-1zM420 619h1v1h-1zM421 619h1v1h-1zM422 619h1v1h-1zM423 619h1v1h-1zM424 620h1v2h-1zM425 620h1v3h-1zM426 615h1v5h-1zM427 613h1v3h-1zM428 613h1v1h-1zM429 613h1v1h-1zM430 613h1v1h-1zM431 613h1v2h-1zM432 612h1v2h-1zM433 610h1v2h-1zM434 609h1v2h-1zM435 606h1v3h-1zM436 603h1v4h-1zM437 601h1v2h-1zM438 603h1v3h-1zM439 606h1v2h-1zM440 607h1v1h-1zM441 606h1v2h-1zM442 605h1v2h-1zM443 604h1v1h-1zM444 605h1v2h-1zM445 606h1v2h-1zM446 607h1v1h-1zM447 606h1v2h-1zM448 607h1v3h-1zM449 609h1v3h-1zM450 612h1v3h-1zM451 615h1v2h-1zM452 614h1v2h-1zM453 613h1v1h-1zM454 613h1v1h-1zM455 614h1v1h-1zM456 615h1v1h-1zM457 615h1v2h-1zM458 613h1v3h-1zM459 612h1v3h-1zM460 614h1v5h-1zM461 618h1v3h-1zM462 618h1v2h-1zM463 616h1v2h-1zM464 615h1v2h-1zM465 614h1v1h-1zM466 613h1v1h-1zM467 612h1v2h-1zM468 613h1v2h-1zM469 614h1v2h-1zM470 613h1v2h-1zM471 610h1v3h-1zM472 606h1v5h-1zM473 603h1v4h-1zM474 601h1v3h-1zM475 600h1v2h-1zM476 601h1v3h-1zM477 603h1v2h-1zM478 602h1v2h-1zM479 601h1v2h-1zM480 601h1v1h-1zM481 601h1v1h-1zM482 601h1v1h-1zM483 601h1v1h-1zM484 600h1v1h-1zM485 600h1v1h-1zM486 598h1v2h-1zM487 596h1v3h-1zM488 595h1v2h-1zM489 594h1v1h-1zM490 593h1v1h-1zM491 593h1v1h-1zM492 592h1v1h-1zM493 591h1v2h-1zM494 593h1v3h-1zM495 595h1v3h-1zM496 597h1v3h-1zM497 599h1v3h-1zM498 602h1v3h-1zM499 604h1v3h-1zM500 607h1v3h-1zM501 610h1v2h-1zM502 611h1v1h-1zM503 611h1v1h-1zM504 611h1v1h-1zM505 611h1v1h-1zM506 611h1v1h-1zM507 610h1v3h-1zM508 612h1v4h-1zM509 616h1v3h-1zM510 618h1v3h-1zM511 621h1v2h-1zM512 622h1v1h-1zM513 622h1v2h-1zM514 620h1v3h-1zM515 619h1v2h-1zM516 618h1v1h-1zM517 618h1v2h-1zM518 619h1v3h-1zM519 621h1v2h-1zM520 622h1v1h-1zM521 623h1v1h-1zM522 624h1v1h-1zM523 623h1v2h-1zM524 620h1v3h-1zM525 617h1v4h-1zM526 613h1v5h-1zM527 611h1v3h-1zM528 610h1v1h-1zM529 610h1v2h-1zM530 612h1v3h-1zM531 615h1v2h-1zM532 617h1v2h-1zM533 618h1v2h-1zM534 620h1v1h-1zM535 619h1v2h-1zM536 617h1v3h-1zM537 616h1v2h-1zM538 616h1v1h-1zM539 616h1v1h-1zM540 615h1v1h-1zM541 615h1v1h-1zM542 615h1v1h-1zM543 615h1v1h-1zM544 616h1v1h-1zM545 616h1v2h-1zM546 617h1v3h-1zM547 619h1v2h-1zM548 617h1v3h-1zM549 615h1v3h-1zM550 614h1v2h-1zM551 613h1v1h-1zM552 613h1v1h-1zM553 613h1v2h-1zM554 610h1v3h-1zM555 608h1v2h-1zM556 609h1v3h-1zM557 611h1v2h-1zM558 612h1v1h-1zM559 612h1v1h-1zM560 612h1v1h-1zM561 613h1v1h-1zM562 612h1v1h-1zM563 611h1v1h-1zM564 610h1v1h-1zM565 608h1v3h-1zM566 604h1v5h-1zM567 602h1v3h-1zM568 602h1v1h-1zM569 602h1v1h-1zM570 602h1v1h-1zM571 601h1v3h-1zM572 604h1v5h-1zM573 609h1v3h-1zM574 606h1v4h-1zM575 604h1v3h-1zM576 606h1v3h-1zM577 609h1v2h-1zM578 607h1v3h-1zM579 606h1v2h-1zM580 607h1v2h-1zM581 608h1v2h-1zM582 606h1v3h-1zM583 604h1v3h-1zM584 601h1v3h-1zM585 600h1v2h-1zM586 598h1v2h-1zM587 597h1v2h-1zM588 598h1v3h-1zM589 600h1v2h-1zM590 601h1v1h-1zM591 601h1v1h-1zM592 600h1v1h-1zM593 599h1v1h-1zM594 598h1v1h-1zM595 597h1v4h-1zM596 600h1v6h-1zM597 606h1v3h-1zM598 608h1v1h-1zM599 609h1v1h-1zM600 610h1v1h-1zM601 611h1v1h-1zM602 610h1v1h-1zM603 609h1v1h-1zM604 609h1v1h-1zM605 609h1v3h-1zM606 612h1v5h-1zM607 616h1v3h-1zM608 615h1v3h-1zM609 613h1v2h-1zM610 614h1v1h-1zM611 615h1v1h-1zM612 615h1v1h-1zM613 615h1v1h-1zM614 616h1v1h-1zM615 616h1v2h-1zM616 617h1v2h-1zM617 619h1v3h-1zM618 622h1v5h-1zM619 627h1v3h-1zM620 628h1v1h-1zM621 627h1v1h-1zM622 627h1v1h-1zM623 627h1v1h-1zM624 625h1v2h-1zM625 624h1v2h-1zM626 623h1v1h-1zM627 622h1v1h-1zM628 622h1v1h-1zM629 621h1v2h-1zM630 618h1v3h-1zM631 616h1v2h-1zM632 617h1v2h-1zM633 618h1v2h-1zM634 617h1v2h-1zM635 616h1v1h-1zM636 614h1v2h-1zM637 613h1v2h-1zM638 612h1v1h-1zM639 612h1v1h-1zM640 611h1v1h-1zM641 610h1v2h-1zM642 612h1v3h-1zM643 615h1v2h-1zM644 617h1v1h-1zM645 618h1v1h-1zM646 618h1v1h-1zM647 618h1v1h-1zM648 617h1v1h-1zM649 616h1v1h-1zM650 616h1v1h-1zM651 616h1v2h-1zM652 617h1v3h-1zM653 619h1v2h-1zM654 621h1v1h-1zM655 621h1v2h-1zM656 617h1v4h-1zM657 615h1v3h-1zM658 613h1v2h-1zM659 612h1v2h-1zM660 611h1v1h-1zM661 610h1v1h-1zM662 610h1v1h-1zM663 610h1v2h-1zM664 611h1v3h-1zM665 614h1v3h-1zM666 616h1v3h-1zM667 619h1v2h-1zM668 620h1v1h-1zM669 619h1v1h-1zM670 620h1v1h-1zM671 619h1v2h-1zM672 616h1v3h-1zM673 614h1v2h-1zM674 616h1v3h-1zM675 618h1v2h-1zM676 619h1v1h-1zM677 620h1v1h-1zM678 621h1v1h-1zM679 620h1v3h-1zM680 617h1v4h-1zM681 615h1v2h-1zM682 614h1v1h-1zM683 614h1v1h-1zM684 615h1v1h-1zM685 616h1v1h-1zM686 617h1v1h-1zM687 617h1v2h-1zM688 618h1v2h-1zM689 617h1v4h-1zM690 611h1v7h-1zM691 607h1v4h-1zM692 607h1v1h-1zM693 607h1v1h-1zM694 606h1v1h-1zM695 606h1v2h-1zM696 607h1v2h-1zM697 609h1v2h-1zM698 610h1v3h-1zM699 612h1v2h-1zM700 614h1v1h-1zM701 614h1v2h-1zM702 615h1v3h-1zM703 617h1v3h-1zM704 619h1v3h-1zM705 621h1v3h-1zM706 623h1v3h-1zM707 625h1v2h-1zM708 626h1v1h-1zM709 626h1v1h-1zM710 627h1v1h-1zM711 628h1v2h-1zM712 630h1v3h-1zM713 632h1v3h-1zM714 629h1v4h-1zM715 626h1v3h-1zM716 624h1v3h-1zM717 622h1v2h-1zM718 622h1v1h-1zM719 621h1v1h-1zM720 620h1v1h-1zM721 620h1v2h-1zM722 621h1v2h-1zM723 622h1v2h-1zM724 621h1v2h-1zM725 619h1v2h-1zM726 616h1v3h-1zM727 614h1v3h-1zM728 616h1v4h-1zM729 620h1v2h-1zM730 620h1v1h-1zM731 619h1v1h-1zM732 619h1v1h-1zM733 619h1v2h-1zM734 615h1v4h-1zM735 613h1v3h-1zM736 615h1v3h-1zM737 617h1v2h-1zM738 619h1v1h-1zM739 619h1v1h-1zM740 619h1v1h-1zM741 620h1v1h-1zM742 620h1v1h-1zM743 621h1v1h-1zM744 621h1v1h-1zM745 622h1v1h-1zM746 623h1v2h-1zM747 624h1v3h-1zM748 626h1v3h-1zM749 628h1v2h-1zM750 626h1v3h-1zM751 623h1v3h-1zM752 620h1v3h-1zM753 618h1v2h-1zM754 618h1v1h-1zM755 617h1v2h-1zM756 615h1v3h-1zM757 614h1v2h-1zM758 613h1v1h-1zM759 612h1v2h-1zM760 613h1v2h-1zM761 615h1v2h-1zM762 617h1v3h-1zM763 620h1v3h-1zM764 622h1v3h-1zM765 624h1v2h-1zM766 625h1v1h-1zM767 625h1v1h-1zM768 625h1v1h-1zM769 625h1v1h-1zM770 625h1v1h-1zM771 625h1v1h-1zM772 625h1v1h-1zM773 625h1v2h-1zM774 626h1v3h-1zM775 628h1v2h-1zM776 629h1v1h-1zM777 628h1v2h-1zM778 626h1v3h-1zM779 624h1v2h-1zM780 625h1v2h-1zM781 627h1v1h-1zM782 626h1v1h-1zM783 625h1v2h-1zM784 626h1v3h-1zM785 628h1v2h-1zM786 630h1v1h-1zM787 630h1v2h-1zM788 627h1v3h-1zM789 625h1v2h-1zM790 626h1v3h-1zM791 628h1v2h-1zM792 625h1v3h-1zM793 623h1v2h-1zM794 623h1v1h-1zM795 621h1v3h-1zM796 617h1v5h-1zM797 615h1v3h-1zM798 614h1v1h-1zM799 613h1v2h-1zM800 614h1v3h-1zM801 616h1v2h-1zM802 616h1v1h-1zM803 615h1v2h-1zM804 613h1v3h-1zM805 611h1v2h-1zM806 611h1v1h-1zM807 610h1v2h-1zM808 611h1v3h-1zM809 613h1v2h-1zM810 615h1v1h-1zM811 614h1v2h-1zM812 612h1v3h-1zM813 611h1v2h-1zM814 612h1v2h-1zM815 613h1v2h-1zM816 615h1v1h-1zM817 615h1v1h-1zM818 614h1v1h-1zM819 614h1v2h-1zM820 616h1v3h-1zM821 619h1v2h-1zM822 621h1v1h-1zM823 621h1v2h-1zM824 618h1v3h-1zM825 616h1v2h-1zM826 617h1v3h-1zM827 620h1v2h-1zM828 620h1v1h-1zM829 619h1v2h-1zM830 617h1v3h-1zM831 616h1v2h-1zM832 617h1v3h-1zM833 619h1v3h-1zM834 621h1v3h-1zM835 624h1v3h-1zM836 627h1v3h-1zM837 630h1v2h-1zM838 632h1v1h-1zM839 632h1v1h-1zM840 633h1v1h-1zM841 633h1v2h-1zM842 630h1v3h-1zM843 629h1v2h-1zM844 630h1v2h-1zM845 631h1v2h-1zM846 627h1v4h-1zM847 623h1v5h-1zM848 617h1v6h-1zM849 614h1v4h-1zM850 615h1v1h-1zM851 616h1v1h-1zM852 615h1v1h-1zM853 614h1v1h-1zM854 614h1v1h-1zM855 613h1v2h-1zM856 614h1v3h-1zM857 616h1v4h-1zM858 619h1v4h-1zM859 623h1v2h-1zM860 625h1v1h-1zM861 625h1v2h-1zM862 626h1v2h-1zM863 628h1v1h-1zM864 626h1v2h-1zM865 625h1v2h-1zM866 626h1v1h-1zM867 626h1v2h-1zM868 622h1v4h-1zM869 619h1v4h-1zM870 618h1v2h-1zM871 616h1v2h-1zM872 615h1v2h-1zM873 614h1v1h-1zM874 614h1v1h-1zM875 615h1v1h-1zM876 615h1v1h-1zM877 615h1v1h-1zM878 616h1v1h-1zM879 616h1v2h-1zM880 618h1v3h-1zM881 621h1v2h-1zM882 618h1v3h-1zM883 617h1v2h-1zM884 618h1v1h-1zM885 618h1v2h-1zM886 619h1v2h-1zM887 620h1v2h-1zM888 618h1v3h-1zM889 617h1v2h-1zM890 618h1v1h-1zM891 617h1v2h-1zM892 615h1v3h-1zM893 613h1v2h-1zM894 613h1v1h-1zM895 614h1v1h-1zM896 615h1v2h-1zM897 616h1v2h-1zM898 617h1v1h-1zM899 618h1v1h-1zM900 618h1v1h-1zM901 618h1v1h-1zM902 618h1v1h-1zM903 616h1v3h-1zM904 613h1v4h-1zM905 610h1v3h-1zM906 607h1v3h-1zM907 605h1v3h-1zM908 608h1v5h-1zM909 613h1v4h-1zM910 616h1v3h-1zM911 618h1v2h-1zM912 616h1v3h-1zM913 615h1v2h-1zM914 615h1v1h-1zM915 614h1v1h-1zM916 612h1v2h-1zM917 611h1v2h-1zM918 612h1v3h-1zM919 614h1v2h-1zM920 615h1v1h-1zM921 615h1v1h-1zM922 615h1v1h-1zM923 615h1v1h-1zM924 615h1v1h-1zM925 615h1v1h-1zM926 615h1v1h-1zM927 615h1v1h-1z" fill="#1e90ff" shape-rendering="crispEdges"/>
<g shape-rendering="crispEdges">
<rect x="3" y="40" width="1162" height="2" fill="#ff0000"/>
<rect x="3" y="162" width="1162" height="2" fill="#ff0000"/>
<rect x="3" y="265" width="1162" height="2" fill="#00ff00"/>
<rect x="3" y="343" width="1162" height="2" fill="#0000ff"/>
<rect x="3" y="441" width="1162" height="2" fill="#0000ff"/>
<rect x="2" y="263" width="6" height="6" fill="#00ff00"/><rect x="4" y="265" width="2" height="2" fill="#fff"/>
<rect x="2" y="341" width="6" height="6" fill="#0000ff"/><rect x="4" y="343" width="2" height="2" fill="#fff"/>
<rect x="1159" y="341" width="6" height="6" fill="#0000ff"/><rect x="1161" y="343" width="2" height="2" fill="#fff"/>
<rect x="2.5" y="22.5" width="1163" height="460" fill="none" stroke="#000"/>
<rect x="2.5" y="484.5" width="1163" height="84" fill="none" stroke="#000"/>
<rect x="2.5" y="570.5" width="1163" height="88" fill="none" stroke="#000"/>
<rect x="1166" y="50" width="2" height="1" fill="#000"/>
<rect x="1166" y="83" width="2" height="1" fill="#000"/>
<rect x="1166" y="116" width="2" height="1" fill="#000"/>
<rect x="1166" y="149" width="2" height="1" fill="#000"/>
<rect x="1166" y="182" width="2" height="1" fill="#000"/>
<rect x="1166" y="215" width="2" height="1" fill="#000"/>
<rect x="1166" y="248" width="2" height="1" fill="#000"/>
<rect x="1166" y="281" width="2" height="1" fill="#000"/>
<rect x="1166" y="314" width="2" height="1" fill="#000"/>
<rect x="1166" y="347" width="2" height="1" fill="#000"/>
<rect x="1166" y="380" width="2" height="1" fill="#000"/>
<rect x="1166" y="413" width="2" height="1" fill="#000"/>
<rect x="1166" y="446" width="2" height="1" fill="#000"/>
<rect x="1166" y="479" width="2" height="1" fill="#000"/>
</g>
<g transform="translate(1171,54) scale(0.974,1)"><text x="0" y="0" font-size="9.5" fill="#000">0.93630</text></g>
<g transform="translate(1171,87) scale(0.974,1)"><text x="0" y="0" font-size="9.5" fill="#000">0.93360</text></g>
<g transform="translate(1171,120) scale(0.974,1)"><text x="0" y="0" font-size="9.5" fill="#000">0.93085</text></g>
<g transform="translate(1171,153) scale(0.974,1)"><text x="0" y="0" font-size="9.5" fill="#000">0.92815</text></g>
<g transform="translate(1171,186) scale(0.974,1)"><text x="0" y="0" font-size="9.5" fill="#000">0.92545</text></g>
<g transform="translate(1171,219) scale(0.974,1)"><text x="0" y="0" font-size="9.5" fill="#000">0.92270</text></g>
<g transform="translate(1171,252) scale(0.974,1)"><text x="0" y="0" font-size="9.5" fill="#000">0.92000</text></g>
<g transform="translate(1171,285) scale(0.974,1)"><text x="0" y="0" font-size="9.5" fill="#000">0.91730</text></g>
<g transform="translate(1171,318) scale(0.974,1)"><text x="0" y="0" font-size="9.5" fill="#000">0.91455</text></g>
<g transform="translate(1171,351) scale(0.974,1)"><text x="0" y="0" font-size="9.5" fill="#000">0.91185</text></g>
<g transform="translate(1171,384) scale(0.974,1)"><text x="0" y="0" font-size="9.5" fill="#000">0.90915</text></g>
<g transform="translate(1171,417) scale(0.974,1)"><text x="0" y="0" font-size="9.5" fill="#000">0.90640</text></g>
<g transform="translate(1171,450) scale(0.974,1)"><text x="0" y="0" font-size="9.5" fill="#000">0.90370</text></g>
<g transform="translate(1171,483) scale(0.974,1)"><text x="0" y="0" font-size="9.5" fill="#000">0.90100</text></g>
<g shape-rendering="crispEdges">
<rect x="1167" y="35" width="41" height="11" fill="#ff0000"/>
<rect x="1167" y="157" width="41" height="11" fill="#ff0000"/>
<rect x="1167" y="260" width="41" height="11" fill="#00ff00"/>
<rect x="1167" y="325" width="41" height="11" fill="#000000"/>
<rect x="1167" y="338" width="41" height="11" fill="#0000ff"/>
<rect x="1167" y="436" width="41" height="11" fill="#0000ff"/>
</g>
<g transform="translate(1171,44) scale(0.974,1)"><text x="0" y="0" font-size="9.5" fill="#fff">0.93702</text></g>
<g transform="translate(1171,166) scale(0.974,1)"><text x="0" y="0" font-size="9.5" fill="#fff">0.92699</text></g>
<g transform="translate(1171,269) scale(0.974,1)"><text x="0" y="0" font-size="9.5" fill="#000">0.91855</text></g>
<g transform="translate(1171,334) scale(0.974,1)"><text x="0" y="0" font-size="9.5" fill="#fff">0.91326</text></g>
<g transform="translate(1171,347) scale(0.974,1)"><text x="0" y="0" font-size="9.5" fill="#fff">0.91208</text></g>
<g transform="translate(1171,445) scale(0.974,1)"><text x="0" y="0" font-size="9.5" fill="#fff">0.90405</text></g>
<g shape-rendering="crispEdges">
<rect x="1166" y="486" width="2" height="1" fill="#000"/>
<rect x="1166" y="531" width="2" height="1" fill="#000"/>
<rect x="1166" y="567" width="2" height="1" fill="#000"/>
<rect x="1166" y="572" width="2" height="1" fill="#000"/>
<rect x="1166" y="657" width="2" height="1" fill="#000"/>
</g>
<g transform="translate(1170,496) scale(0.974,1)"><text x="0" y="0" font-size="9.5" fill="#000">0.00431</text></g>
<g transform="translate(1170,535) scale(0.974,1)"><text x="0" y="0" font-size="9.5" fill="#000">0.00</text></g>
<g transform="translate(1170,566) scale(0.974,1)"><text x="0" y="0" font-size="9.5" fill="#000">-0.003405</text></g>
<g transform="translate(1169,581) scale(0.974,1)"><text x="0" y="0" font-size="9.5" fill="#000">100</text></g>
<g transform="translate(1169,601) scale(0.974,1)"><text x="0" y="0" font-size="9.5" fill="#000">70</text></g>
<g transform="translate(1169,636) scale(0.974,1)"><text x="0" y="0" font-size="9.5" fill="#000">30</text></g>
<g transform="translate(1169,655) scale(0.974,1)"><text x="0" y="0" font-size="9.5" fill="#000">0</text></g>
<polygon points="6,33 13,33 9.5,29" fill="#000"/>
<g transform="translate(18,34) scale(0.99,1)"><text x="0" y="0" font-size="9.5" fill="#000">USDCHF,H4&#160; 0.91331 0.91334 0.91325 0.91326</text></g>
<g transform="translate(7,497) scale(0.99,1)"><text x="0" y="0" font-size="9.5" fill="#000">MACD(12,26,9) 0.000067 0.000077</text></g>
<g transform="translate(7,583) scale(1.0,1)"><text x="0" y="0" font-size="9.5" fill="#000">RSI(14) 49.1777</text></g>
<g shape-rendering="crispEdges">
<rect x="3" y="659" width="1" height="3" fill="#000"/>
<rect x="67" y="659" width="1" height="3" fill="#000"/>
<rect x="131" y="659" width="1" height="3" fill="#000"/>
<rect x="195" y="659" width="1" height="3" fill="#000"/>
<rect x="259" y="659" width="1" height="3" fill="#000"/>
<rect x="323" y="659" width="1" height="3" fill="#000"/>
<rect x="387" y="659" width="1" height="3" fill="#000"/>
<rect x="451" y="659" width="1" height="3" fill="#000"/>
<rect x="515" y="659" width="1" height="3" fill="#000"/>
<rect x="579" y="659" width="1" height="3" fill="#000"/>
<rect x="643" y="659" width="1" height="3" fill="#000"/>
<rect x="707" y="659" width="1" height="3" fill="#000"/>
<rect x="771" y="659" width="1" height="3" fill="#000"/>
<rect x="835" y="659" width="1" height="3" fill="#000"/>
<rect x="899" y="659" width="1" height="3" fill="#000"/>
</g>
<g transform="translate(3,671) scale(0.974,1)"><text x="0" y="0" font-size="9.5" fill="#000">23 Jul 2021</text></g>
<g transform="translate(67,671) scale(0.974,1)"><text x="0" y="0" font-size="9.5" fill="#000">30 Jul 18:00</text></g>
<g transform="translate(131,671) scale(0.974,1)"><text x="0" y="0" font-size="9.5" fill="#000">7 Aug 00:00</text></g>
<g transform="translate(195,671) scale(0.974,1)"><text x="0" y="0" font-size="9.5" fill="#000">16 Aug 11:00</text></g>
<g transform="translate(259,671) scale(0.974,1)"><text x="0" y="0" font-size="9.5" fill="#000">23 Aug 19:00</text></g>
<g transform="translate(323,671) scale(0.974,1)"><text x="0" y="0" font-size="9.5" fill="#000">31 Aug 00:00</text></g>
<g transform="translate(387,671) scale(0.974,1)"><text x="0" y="0" font-size="9.5" fill="#000">7 Sep 10:00</text></g>
<g transform="translate(451,671) scale(0.974,1)"><text x="0" y="0" font-size="9.5" fill="#000">14 Sep 18:00</text></g>
<g transform="translate(515,671) scale(0.974,1)"><text x="0" y="0" font-size="9.5" fill="#000">22 Sep 00:00</text></g>
<g transform="translate(579,671) scale(0.974,1)"><text x="0" y="0" font-size="9.5" fill="#000">29 Sep 10:00</text></g>
<g transform="translate(643,671) scale(0.974,1)"><text x="0" y="0" font-size="9.5" fill="#000">6 Oct 18:00</text></g>
<g transform="translate(707,671) scale(0.974,1)"><text x="0" y="0" font-size="9.5" fill="#000">14 Oct 00:00</text></g>
<g transform="translate(771,671) scale(0.974,1)"><text x="0" y="0" font-size="9.5" fill="#000">21 Oct 10:00</text></g>
<g transform="translate(835,671) scale(0.974,1)"><text x="0" y="0" font-size="9.5" fill="#000">28 Oct 18:00</text></g>
<g transform="translate(899,671) scale(0.974,1)"><text x="0" y="0" font-size="9.5" fill="#000">5 Nov 00:00</text></g>
</svg>
<div class="a" style="left:4px;top:36px;width:223px;height:64px;background:#fff"></div>
<div class="a" style="left:6px;top:42px;width:50px;height:23px;border:1px solid #c81010;border-bottom:none;background:linear-gradient(#f75a5c,#d82c2e)"></div>
<div class="a" style="left:173px;top:42px;width:50px;height:23px;border:1px solid #c81010;border-bottom:none;background:linear-gradient(#f75a5c,#d82c2e)"></div>
<div class="a" style="left:6px;top:66px;width:107px;height:32px;border:1px solid #b00000;border-top:none;background:linear-gradient(#d2262a,#ad0008)"></div>
<div class="a" style="left:117px;top:66px;width:106px;height:32px;border:1px solid #b00000;border-top:none;background:linear-gradient(#d2262a,#ad0008)"></div>
<div class="a" style="left:58px;top:66px;width:57px;height:1px;background:#c01010"></div>
<div class="a" style="left:117px;top:66px;width:56px;height:1px;background:#c01010"></div>
<div class="a" style="left:10px;top:65px;width:45px;height:1px;background:#a00000"></div>
<div class="a" style="left:10px;top:66px;width:45px;height:1px;background:#f08a8a"></div>
<div class="a" style="left:177px;top:65px;width:45px;height:1px;background:#a00000"></div>
<div class="a" style="left:177px;top:66px;width:45px;height:1px;background:#f08a8a"></div>
<div class="a" style="left:60px;top:42px;width:109px;height:20px;border:1px solid #a9adb5;background:#fff"></div>
<div class="a" style="left:62px;top:44px;width:18px;height:18px;background:linear-gradient(#f2f2f2 0%,#e8e8e8 45%,#d8d8d8 50%,#cfcfcf 100%)"></div>
<div class="a" style="left:81px;top:43px;width:1px;height:20px;background:#a9adb5"></div>
<div class="a" style="left:150px;top:44px;width:19px;height:18px;background:linear-gradient(#f2f2f2 0%,#e8e8e8 45%,#d8d8d8 50%,#cfcfcf 100%)"></div>
<div class="a" style="left:149px;top:43px;width:1px;height:20px;background:#a9adb5"></div>
<svg class="a" style="left:0;top:0" width="230" height="105">
<polygon points="67.5,51 73.5,51 70.5,54" fill="#4060c0"/>
<polygon points="156.5,54 162.5,54 159.5,51" fill="#4060c0"/>
<g transform="translate(122,57) scale(0.98,1)"><text x="0" y="0" font-size="12" fill="#000">3.00</text></g>
<g transform="translate(18,58) scale(0.91,1)"><text x="0" y="0" font-size="11.5" fill="#ffe8e8">SELL</text></g>
<g transform="translate(186,58) scale(0.98,1)"><text x="0" y="0" font-size="11.5" fill="#ffe8e8">BUY</text></g>
<g transform="translate(26,94) scale(1.0,1)"><text x="0" y="0" font-size="12" fill="#fff" font-weight="bold">0.91</text></g>
<g transform="translate(55,94) scale(0.87,1)"><text x="0" y="0" font-size="34" fill="#fff">32</text></g>
<g transform="translate(93,78) scale(0.85,1)"><text x="0" y="0" font-size="12" fill="#fff" font-weight="bold">9</text></g>
<g transform="translate(136,94) scale(1.0,1)"><text x="0" y="0" font-size="12" fill="#fff" font-weight="bold">0.91</text></g>
<g transform="translate(166,94) scale(0.87,1)"><text x="0" y="0" font-size="34" fill="#fff">34</text></g>
<g transform="translate(204,78) scale(0.95,1)"><text x="0" y="0" font-size="12" fill="#fff" font-weight="bold">6</text></g>
</svg>
<div class="a" style="left:0;top:679px;width:1208px;height:26px;background:#f0f0f0"></div>
<div class="a" style="left:0;top:679px;width:1208px;height:1px;background:#e0e0e0"></div>
<div class="a" style="left:0;top:681px;width:1208px;height:1px;background:#000"></div>
<div class="a" style="left:0;top:701px;width:1208px;height:1px;background:#fafafa"></div>
<div class="a" style="left:212px;top:681px;width:86px;height:18px;border:1px solid #000;border-top:none;background:#fff"></div>
<svg class="a" style="left:0;top:670px" width="1208" height="35">
<text x="16" y="26" font-size="12" fill="#6e6e6e" textLength="81" lengthAdjust="spacingAndGlyphs">EURUSD,Daily</text>
<text x="119" y="26" font-size="12" fill="#6e6e6e" textLength="82" lengthAdjust="spacingAndGlyphs">AUDUSD,Daily</text>
<text x="222" y="26" font-size="12" fill="#000" textLength="67" lengthAdjust="spacingAndGlyphs">USDCHF,H4</text>
<text x="311" y="26" font-size="12" fill="#6e6e6e" textLength="81" lengthAdjust="spacingAndGlyphs">USDCAD,Daily</text>
<text x="414" y="26" font-size="12" fill="#6e6e6e" textLength="83" lengthAdjust="spacingAndGlyphs">USDCNH,Daily</text>
<text x="520" y="26" font-size="12" fill="#6e6e6e" textLength="52" lengthAdjust="spacingAndGlyphs">UKOil,H4</text>
<text x="594" y="26" font-size="12" fill="#6e6e6e" textLength="47" lengthAdjust="spacingAndGlyphs">DJ30,H1</text>
<text x="663" y="26" font-size="12" fill="#6e6e6e" textLength="78" lengthAdjust="spacingAndGlyphs">USDX,Weekly</text>
<text x="763" y="26" font-size="12" fill="#6e6e6e" textLength="69" lengthAdjust="spacingAndGlyphs">XAUUSD,H1</text>
<text x="856" y="26" font-size="12" fill="#6e6e6e" textLength="67" lengthAdjust="spacingAndGlyphs">GBPUSD,H1</text>
<text x="947" y="26" font-size="12" fill="#6e6e6e" textLength="78" lengthAdjust="spacingAndGlyphs">USDX,Weekly</text>
<rect x="108" y="16" width="1" height="12" fill="#6e6e6e" shape-rendering="crispEdges"/>
<rect x="404" y="16" width="1" height="12" fill="#6e6e6e" shape-rendering="crispEdges"/>
<rect x="508" y="16" width="1" height="12" fill="#6e6e6e" shape-rendering="crispEdges"/>
<rect x="584" y="16" width="1" height="12" fill="#6e6e6e" shape-rendering="crispEdges"/>
<rect x="652" y="16" width="1" height="12" fill="#6e6e6e" shape-rendering="crispEdges"/>
<rect x="752" y="16" width="1" height="12" fill="#6e6e6e" shape-rendering="crispEdges"/>
<rect x="844" y="16" width="1" height="12" fill="#6e6e6e" shape-rendering="crispEdges"/>
<rect x="936" y="16" width="1" height="12" fill="#6e6e6e" shape-rendering="crispEdges"/>
<rect x="1036" y="16" width="1" height="12" fill="#6e6e6e" shape-rendering="crispEdges"/>
<polygon points="1180.5,20 1184.5,16.5 1184.5,23.5" fill="#8c8c8c"/>
<polygon points="1203.5,20 1199.5,16.5 1199.5,23.5" fill="#8c8c8c"/>
</svg>
</body></html>
